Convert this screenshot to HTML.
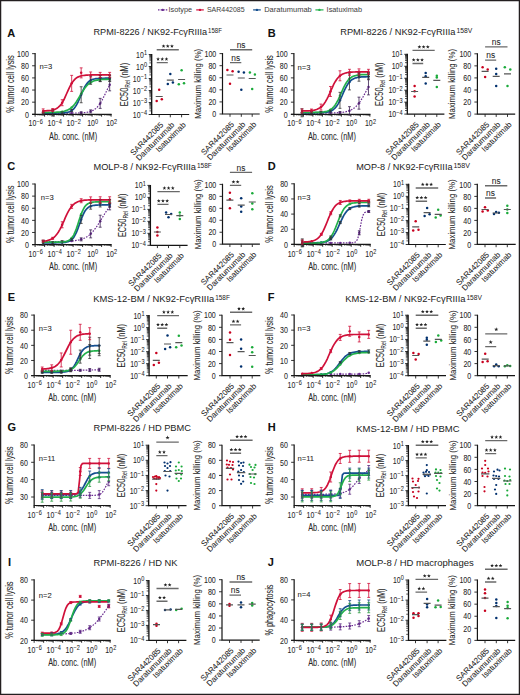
<!DOCTYPE html>
<html><head><meta charset="utf-8"><style>
html,body{margin:0;padding:0;background:#fff;}
svg{display:block;font-family:"Liberation Sans", sans-serif;}
text{stroke:#262626;stroke-width:0.06px;}
</style></head><body>
<svg width="520" height="695" viewBox="0 0 520 695">
<rect x="0.6" y="0.6" width="518.8" height="693.8" fill="#fff" stroke="#231f20" stroke-width="1.3"/>
<line x1="158" y1="9.9" x2="167.5" y2="9.9" stroke="#6a2c91" stroke-width="1.2" stroke-dasharray="1.5,1.1"/>
<circle cx="162.75" cy="9.9" r="1.2" fill="#6a2c91"/>
<text x="168.5" y="12.1" font-size="7.6" fill="#3a3a3a" style="stroke:none" textLength="23.5" lengthAdjust="spacingAndGlyphs">Isotype</text>
<line x1="196.2" y1="9.9" x2="203.8" y2="9.9" stroke="#d0103a" stroke-width="1.2"/>
<circle cx="200.00" cy="9.9" r="1.2" fill="#d0103a"/>
<text x="206.9" y="12.1" font-size="7.6" fill="#3a3a3a" style="stroke:none" textLength="37.7" lengthAdjust="spacingAndGlyphs">SAR442085</text>
<line x1="253.1" y1="9.9" x2="260.8" y2="9.9" stroke="#154f8f" stroke-width="1.2"/>
<circle cx="256.95" cy="9.9" r="1.2" fill="#154f8f"/>
<text x="264.2" y="12.1" font-size="7.6" fill="#3a3a3a" style="stroke:none" textLength="47.6" lengthAdjust="spacingAndGlyphs">Daratumumab</text>
<line x1="315.4" y1="9.9" x2="323.5" y2="9.9" stroke="#22b04b" stroke-width="1.2"/>
<circle cx="319.45" cy="9.9" r="1.2" fill="#22b04b"/>
<text x="326.6" y="12.1" font-size="7.6" fill="#3a3a3a" style="stroke:none" textLength="35.4" lengthAdjust="spacingAndGlyphs">Isatuximab</text>
<text x="7.20" y="36.80" font-size="11" font-weight="bold" fill="#111">A</text>
<text x="93.50" y="35.20" font-size="9.3" fill="#222" style="stroke:none" textLength="113.70" lengthAdjust="spacingAndGlyphs">RPMI-8226 / NK92-FcγRIIIa</text>
<text x="208.10" y="33.20" font-size="6.6" fill="#222" style="stroke:none" textLength="13.80" lengthAdjust="spacingAndGlyphs">158F</text>
<text x="28.90" y="117.50" font-size="8.5" text-anchor="end" textLength="3.93" lengthAdjust="spacingAndGlyphs" fill="#262626">0</text>
<text x="28.90" y="105.37" font-size="8.5" text-anchor="end" textLength="7.86" lengthAdjust="spacingAndGlyphs" fill="#262626">20</text>
<text x="28.90" y="93.24" font-size="8.5" text-anchor="end" textLength="7.86" lengthAdjust="spacingAndGlyphs" fill="#262626">40</text>
<text x="28.90" y="81.11" font-size="8.5" text-anchor="end" textLength="7.86" lengthAdjust="spacingAndGlyphs" fill="#262626">60</text>
<text x="28.90" y="68.98" font-size="8.5" text-anchor="end" textLength="7.86" lengthAdjust="spacingAndGlyphs" fill="#262626">80</text>
<text x="28.90" y="56.85" font-size="8.5" text-anchor="end" textLength="11.79" lengthAdjust="spacingAndGlyphs" fill="#262626">100</text>
<text x="28.56" y="126.40" font-size="8.3" fill="#262626" textLength="7.7" lengthAdjust="spacingAndGlyphs">10</text>
<text x="36.46" y="123.83" font-size="6.44" fill="#262626" textLength="6.38" lengthAdjust="spacingAndGlyphs">−6</text>
<text x="47.56" y="126.40" font-size="8.3" fill="#262626" textLength="7.7" lengthAdjust="spacingAndGlyphs">10</text>
<text x="55.46" y="123.83" font-size="6.44" fill="#262626" textLength="6.38" lengthAdjust="spacingAndGlyphs">−4</text>
<text x="66.56" y="126.40" font-size="8.3" fill="#262626" textLength="7.7" lengthAdjust="spacingAndGlyphs">10</text>
<text x="74.46" y="123.83" font-size="6.44" fill="#262626" textLength="6.38" lengthAdjust="spacingAndGlyphs">−2</text>
<text x="87.19" y="126.40" font-size="8.3" fill="#262626" textLength="7.7" lengthAdjust="spacingAndGlyphs">10</text>
<text x="95.09" y="123.83" font-size="6.44" fill="#262626" textLength="3.11" lengthAdjust="spacingAndGlyphs">0</text>
<text x="106.19" y="126.40" font-size="8.3" fill="#262626" textLength="7.7" lengthAdjust="spacingAndGlyphs">10</text>
<text x="114.09" y="123.83" font-size="6.44" fill="#262626" textLength="3.11" lengthAdjust="spacingAndGlyphs">2</text>
<text x="73.10" y="139.70" font-size="10.2" text-anchor="middle" textLength="48.00" lengthAdjust="spacingAndGlyphs" fill="#262626">Ab. conc. (nM)</text>
<text transform="translate(13.70,83.97) rotate(-90)" font-size="10.2" text-anchor="middle" fill="#262626" textLength="57.4" lengthAdjust="spacingAndGlyphs">% tumor cell lysis</text>
<text x="39.40" y="69.20" font-size="7.6" fill="#262626">n=3</text>
<path d="M43.2,113.1 L44.6,113.1 L45.9,113.1 L47.3,113.1 L48.7,113.1 L50.1,113.1 L51.5,113.1 L52.9,113.1 L54.3,113.1 L55.6,113.1 L57.0,113.1 L58.4,113.1 L59.8,113.1 L61.2,113.1 L62.6,113.1 L64.0,113.1 L65.3,113.1 L66.7,113.1 L68.1,113.1 L69.5,113.1 L70.9,113.1 L72.3,113.0 L73.7,113.0 L75.0,113.0 L76.4,113.0 L77.8,113.0 L79.2,112.9 L80.6,112.9 L82.0,112.8 L83.4,112.7 L84.7,112.6 L86.1,112.4 L87.5,112.2 L88.9,111.9 L90.3,111.5 L91.7,111.0 L93.0,110.4 L94.4,109.5 L95.8,108.5 L97.2,107.2 L98.6,105.6 L100.0,103.7 L101.4,101.5 L102.7,98.9 L104.1,96.2 L105.5,93.3 L106.9,90.3 L108.3,87.5 L109.7,84.8" fill="none" stroke="#6a2c91" stroke-width="1.2" stroke-dasharray="1.6,1.3"/>
<path d="M43.2,113.1 L44.6,113.1 L45.9,113.1 L47.3,113.1 L48.7,113.1 L50.1,113.1 L51.5,113.1 L52.9,113.1 L54.3,113.1 L55.6,113.1 L57.0,113.0 L58.4,113.0 L59.8,113.0 L61.2,112.9 L62.6,112.9 L64.0,112.8 L65.3,112.6 L66.7,112.4 L68.1,112.1 L69.5,111.7 L70.9,111.0 L72.3,110.1 L73.7,108.9 L75.0,107.3 L76.4,105.1 L77.8,102.5 L79.2,99.5 L80.6,96.2 L82.0,92.8 L83.4,89.7 L84.7,86.9 L86.1,84.7 L87.5,82.9 L88.9,81.5 L90.3,80.5 L91.7,79.8 L93.0,79.3 L94.4,79.0 L95.8,78.7 L97.2,78.6 L98.6,78.5 L100.0,78.4 L101.4,78.3 L102.7,78.3 L104.1,78.3 L105.5,78.2 L106.9,78.2 L108.3,78.2 L109.7,78.2" fill="none" stroke="#154f8f" stroke-width="1.7"/>
<path d="M43.2,112.5 L44.6,112.5 L45.9,112.5 L47.3,112.4 L48.7,112.4 L50.1,112.4 L51.5,112.4 L52.9,112.4 L54.3,112.3 L55.6,112.3 L57.0,112.2 L58.4,112.1 L59.8,112.0 L61.2,111.8 L62.6,111.6 L64.0,111.3 L65.3,110.9 L66.7,110.4 L68.1,109.8 L69.5,109.0 L70.9,108.1 L72.3,106.8 L73.7,105.4 L75.0,103.7 L76.4,101.7 L77.8,99.5 L79.2,97.2 L80.6,94.8 L82.0,92.5 L83.4,90.3 L84.7,88.3 L86.1,86.5 L87.5,85.0 L88.9,83.7 L90.3,82.7 L91.7,81.9 L93.0,81.2 L94.4,80.7 L95.8,80.4 L97.2,80.1 L98.6,79.8 L100.0,79.7 L101.4,79.5 L102.7,79.4 L104.1,79.4 L105.5,79.3 L106.9,79.3 L108.3,79.2 L109.7,79.2" fill="none" stroke="#22b04b" stroke-width="1.7"/>
<path d="M43.2,110.9 L44.6,110.8 L45.9,110.8 L47.3,110.7 L48.7,110.6 L50.1,110.5 L51.5,110.3 L52.9,110.0 L54.3,109.6 L55.6,109.0 L57.0,108.3 L58.4,107.2 L59.8,105.9 L61.2,104.2 L62.6,102.1 L64.0,99.5 L65.3,96.6 L66.7,93.5 L68.1,90.4 L69.5,87.4 L70.9,84.7 L72.3,82.4 L73.7,80.6 L75.0,79.1 L76.4,77.9 L77.8,77.1 L79.2,76.5 L80.6,76.0 L82.0,75.7 L83.4,75.5 L84.7,75.3 L86.1,75.2 L87.5,75.1 L88.9,75.0 L90.3,75.0 L91.7,74.9 L93.0,74.9 L94.4,74.9 L95.8,74.9 L97.2,74.9 L98.6,74.9 L100.0,74.9 L101.4,74.9 L102.7,74.9 L104.1,74.9 L105.5,74.9 L106.9,74.9 L108.3,74.9 L109.7,74.9" fill="none" stroke="#d0103a" stroke-width="1.7"/>
<circle cx="43.17" cy="113.09" r="1.25" fill="#6a2c91"/>
<circle cx="52.67" cy="113.09" r="1.25" fill="#6a2c91"/>
<circle cx="62.17" cy="113.08" r="1.25" fill="#6a2c91"/>
<circle cx="71.67" cy="113.05" r="1.25" fill="#6a2c91"/>
<circle cx="81.17" cy="112.84" r="1.25" fill="#6a2c91"/>
<circle cx="90.67" cy="111.37" r="1.25" fill="#6a2c91"/>
<circle cx="100.18" cy="103.39" r="1.25" fill="#6a2c91"/>
<circle cx="109.68" cy="84.83" r="1.25" fill="#6a2c91"/>
<circle cx="43.17" cy="113.09" r="1.25" fill="#154f8f"/>
<circle cx="52.67" cy="113.07" r="1.25" fill="#154f8f"/>
<circle cx="62.17" cy="112.89" r="1.25" fill="#154f8f"/>
<circle cx="71.67" cy="110.55" r="1.25" fill="#154f8f"/>
<circle cx="81.17" cy="94.74" r="1.25" fill="#154f8f"/>
<circle cx="90.67" cy="80.30" r="1.25" fill="#154f8f"/>
<circle cx="100.18" cy="78.37" r="1.25" fill="#154f8f"/>
<circle cx="109.68" cy="78.22" r="1.25" fill="#154f8f"/>
<circle cx="43.17" cy="112.46" r="1.25" fill="#22b04b"/>
<circle cx="52.67" cy="112.36" r="1.25" fill="#22b04b"/>
<circle cx="62.17" cy="111.65" r="1.25" fill="#22b04b"/>
<circle cx="71.67" cy="107.39" r="1.25" fill="#22b04b"/>
<circle cx="81.17" cy="93.79" r="1.25" fill="#22b04b"/>
<circle cx="90.67" cy="82.45" r="1.25" fill="#22b04b"/>
<circle cx="100.18" cy="79.64" r="1.25" fill="#22b04b"/>
<circle cx="109.68" cy="79.20" r="1.25" fill="#22b04b"/>
<circle cx="43.17" cy="110.88" r="1.25" fill="#d0103a"/>
<circle cx="52.67" cy="110.01" r="1.25" fill="#d0103a"/>
<circle cx="62.17" cy="102.71" r="1.25" fill="#d0103a"/>
<circle cx="71.67" cy="83.37" r="1.25" fill="#d0103a"/>
<circle cx="81.17" cy="72.86" r="1.25" fill="#d0103a"/>
<circle cx="90.67" cy="74.97" r="1.25" fill="#d0103a"/>
<circle cx="100.18" cy="74.89" r="1.25" fill="#d0103a"/>
<circle cx="109.68" cy="74.88" r="1.25" fill="#d0103a"/>
<text x="132.82" y="117.50" font-size="8.3" fill="#262626" textLength="7.7" lengthAdjust="spacingAndGlyphs">10</text>
<text x="140.72" y="114.93" font-size="6.44" fill="#262626" textLength="6.38" lengthAdjust="spacingAndGlyphs">−4</text>
<text x="132.82" y="105.50" font-size="8.3" fill="#262626" textLength="7.7" lengthAdjust="spacingAndGlyphs">10</text>
<text x="140.72" y="102.93" font-size="6.44" fill="#262626" textLength="6.38" lengthAdjust="spacingAndGlyphs">−3</text>
<text x="132.82" y="93.50" font-size="8.3" fill="#262626" textLength="7.7" lengthAdjust="spacingAndGlyphs">10</text>
<text x="140.72" y="90.93" font-size="6.44" fill="#262626" textLength="6.38" lengthAdjust="spacingAndGlyphs">−2</text>
<text x="132.82" y="81.50" font-size="8.3" fill="#262626" textLength="7.7" lengthAdjust="spacingAndGlyphs">10</text>
<text x="140.72" y="78.93" font-size="6.44" fill="#262626" textLength="6.38" lengthAdjust="spacingAndGlyphs">−1</text>
<text x="136.09" y="69.50" font-size="8.3" fill="#262626" textLength="7.7" lengthAdjust="spacingAndGlyphs">10</text>
<text x="143.99" y="66.93" font-size="6.44" fill="#262626" textLength="3.11" lengthAdjust="spacingAndGlyphs">0</text>
<text x="136.09" y="57.50" font-size="8.3" fill="#262626" textLength="7.7" lengthAdjust="spacingAndGlyphs">10</text>
<text x="143.99" y="54.93" font-size="6.44" fill="#262626" textLength="3.11" lengthAdjust="spacingAndGlyphs">1</text>
<text transform="translate(127.70,84.50) rotate(-90)" font-size="10.2" text-anchor="middle" fill="#262626" textLength="43.5" lengthAdjust="spacingAndGlyphs">EC50<tspan font-size="7" dy="2.0">Rel</tspan><tspan dy="-2.0"> (nM)</tspan></text>
<text transform="translate(163.90,125.40) rotate(-45)" font-size="8" text-anchor="end" fill="#262626">SAR442085</text>
<text transform="translate(175.00,125.40) rotate(-45)" font-size="8" text-anchor="end" fill="#262626">Daratumumab</text>
<text transform="translate(186.30,125.40) rotate(-45)" font-size="8" text-anchor="end" fill="#262626">Isatuximab</text>
<circle cx="156.70" cy="100.90" r="1.25" fill="#c8001e"/>
<circle cx="161.80" cy="99.30" r="1.25" fill="#c8001e"/>
<circle cx="159.20" cy="89.80" r="1.25" fill="#c8001e"/>
<circle cx="167.80" cy="83.90" r="1.25" fill="#00306e"/>
<circle cx="172.90" cy="82.60" r="1.25" fill="#00306e"/>
<circle cx="170.30" cy="73.90" r="1.25" fill="#00306e"/>
<circle cx="178.80" cy="84.30" r="1.25" fill="#1aaa3a"/>
<circle cx="184.00" cy="83.30" r="1.25" fill="#1aaa3a"/>
<circle cx="181.60" cy="70.20" r="1.25" fill="#1aaa3a"/>
<text x="216.30" y="117.20" font-size="8.5" text-anchor="end" textLength="3.93" lengthAdjust="spacingAndGlyphs" fill="#262626">0</text>
<text x="216.30" y="105.12" font-size="8.5" text-anchor="end" textLength="7.86" lengthAdjust="spacingAndGlyphs" fill="#262626">20</text>
<text x="216.30" y="93.04" font-size="8.5" text-anchor="end" textLength="7.86" lengthAdjust="spacingAndGlyphs" fill="#262626">40</text>
<text x="216.30" y="80.96" font-size="8.5" text-anchor="end" textLength="7.86" lengthAdjust="spacingAndGlyphs" fill="#262626">60</text>
<text x="216.30" y="68.88" font-size="8.5" text-anchor="end" textLength="7.86" lengthAdjust="spacingAndGlyphs" fill="#262626">80</text>
<text x="216.30" y="56.80" font-size="8.5" text-anchor="end" textLength="11.79" lengthAdjust="spacingAndGlyphs" fill="#262626">100</text>
<text transform="translate(200.50,83.80) rotate(-90)" font-size="9.6" text-anchor="middle" fill="#262626" textLength="70" lengthAdjust="spacingAndGlyphs">Maximum killing (%)</text>
<text transform="translate(234.70,124.90) rotate(-45)" font-size="8" text-anchor="end" fill="#262626">SAR442085</text>
<text transform="translate(246.00,124.90) rotate(-45)" font-size="8" text-anchor="end" fill="#262626">Daratumumab</text>
<text transform="translate(256.90,124.90) rotate(-45)" font-size="8" text-anchor="end" fill="#262626">Isatuximab</text>
<circle cx="227.40" cy="69.90" r="1.25" fill="#c8001e"/>
<circle cx="232.60" cy="71.20" r="1.25" fill="#c8001e"/>
<circle cx="230.00" cy="83.80" r="1.25" fill="#c8001e"/>
<circle cx="238.60" cy="71.70" r="1.25" fill="#00306e"/>
<circle cx="243.90" cy="72.50" r="1.25" fill="#00306e"/>
<circle cx="241.30" cy="89.80" r="1.25" fill="#00306e"/>
<circle cx="249.90" cy="72.50" r="1.25" fill="#1aaa3a"/>
<circle cx="254.90" cy="74.40" r="1.25" fill="#1aaa3a"/>
<circle cx="252.20" cy="89.00" r="1.25" fill="#1aaa3a"/>
<text x="235.65" y="60.80" font-size="8.4" text-anchor="middle" fill="#262626">ns</text>
<text x="241.10" y="48.00" font-size="8.4" text-anchor="middle" fill="#262626">ns</text>
<text x="267.80" y="36.80" font-size="11" font-weight="bold" fill="#111">B</text>
<text x="340.20" y="35.20" font-size="9.3" fill="#222" style="stroke:none" textLength="115.30" lengthAdjust="spacingAndGlyphs">RPMI-8226 / NK92-FcγRIIIa</text>
<text x="456.40" y="33.20" font-size="6.6" fill="#222" style="stroke:none" textLength="15.80" lengthAdjust="spacingAndGlyphs">158V</text>
<text x="287.70" y="117.50" font-size="8.5" text-anchor="end" textLength="3.93" lengthAdjust="spacingAndGlyphs" fill="#262626">0</text>
<text x="287.70" y="105.36" font-size="8.5" text-anchor="end" textLength="7.86" lengthAdjust="spacingAndGlyphs" fill="#262626">20</text>
<text x="287.70" y="93.22" font-size="8.5" text-anchor="end" textLength="7.86" lengthAdjust="spacingAndGlyphs" fill="#262626">40</text>
<text x="287.70" y="81.08" font-size="8.5" text-anchor="end" textLength="7.86" lengthAdjust="spacingAndGlyphs" fill="#262626">60</text>
<text x="287.70" y="68.94" font-size="8.5" text-anchor="end" textLength="7.86" lengthAdjust="spacingAndGlyphs" fill="#262626">80</text>
<text x="287.70" y="56.80" font-size="8.5" text-anchor="end" textLength="11.79" lengthAdjust="spacingAndGlyphs" fill="#262626">100</text>
<text x="287.36" y="126.40" font-size="8.3" fill="#262626" textLength="7.7" lengthAdjust="spacingAndGlyphs">10</text>
<text x="295.26" y="123.83" font-size="6.44" fill="#262626" textLength="6.38" lengthAdjust="spacingAndGlyphs">−6</text>
<text x="306.36" y="126.40" font-size="8.3" fill="#262626" textLength="7.7" lengthAdjust="spacingAndGlyphs">10</text>
<text x="314.26" y="123.83" font-size="6.44" fill="#262626" textLength="6.38" lengthAdjust="spacingAndGlyphs">−4</text>
<text x="325.36" y="126.40" font-size="8.3" fill="#262626" textLength="7.7" lengthAdjust="spacingAndGlyphs">10</text>
<text x="333.26" y="123.83" font-size="6.44" fill="#262626" textLength="6.38" lengthAdjust="spacingAndGlyphs">−2</text>
<text x="345.99" y="126.40" font-size="8.3" fill="#262626" textLength="7.7" lengthAdjust="spacingAndGlyphs">10</text>
<text x="353.89" y="123.83" font-size="6.44" fill="#262626" textLength="3.11" lengthAdjust="spacingAndGlyphs">0</text>
<text x="364.99" y="126.40" font-size="8.3" fill="#262626" textLength="7.7" lengthAdjust="spacingAndGlyphs">10</text>
<text x="372.89" y="123.83" font-size="6.44" fill="#262626" textLength="3.11" lengthAdjust="spacingAndGlyphs">2</text>
<text x="331.90" y="139.70" font-size="10.2" text-anchor="middle" textLength="48.00" lengthAdjust="spacingAndGlyphs" fill="#262626">Ab. conc. (nM)</text>
<text transform="translate(272.50,83.95) rotate(-90)" font-size="10.2" text-anchor="middle" fill="#262626" textLength="57.4" lengthAdjust="spacingAndGlyphs">% tumor cell lysis</text>
<text x="297.50" y="69.70" font-size="7.6" fill="#262626">n=3</text>
<path d="M302.0,113.1 L303.4,113.1 L304.7,113.1 L306.1,113.1 L307.5,113.1 L308.9,113.1 L310.3,113.1 L311.7,113.1 L313.1,113.1 L314.4,113.1 L315.8,113.1 L317.2,113.1 L318.6,113.1 L320.0,113.1 L321.4,113.1 L322.8,113.1 L324.1,113.1 L325.5,113.0 L326.9,113.0 L328.3,113.0 L329.7,113.0 L331.1,113.0 L332.5,112.9 L333.8,112.9 L335.2,112.9 L336.6,112.8 L338.0,112.7 L339.4,112.6 L340.8,112.5 L342.2,112.4 L343.5,112.2 L344.9,111.9 L346.3,111.6 L347.7,111.3 L349.1,110.8 L350.5,110.3 L351.8,109.6 L353.2,108.7 L354.6,107.7 L356.0,106.5 L357.4,105.1 L358.8,103.4 L360.2,101.5 L361.5,99.4 L362.9,97.1 L364.3,94.6 L365.7,92.0 L367.1,89.4 L368.5,86.9" fill="none" stroke="#6a2c91" stroke-width="1.2" stroke-dasharray="1.6,1.3"/>
<path d="M302.0,112.8 L303.4,112.8 L304.7,112.8 L306.1,112.8 L307.5,112.8 L308.9,112.8 L310.3,112.8 L311.7,112.8 L313.1,112.8 L314.4,112.8 L315.8,112.7 L317.2,112.7 L318.6,112.7 L320.0,112.7 L321.4,112.6 L322.8,112.5 L324.1,112.4 L325.5,112.3 L326.9,112.1 L328.3,111.8 L329.7,111.4 L331.1,110.9 L332.5,110.2 L333.8,109.2 L335.2,107.9 L336.6,106.2 L338.0,104.1 L339.4,101.5 L340.8,98.6 L342.2,95.5 L343.5,92.4 L344.9,89.3 L346.3,86.6 L347.7,84.3 L349.1,82.4 L350.5,80.9 L351.8,79.7 L353.2,78.9 L354.6,78.2 L356.0,77.8 L357.4,77.5 L358.8,77.2 L360.2,77.1 L361.5,76.9 L362.9,76.9 L364.3,76.8 L365.7,76.8 L367.1,76.7 L368.5,76.7" fill="none" stroke="#154f8f" stroke-width="1.7"/>
<path d="M302.0,112.5 L303.4,112.5 L304.7,112.5 L306.1,112.5 L307.5,112.5 L308.9,112.5 L310.3,112.5 L311.7,112.4 L313.1,112.4 L314.4,112.4 L315.8,112.4 L317.2,112.4 L318.6,112.3 L320.0,112.2 L321.4,112.2 L322.8,112.0 L324.1,111.9 L325.5,111.6 L326.9,111.3 L328.3,110.8 L329.7,110.2 L331.1,109.3 L332.5,108.2 L333.8,106.8 L335.2,105.0 L336.6,102.7 L338.0,100.1 L339.4,97.2 L340.8,94.0 L342.2,90.8 L343.5,87.8 L344.9,85.1 L346.3,82.7 L347.7,80.7 L349.1,79.2 L350.5,78.0 L351.8,77.0 L353.2,76.3 L354.6,75.8 L356.0,75.5 L357.4,75.2 L358.8,75.0 L360.2,74.8 L361.5,74.7 L362.9,74.7 L364.3,74.6 L365.7,74.6 L367.1,74.5 L368.5,74.5" fill="none" stroke="#22b04b" stroke-width="1.7"/>
<path d="M302.0,111.0 L303.4,110.9 L304.7,110.9 L306.1,110.9 L307.5,110.8 L308.9,110.8 L310.3,110.7 L311.7,110.5 L313.1,110.3 L314.4,110.1 L315.8,109.7 L317.2,109.3 L318.6,108.6 L320.0,107.8 L321.4,106.8 L322.8,105.4 L324.1,103.7 L325.5,101.6 L326.9,99.1 L328.3,96.3 L329.7,93.3 L331.1,90.1 L332.5,87.1 L333.8,84.2 L335.2,81.7 L336.6,79.5 L338.0,77.7 L339.4,76.3 L340.8,75.2 L342.2,74.3 L343.5,73.7 L344.9,73.2 L346.3,72.8 L347.7,72.5 L349.1,72.3 L350.5,72.2 L351.8,72.1 L353.2,72.0 L354.6,72.0 L356.0,71.9 L357.4,71.9 L358.8,71.9 L360.2,71.9 L361.5,71.8 L362.9,71.8 L364.3,71.8 L365.7,71.8 L367.1,71.8 L368.5,71.8" fill="none" stroke="#d0103a" stroke-width="1.7"/>
<circle cx="301.97" cy="113.09" r="1.25" fill="#6a2c91"/>
<circle cx="311.47" cy="113.08" r="1.25" fill="#6a2c91"/>
<circle cx="320.97" cy="113.07" r="1.25" fill="#6a2c91"/>
<circle cx="330.47" cy="112.98" r="1.25" fill="#6a2c91"/>
<circle cx="339.97" cy="112.58" r="1.25" fill="#6a2c91"/>
<circle cx="349.47" cy="110.67" r="1.25" fill="#6a2c91"/>
<circle cx="358.97" cy="103.16" r="1.25" fill="#6a2c91"/>
<circle cx="368.47" cy="86.89" r="1.25" fill="#6a2c91"/>
<circle cx="301.97" cy="112.78" r="1.25" fill="#154f8f"/>
<circle cx="311.47" cy="112.77" r="1.25" fill="#154f8f"/>
<circle cx="320.97" cy="112.63" r="1.25" fill="#154f8f"/>
<circle cx="330.47" cy="111.17" r="1.25" fill="#154f8f"/>
<circle cx="339.97" cy="100.33" r="1.25" fill="#154f8f"/>
<circle cx="349.47" cy="81.90" r="1.25" fill="#154f8f"/>
<circle cx="358.97" cy="77.20" r="1.25" fill="#154f8f"/>
<circle cx="368.47" cy="76.71" r="1.25" fill="#154f8f"/>
<circle cx="301.97" cy="112.48" r="1.25" fill="#22b04b"/>
<circle cx="311.47" cy="112.45" r="1.25" fill="#22b04b"/>
<circle cx="320.97" cy="112.18" r="1.25" fill="#22b04b"/>
<circle cx="330.47" cy="109.73" r="1.25" fill="#22b04b"/>
<circle cx="339.97" cy="95.83" r="1.25" fill="#22b04b"/>
<circle cx="349.47" cy="78.80" r="1.25" fill="#22b04b"/>
<circle cx="358.97" cy="74.96" r="1.25" fill="#22b04b"/>
<circle cx="368.47" cy="74.53" r="1.25" fill="#22b04b"/>
<circle cx="301.97" cy="110.97" r="1.25" fill="#d0103a"/>
<circle cx="311.47" cy="110.54" r="1.25" fill="#d0103a"/>
<circle cx="320.97" cy="107.09" r="1.25" fill="#d0103a"/>
<circle cx="330.47" cy="91.47" r="1.25" fill="#d0103a"/>
<circle cx="339.97" cy="75.79" r="1.25" fill="#d0103a"/>
<circle cx="349.47" cy="72.30" r="1.25" fill="#d0103a"/>
<circle cx="358.97" cy="71.87" r="1.25" fill="#d0103a"/>
<circle cx="368.47" cy="71.82" r="1.25" fill="#d0103a"/>
<text x="388.42" y="117.10" font-size="8.3" fill="#262626" textLength="7.7" lengthAdjust="spacingAndGlyphs">10</text>
<text x="396.32" y="114.53" font-size="6.44" fill="#262626" textLength="6.38" lengthAdjust="spacingAndGlyphs">−4</text>
<text x="388.42" y="105.14" font-size="8.3" fill="#262626" textLength="7.7" lengthAdjust="spacingAndGlyphs">10</text>
<text x="396.32" y="102.57" font-size="6.44" fill="#262626" textLength="6.38" lengthAdjust="spacingAndGlyphs">−3</text>
<text x="388.42" y="93.18" font-size="8.3" fill="#262626" textLength="7.7" lengthAdjust="spacingAndGlyphs">10</text>
<text x="396.32" y="90.61" font-size="6.44" fill="#262626" textLength="6.38" lengthAdjust="spacingAndGlyphs">−2</text>
<text x="388.42" y="81.22" font-size="8.3" fill="#262626" textLength="7.7" lengthAdjust="spacingAndGlyphs">10</text>
<text x="396.32" y="78.65" font-size="6.44" fill="#262626" textLength="6.38" lengthAdjust="spacingAndGlyphs">−1</text>
<text x="391.69" y="69.26" font-size="8.3" fill="#262626" textLength="7.7" lengthAdjust="spacingAndGlyphs">10</text>
<text x="399.59" y="66.69" font-size="6.44" fill="#262626" textLength="3.11" lengthAdjust="spacingAndGlyphs">0</text>
<text x="391.69" y="57.30" font-size="8.3" fill="#262626" textLength="7.7" lengthAdjust="spacingAndGlyphs">10</text>
<text x="399.59" y="54.73" font-size="6.44" fill="#262626" textLength="3.11" lengthAdjust="spacingAndGlyphs">1</text>
<text transform="translate(383.30,84.20) rotate(-90)" font-size="10.2" text-anchor="middle" fill="#262626" textLength="43.5" lengthAdjust="spacingAndGlyphs">EC50<tspan font-size="7" dy="2.0">Rel</tspan><tspan dy="-2.0"> (nM)</tspan></text>
<text transform="translate(419.30,125.00) rotate(-45)" font-size="8" text-anchor="end" fill="#262626">SAR442085</text>
<text transform="translate(430.40,125.00) rotate(-45)" font-size="8" text-anchor="end" fill="#262626">Daratumumab</text>
<text transform="translate(441.50,125.00) rotate(-45)" font-size="8" text-anchor="end" fill="#262626">Isatuximab</text>
<circle cx="414.60" cy="86.00" r="1.25" fill="#c8001e"/>
<circle cx="414.60" cy="91.20" r="1.25" fill="#c8001e"/>
<circle cx="414.60" cy="96.50" r="1.25" fill="#c8001e"/>
<circle cx="425.70" cy="73.00" r="1.25" fill="#00306e"/>
<circle cx="425.70" cy="76.30" r="1.25" fill="#00306e"/>
<circle cx="425.70" cy="83.60" r="1.25" fill="#00306e"/>
<circle cx="436.80" cy="75.70" r="1.25" fill="#1aaa3a"/>
<circle cx="436.80" cy="77.40" r="1.25" fill="#1aaa3a"/>
<circle cx="436.80" cy="87.10" r="1.25" fill="#1aaa3a"/>
<text x="471.20" y="117.30" font-size="8.5" text-anchor="end" textLength="3.93" lengthAdjust="spacingAndGlyphs" fill="#262626">0</text>
<text x="471.20" y="105.24" font-size="8.5" text-anchor="end" textLength="7.86" lengthAdjust="spacingAndGlyphs" fill="#262626">20</text>
<text x="471.20" y="93.18" font-size="8.5" text-anchor="end" textLength="7.86" lengthAdjust="spacingAndGlyphs" fill="#262626">40</text>
<text x="471.20" y="81.12" font-size="8.5" text-anchor="end" textLength="7.86" lengthAdjust="spacingAndGlyphs" fill="#262626">60</text>
<text x="471.20" y="69.06" font-size="8.5" text-anchor="end" textLength="7.86" lengthAdjust="spacingAndGlyphs" fill="#262626">80</text>
<text x="471.20" y="57.00" font-size="8.5" text-anchor="end" textLength="11.79" lengthAdjust="spacingAndGlyphs" fill="#262626">100</text>
<text transform="translate(455.40,83.95) rotate(-90)" font-size="9.6" text-anchor="middle" fill="#262626" textLength="70" lengthAdjust="spacingAndGlyphs">Maximum killing (%)</text>
<text transform="translate(489.80,125.00) rotate(-45)" font-size="8" text-anchor="end" fill="#262626">SAR442085</text>
<text transform="translate(500.90,125.00) rotate(-45)" font-size="8" text-anchor="end" fill="#262626">Daratumumab</text>
<text transform="translate(512.20,125.00) rotate(-45)" font-size="8" text-anchor="end" fill="#262626">Isatuximab</text>
<circle cx="482.60" cy="67.30" r="1.25" fill="#c8001e"/>
<circle cx="487.70" cy="69.40" r="1.25" fill="#c8001e"/>
<circle cx="485.10" cy="77.10" r="1.25" fill="#c8001e"/>
<circle cx="496.20" cy="68.70" r="1.25" fill="#00306e"/>
<circle cx="496.20" cy="73.90" r="1.25" fill="#00306e"/>
<circle cx="496.20" cy="86.10" r="1.25" fill="#00306e"/>
<circle cx="504.80" cy="67.30" r="1.25" fill="#1aaa3a"/>
<circle cx="510.30" cy="69.40" r="1.25" fill="#1aaa3a"/>
<circle cx="507.50" cy="86.10" r="1.25" fill="#1aaa3a"/>
<text x="490.65" y="58.30" font-size="8.4" text-anchor="middle" fill="#262626">ns</text>
<text x="496.30" y="45.10" font-size="8.4" text-anchor="middle" fill="#262626">ns</text>
<text x="7.20" y="169.60" font-size="11" font-weight="bold" fill="#111">C</text>
<text x="93.50" y="170.20" font-size="9.3" fill="#222" style="stroke:none" textLength="102.50" lengthAdjust="spacingAndGlyphs">MOLP-8 / NK92-FcγRIIIa</text>
<text x="196.90" y="168.20" font-size="6.6" fill="#222" style="stroke:none" textLength="14.85" lengthAdjust="spacingAndGlyphs">158F</text>
<text x="28.90" y="247.80" font-size="8.5" text-anchor="end" textLength="3.93" lengthAdjust="spacingAndGlyphs" fill="#262626">0</text>
<text x="28.90" y="235.68" font-size="8.5" text-anchor="end" textLength="7.86" lengthAdjust="spacingAndGlyphs" fill="#262626">20</text>
<text x="28.90" y="223.56" font-size="8.5" text-anchor="end" textLength="7.86" lengthAdjust="spacingAndGlyphs" fill="#262626">40</text>
<text x="28.90" y="211.44" font-size="8.5" text-anchor="end" textLength="7.86" lengthAdjust="spacingAndGlyphs" fill="#262626">60</text>
<text x="28.90" y="199.32" font-size="8.5" text-anchor="end" textLength="7.86" lengthAdjust="spacingAndGlyphs" fill="#262626">80</text>
<text x="28.90" y="187.20" font-size="8.5" text-anchor="end" textLength="11.79" lengthAdjust="spacingAndGlyphs" fill="#262626">100</text>
<text x="28.56" y="256.70" font-size="8.3" fill="#262626" textLength="7.7" lengthAdjust="spacingAndGlyphs">10</text>
<text x="36.46" y="254.13" font-size="6.44" fill="#262626" textLength="6.38" lengthAdjust="spacingAndGlyphs">−6</text>
<text x="47.56" y="256.70" font-size="8.3" fill="#262626" textLength="7.7" lengthAdjust="spacingAndGlyphs">10</text>
<text x="55.46" y="254.13" font-size="6.44" fill="#262626" textLength="6.38" lengthAdjust="spacingAndGlyphs">−4</text>
<text x="66.56" y="256.70" font-size="8.3" fill="#262626" textLength="7.7" lengthAdjust="spacingAndGlyphs">10</text>
<text x="74.46" y="254.13" font-size="6.44" fill="#262626" textLength="6.38" lengthAdjust="spacingAndGlyphs">−2</text>
<text x="87.19" y="256.70" font-size="8.3" fill="#262626" textLength="7.7" lengthAdjust="spacingAndGlyphs">10</text>
<text x="95.09" y="254.13" font-size="6.44" fill="#262626" textLength="3.11" lengthAdjust="spacingAndGlyphs">0</text>
<text x="106.19" y="256.70" font-size="8.3" fill="#262626" textLength="7.7" lengthAdjust="spacingAndGlyphs">10</text>
<text x="114.09" y="254.13" font-size="6.44" fill="#262626" textLength="3.11" lengthAdjust="spacingAndGlyphs">2</text>
<text x="73.10" y="270.00" font-size="10.2" text-anchor="middle" textLength="48.00" lengthAdjust="spacingAndGlyphs" fill="#262626">Ab. conc. (nM)</text>
<text transform="translate(13.70,214.30) rotate(-90)" font-size="10.2" text-anchor="middle" fill="#262626" textLength="57.4" lengthAdjust="spacingAndGlyphs">% tumor cell lysis</text>
<text x="40.75" y="199.70" font-size="7.6" fill="#262626">n=3</text>
<path d="M43.2,241.6 L44.6,241.6 L45.9,241.6 L47.3,241.6 L48.7,241.5 L50.1,241.5 L51.5,241.5 L52.9,241.5 L54.3,241.5 L55.6,241.5 L57.0,241.5 L58.4,241.5 L59.8,241.5 L61.2,241.4 L62.6,241.4 L64.0,241.4 L65.3,241.3 L66.7,241.3 L68.1,241.2 L69.5,241.1 L70.9,241.1 L72.3,240.9 L73.7,240.8 L75.0,240.6 L76.4,240.4 L77.8,240.2 L79.2,239.9 L80.6,239.5 L82.0,239.1 L83.4,238.6 L84.7,238.0 L86.1,237.2 L87.5,236.4 L88.9,235.4 L90.3,234.2 L91.7,232.9 L93.0,231.4 L94.4,229.7 L95.8,227.9 L97.2,225.9 L98.6,223.7 L100.0,221.5 L101.4,219.2 L102.7,217.0 L104.1,214.7 L105.5,212.5 L106.9,210.5 L108.3,208.6 L109.7,206.8" fill="none" stroke="#6a2c91" stroke-width="1.2" stroke-dasharray="1.6,1.3"/>
<path d="M43.2,242.8 L44.6,242.8 L45.9,242.8 L47.3,242.8 L48.7,242.8 L50.1,242.8 L51.5,242.8 L52.9,242.8 L54.3,242.8 L55.6,242.8 L57.0,242.7 L58.4,242.7 L59.8,242.7 L61.2,242.6 L62.6,242.6 L64.0,242.5 L65.3,242.3 L66.7,242.0 L68.1,241.7 L69.5,241.1 L70.9,240.3 L72.3,239.1 L73.7,237.4 L75.0,235.2 L76.4,232.3 L77.8,228.9 L79.2,225.0 L80.6,221.1 L82.0,217.3 L83.4,214.1 L84.7,211.5 L86.1,209.5 L87.5,208.1 L88.9,207.0 L90.3,206.3 L91.7,205.9 L93.0,205.5 L94.4,205.3 L95.8,205.2 L97.2,205.1 L98.6,205.0 L100.0,205.0 L101.4,205.0 L102.7,204.9 L104.1,204.9 L105.5,204.9 L106.9,204.9 L108.3,204.9 L109.7,204.9" fill="none" stroke="#154f8f" stroke-width="1.7"/>
<path d="M43.2,242.2 L44.6,242.2 L45.9,242.2 L47.3,242.2 L48.7,242.2 L50.1,242.2 L51.5,242.2 L52.9,242.2 L54.3,242.2 L55.6,242.1 L57.0,242.1 L58.4,242.1 L59.8,242.1 L61.2,242.0 L62.6,241.9 L64.0,241.8 L65.3,241.6 L66.7,241.2 L68.1,240.7 L69.5,240.0 L70.9,238.9 L72.3,237.3 L73.7,235.1 L75.0,232.2 L76.4,228.6 L77.8,224.4 L79.2,220.0 L80.6,215.8 L82.0,212.1 L83.4,209.1 L84.7,206.8 L86.1,205.2 L87.5,204.0 L88.9,203.2 L90.3,202.7 L91.7,202.3 L93.0,202.1 L94.4,202.0 L95.8,201.9 L97.2,201.8 L98.6,201.8 L100.0,201.7 L101.4,201.7 L102.7,201.7 L104.1,201.7 L105.5,201.7 L106.9,201.7 L108.3,201.7 L109.7,201.7" fill="none" stroke="#22b04b" stroke-width="1.7"/>
<path d="M43.2,241.1 L44.6,241.0 L45.9,240.8 L47.3,240.5 L48.7,240.1 L50.1,239.6 L51.5,239.0 L52.9,238.2 L54.3,237.1 L55.6,235.8 L57.0,234.1 L58.4,232.0 L59.8,229.6 L61.2,226.9 L62.6,223.9 L64.0,220.8 L65.3,217.6 L66.7,214.6 L68.1,211.9 L69.5,209.4 L70.9,207.4 L72.3,205.7 L73.7,204.3 L75.0,203.2 L76.4,202.4 L77.8,201.7 L79.2,201.2 L80.6,200.8 L82.0,200.6 L83.4,200.4 L84.7,200.2 L86.1,200.1 L87.5,200.0 L88.9,199.9 L90.3,199.9 L91.7,199.9 L93.0,199.8 L94.4,199.8 L95.8,199.8 L97.2,199.8 L98.6,199.8 L100.0,199.8 L101.4,199.8 L102.7,199.8 L104.1,199.8 L105.5,199.8 L106.9,199.8 L108.3,199.8 L109.7,199.8" fill="none" stroke="#d0103a" stroke-width="1.7"/>
<circle cx="71.68" cy="240.99" r="1.25" fill="#6a2c91"/>
<circle cx="81.17" cy="239.35" r="1.25" fill="#6a2c91"/>
<circle cx="90.67" cy="233.86" r="1.25" fill="#6a2c91"/>
<circle cx="100.18" cy="221.19" r="1.25" fill="#6a2c91"/>
<circle cx="109.68" cy="206.85" r="1.25" fill="#6a2c91"/>
<circle cx="43.17" cy="242.78" r="1.25" fill="#154f8f"/>
<circle cx="52.67" cy="242.77" r="1.25" fill="#154f8f"/>
<circle cx="62.17" cy="242.59" r="1.25" fill="#154f8f"/>
<circle cx="71.67" cy="239.63" r="1.25" fill="#154f8f"/>
<circle cx="81.17" cy="219.41" r="1.25" fill="#154f8f"/>
<circle cx="90.67" cy="206.18" r="1.25" fill="#154f8f"/>
<circle cx="100.18" cy="204.98" r="1.25" fill="#154f8f"/>
<circle cx="109.68" cy="204.91" r="1.25" fill="#154f8f"/>
<circle cx="43.17" cy="242.18" r="1.25" fill="#22b04b"/>
<circle cx="52.67" cy="242.16" r="1.25" fill="#22b04b"/>
<circle cx="62.17" cy="241.95" r="1.25" fill="#22b04b"/>
<circle cx="71.67" cy="238.07" r="1.25" fill="#22b04b"/>
<circle cx="81.17" cy="214.15" r="1.25" fill="#22b04b"/>
<circle cx="90.67" cy="202.58" r="1.25" fill="#22b04b"/>
<circle cx="100.18" cy="201.74" r="1.25" fill="#22b04b"/>
<circle cx="109.68" cy="201.70" r="1.25" fill="#22b04b"/>
<circle cx="43.17" cy="241.13" r="1.25" fill="#d0103a"/>
<circle cx="52.67" cy="238.31" r="1.25" fill="#d0103a"/>
<circle cx="62.17" cy="224.77" r="1.25" fill="#d0103a"/>
<circle cx="71.67" cy="206.36" r="1.25" fill="#d0103a"/>
<circle cx="81.17" cy="200.72" r="1.25" fill="#d0103a"/>
<circle cx="90.67" cy="199.88" r="1.25" fill="#d0103a"/>
<circle cx="100.18" cy="199.77" r="1.25" fill="#d0103a"/>
<circle cx="109.68" cy="199.76" r="1.25" fill="#d0103a"/>
<text x="131.52" y="248.30" font-size="8.3" fill="#262626" textLength="7.7" lengthAdjust="spacingAndGlyphs">10</text>
<text x="139.42" y="245.73" font-size="6.44" fill="#262626" textLength="6.38" lengthAdjust="spacingAndGlyphs">−4</text>
<text x="131.52" y="236.32" font-size="8.3" fill="#262626" textLength="7.7" lengthAdjust="spacingAndGlyphs">10</text>
<text x="139.42" y="233.75" font-size="6.44" fill="#262626" textLength="6.38" lengthAdjust="spacingAndGlyphs">−3</text>
<text x="131.52" y="224.34" font-size="8.3" fill="#262626" textLength="7.7" lengthAdjust="spacingAndGlyphs">10</text>
<text x="139.42" y="221.77" font-size="6.44" fill="#262626" textLength="6.38" lengthAdjust="spacingAndGlyphs">−2</text>
<text x="131.52" y="212.36" font-size="8.3" fill="#262626" textLength="7.7" lengthAdjust="spacingAndGlyphs">10</text>
<text x="139.42" y="209.79" font-size="6.44" fill="#262626" textLength="6.38" lengthAdjust="spacingAndGlyphs">−1</text>
<text x="134.79" y="200.38" font-size="8.3" fill="#262626" textLength="7.7" lengthAdjust="spacingAndGlyphs">10</text>
<text x="142.69" y="197.81" font-size="6.44" fill="#262626" textLength="3.11" lengthAdjust="spacingAndGlyphs">0</text>
<text x="134.79" y="188.40" font-size="8.3" fill="#262626" textLength="7.7" lengthAdjust="spacingAndGlyphs">10</text>
<text x="142.69" y="185.83" font-size="6.44" fill="#262626" textLength="3.11" lengthAdjust="spacingAndGlyphs">1</text>
<text transform="translate(126.40,215.35) rotate(-90)" font-size="10.2" text-anchor="middle" fill="#262626" textLength="43.5" lengthAdjust="spacingAndGlyphs">EC50<tspan font-size="7" dy="2.0">Rel</tspan><tspan dy="-2.0"> (nM)</tspan></text>
<text transform="translate(162.10,256.20) rotate(-45)" font-size="8" text-anchor="end" fill="#262626">SAR442085</text>
<text transform="translate(173.20,256.20) rotate(-45)" font-size="8" text-anchor="end" fill="#262626">Daratumumab</text>
<text transform="translate(184.50,256.20) rotate(-45)" font-size="8" text-anchor="end" fill="#262626">Isatuximab</text>
<circle cx="157.40" cy="227.60" r="1.25" fill="#c8001e"/>
<circle cx="157.40" cy="235.60" r="1.25" fill="#c8001e"/>
<circle cx="157.40" cy="232.00" r="1.25" fill="#c8001e"/>
<circle cx="166.10" cy="212.40" r="1.25" fill="#00306e"/>
<circle cx="171.20" cy="214.00" r="1.25" fill="#00306e"/>
<circle cx="168.50" cy="217.20" r="1.25" fill="#00306e"/>
<circle cx="179.80" cy="212.40" r="1.25" fill="#1aaa3a"/>
<circle cx="179.80" cy="219.00" r="1.25" fill="#1aaa3a"/>
<circle cx="179.80" cy="215.60" r="1.25" fill="#1aaa3a"/>
<text x="216.30" y="247.40" font-size="8.5" text-anchor="end" textLength="3.93" lengthAdjust="spacingAndGlyphs" fill="#262626">0</text>
<text x="216.30" y="235.44" font-size="8.5" text-anchor="end" textLength="7.86" lengthAdjust="spacingAndGlyphs" fill="#262626">20</text>
<text x="216.30" y="223.48" font-size="8.5" text-anchor="end" textLength="7.86" lengthAdjust="spacingAndGlyphs" fill="#262626">40</text>
<text x="216.30" y="211.52" font-size="8.5" text-anchor="end" textLength="7.86" lengthAdjust="spacingAndGlyphs" fill="#262626">60</text>
<text x="216.30" y="199.56" font-size="8.5" text-anchor="end" textLength="7.86" lengthAdjust="spacingAndGlyphs" fill="#262626">80</text>
<text x="216.30" y="187.60" font-size="8.5" text-anchor="end" textLength="11.79" lengthAdjust="spacingAndGlyphs" fill="#262626">100</text>
<text transform="translate(200.50,214.30) rotate(-90)" font-size="9.6" text-anchor="middle" fill="#262626" textLength="70" lengthAdjust="spacingAndGlyphs">Maximum killing (%)</text>
<text transform="translate(234.60,255.10) rotate(-45)" font-size="8" text-anchor="end" fill="#262626">SAR442085</text>
<text transform="translate(245.90,255.10) rotate(-45)" font-size="8" text-anchor="end" fill="#262626">Daratumumab</text>
<text transform="translate(257.00,255.10) rotate(-45)" font-size="8" text-anchor="end" fill="#262626">Isatuximab</text>
<circle cx="229.90" cy="192.70" r="1.25" fill="#c8001e"/>
<circle cx="229.90" cy="199.20" r="1.25" fill="#c8001e"/>
<circle cx="229.90" cy="208.20" r="1.25" fill="#c8001e"/>
<circle cx="241.20" cy="198.30" r="1.25" fill="#00306e"/>
<circle cx="241.20" cy="206.60" r="1.25" fill="#00306e"/>
<circle cx="241.20" cy="211.70" r="1.25" fill="#00306e"/>
<circle cx="252.30" cy="193.30" r="1.25" fill="#1aaa3a"/>
<circle cx="252.30" cy="203.40" r="1.25" fill="#1aaa3a"/>
<circle cx="252.30" cy="209.30" r="1.25" fill="#1aaa3a"/>
<text x="241.00" y="170.60" font-size="8.4" text-anchor="middle" fill="#262626">ns</text>
<text x="267.80" y="169.60" font-size="11" font-weight="bold" fill="#111">D</text>
<text x="356.25" y="169.70" font-size="9.3" fill="#222" style="stroke:none" textLength="96.25" lengthAdjust="spacingAndGlyphs">MOP-8 / NK92-FcγRIIIa</text>
<text x="453.40" y="167.70" font-size="6.6" fill="#222" style="stroke:none" textLength="16.60" lengthAdjust="spacingAndGlyphs">158V</text>
<text x="288.00" y="247.60" font-size="8.5" text-anchor="end" textLength="3.93" lengthAdjust="spacingAndGlyphs" fill="#262626">0</text>
<text x="288.00" y="232.45" font-size="8.5" text-anchor="end" textLength="7.86" lengthAdjust="spacingAndGlyphs" fill="#262626">20</text>
<text x="288.00" y="217.30" font-size="8.5" text-anchor="end" textLength="7.86" lengthAdjust="spacingAndGlyphs" fill="#262626">40</text>
<text x="288.00" y="202.15" font-size="8.5" text-anchor="end" textLength="7.86" lengthAdjust="spacingAndGlyphs" fill="#262626">60</text>
<text x="288.00" y="187.00" font-size="8.5" text-anchor="end" textLength="7.86" lengthAdjust="spacingAndGlyphs" fill="#262626">80</text>
<text x="287.66" y="256.50" font-size="8.3" fill="#262626" textLength="7.7" lengthAdjust="spacingAndGlyphs">10</text>
<text x="295.56" y="253.93" font-size="6.44" fill="#262626" textLength="6.38" lengthAdjust="spacingAndGlyphs">−6</text>
<text x="306.66" y="256.50" font-size="8.3" fill="#262626" textLength="7.7" lengthAdjust="spacingAndGlyphs">10</text>
<text x="314.56" y="253.93" font-size="6.44" fill="#262626" textLength="6.38" lengthAdjust="spacingAndGlyphs">−4</text>
<text x="325.66" y="256.50" font-size="8.3" fill="#262626" textLength="7.7" lengthAdjust="spacingAndGlyphs">10</text>
<text x="333.56" y="253.93" font-size="6.44" fill="#262626" textLength="6.38" lengthAdjust="spacingAndGlyphs">−2</text>
<text x="346.29" y="256.50" font-size="8.3" fill="#262626" textLength="7.7" lengthAdjust="spacingAndGlyphs">10</text>
<text x="354.19" y="253.93" font-size="6.44" fill="#262626" textLength="3.11" lengthAdjust="spacingAndGlyphs">0</text>
<text x="365.29" y="256.50" font-size="8.3" fill="#262626" textLength="7.7" lengthAdjust="spacingAndGlyphs">10</text>
<text x="373.19" y="253.93" font-size="6.44" fill="#262626" textLength="3.11" lengthAdjust="spacingAndGlyphs">2</text>
<text x="332.20" y="269.80" font-size="10.2" text-anchor="middle" textLength="48.00" lengthAdjust="spacingAndGlyphs" fill="#262626">Ab. conc. (nM)</text>
<text transform="translate(272.80,214.10) rotate(-90)" font-size="10.2" text-anchor="middle" fill="#262626" textLength="57.4" lengthAdjust="spacingAndGlyphs">% tumor cell lysis</text>
<text x="297.50" y="200.20" font-size="7.6" fill="#262626">n=3</text>
<path d="M302.3,242.9 L303.7,242.9 L305.0,242.9 L306.4,242.9 L307.8,242.9 L309.2,242.9 L310.6,242.9 L312.0,242.9 L313.4,242.9 L314.7,242.9 L316.1,242.9 L317.5,242.9 L318.9,242.9 L320.3,242.9 L321.7,242.9 L323.1,242.9 L324.4,242.9 L325.8,242.9 L327.2,242.9 L328.6,242.9 L330.0,242.9 L331.4,242.9 L332.8,242.9 L334.1,242.9 L335.5,242.9 L336.9,242.9 L338.3,242.9 L339.7,242.9 L341.1,242.9 L342.5,242.9 L343.8,242.9 L345.2,242.9 L346.6,242.9 L348.0,242.9 L349.4,242.9 L350.8,242.9 L352.1,242.8 L353.5,242.7 L354.9,242.3 L356.3,241.3 L357.7,238.8 L359.1,233.7 L360.5,226.2 L361.8,219.2 L363.2,214.8 L364.6,212.8 L366.0,211.9 L367.4,211.6 L368.8,211.5" fill="none" stroke="#6a2c91" stroke-width="1.2" stroke-dasharray="1.6,1.3"/>
<path d="M302.3,242.9 L303.7,242.9 L305.0,242.9 L306.4,242.9 L307.8,242.9 L309.2,242.9 L310.6,242.9 L312.0,242.8 L313.4,242.8 L314.7,242.8 L316.1,242.8 L317.5,242.7 L318.9,242.6 L320.3,242.5 L321.7,242.4 L323.1,242.2 L324.4,241.9 L325.8,241.6 L327.2,241.1 L328.6,240.4 L330.0,239.5 L331.4,238.3 L332.8,236.8 L334.1,234.9 L335.5,232.6 L336.9,230.0 L338.3,227.0 L339.7,223.9 L341.1,220.8 L342.5,218.0 L343.8,215.4 L345.2,213.2 L346.6,211.4 L348.0,210.0 L349.4,208.9 L350.8,208.0 L352.1,207.4 L353.5,207.0 L354.9,206.6 L356.3,206.4 L357.7,206.2 L359.1,206.1 L360.5,206.0 L361.8,205.9 L363.2,205.9 L364.6,205.9 L366.0,205.8 L367.4,205.8 L368.8,205.8" fill="none" stroke="#154f8f" stroke-width="1.7"/>
<path d="M302.3,243.3 L303.7,243.3 L305.0,243.3 L306.4,243.2 L307.8,243.2 L309.2,243.2 L310.6,243.2 L312.0,243.2 L313.4,243.2 L314.7,243.1 L316.1,243.1 L317.5,243.0 L318.9,242.9 L320.3,242.8 L321.7,242.5 L323.1,242.3 L324.4,241.8 L325.8,241.3 L327.2,240.5 L328.6,239.4 L330.0,238.0 L331.4,236.1 L332.8,233.8 L334.1,231.0 L335.5,227.8 L336.9,224.3 L338.3,220.7 L339.7,217.2 L341.1,214.1 L342.5,211.3 L343.8,209.1 L345.2,207.3 L346.6,206.0 L348.0,204.9 L349.4,204.2 L350.8,203.6 L352.1,203.2 L353.5,203.0 L354.9,202.8 L356.3,202.6 L357.7,202.5 L359.1,202.5 L360.5,202.4 L361.8,202.4 L363.2,202.3 L364.6,202.3 L366.0,202.3 L367.4,202.3 L368.8,202.3" fill="none" stroke="#22b04b" stroke-width="1.7"/>
<path d="M302.3,242.0 L303.7,242.0 L305.0,241.9 L306.4,241.9 L307.8,241.8 L309.2,241.6 L310.6,241.4 L312.0,241.1 L313.4,240.8 L314.7,240.2 L316.1,239.5 L317.5,238.6 L318.9,237.4 L320.3,235.7 L321.7,233.7 L323.1,231.2 L324.4,228.3 L325.8,225.1 L327.2,221.7 L328.6,218.2 L330.0,215.0 L331.4,212.0 L332.8,209.5 L334.1,207.4 L335.5,205.7 L336.9,204.4 L338.3,203.5 L339.7,202.7 L341.1,202.2 L342.5,201.8 L343.8,201.5 L345.2,201.3 L346.6,201.1 L348.0,201.0 L349.4,201.0 L350.8,200.9 L352.1,200.9 L353.5,200.8 L354.9,200.8 L356.3,200.8 L357.7,200.8 L359.1,200.8 L360.5,200.8 L361.8,200.8 L363.2,200.8 L364.6,200.8 L366.0,200.8 L367.4,200.8 L368.8,200.8" fill="none" stroke="#d0103a" stroke-width="1.7"/>
<circle cx="302.27" cy="242.89" r="1.25" fill="#6a2c91"/>
<circle cx="311.77" cy="242.88" r="1.25" fill="#6a2c91"/>
<circle cx="321.27" cy="242.88" r="1.25" fill="#6a2c91"/>
<circle cx="330.77" cy="242.88" r="1.25" fill="#6a2c91"/>
<circle cx="340.27" cy="242.88" r="1.25" fill="#6a2c91"/>
<circle cx="349.77" cy="242.87" r="1.25" fill="#6a2c91"/>
<circle cx="359.27" cy="232.77" r="1.25" fill="#6a2c91"/>
<circle cx="368.77" cy="211.51" r="1.25" fill="#6a2c91"/>
<circle cx="302.27" cy="242.88" r="1.25" fill="#154f8f"/>
<circle cx="311.77" cy="242.84" r="1.25" fill="#154f8f"/>
<circle cx="321.27" cy="242.44" r="1.25" fill="#154f8f"/>
<circle cx="330.77" cy="238.89" r="1.25" fill="#154f8f"/>
<circle cx="340.27" cy="222.59" r="1.25" fill="#154f8f"/>
<circle cx="349.77" cy="208.61" r="1.25" fill="#154f8f"/>
<circle cx="359.27" cy="206.07" r="1.25" fill="#154f8f"/>
<circle cx="368.77" cy="205.80" r="1.25" fill="#154f8f"/>
<circle cx="302.27" cy="243.26" r="1.25" fill="#22b04b"/>
<circle cx="311.77" cy="243.21" r="1.25" fill="#22b04b"/>
<circle cx="321.27" cy="242.61" r="1.25" fill="#22b04b"/>
<circle cx="330.77" cy="236.99" r="1.25" fill="#22b04b"/>
<circle cx="340.27" cy="215.82" r="1.25" fill="#22b04b"/>
<circle cx="349.77" cy="204.01" r="1.25" fill="#22b04b"/>
<circle cx="359.27" cy="202.44" r="1.25" fill="#22b04b"/>
<circle cx="368.77" cy="202.30" r="1.25" fill="#22b04b"/>
<circle cx="302.27" cy="242.03" r="1.25" fill="#d0103a"/>
<circle cx="311.77" cy="241.19" r="1.25" fill="#d0103a"/>
<circle cx="321.27" cy="234.33" r="1.25" fill="#d0103a"/>
<circle cx="330.77" cy="213.22" r="1.25" fill="#d0103a"/>
<circle cx="340.27" cy="202.48" r="1.25" fill="#d0103a"/>
<circle cx="349.77" cy="200.95" r="1.25" fill="#d0103a"/>
<circle cx="359.27" cy="200.79" r="1.25" fill="#d0103a"/>
<circle cx="368.77" cy="200.77" r="1.25" fill="#d0103a"/>
<text x="389.82" y="247.50" font-size="8.3" fill="#262626" textLength="7.7" lengthAdjust="spacingAndGlyphs">10</text>
<text x="397.72" y="244.93" font-size="6.44" fill="#262626" textLength="6.38" lengthAdjust="spacingAndGlyphs">−4</text>
<text x="389.82" y="235.46" font-size="8.3" fill="#262626" textLength="7.7" lengthAdjust="spacingAndGlyphs">10</text>
<text x="397.72" y="232.89" font-size="6.44" fill="#262626" textLength="6.38" lengthAdjust="spacingAndGlyphs">−3</text>
<text x="389.82" y="223.42" font-size="8.3" fill="#262626" textLength="7.7" lengthAdjust="spacingAndGlyphs">10</text>
<text x="397.72" y="220.85" font-size="6.44" fill="#262626" textLength="6.38" lengthAdjust="spacingAndGlyphs">−2</text>
<text x="389.82" y="211.38" font-size="8.3" fill="#262626" textLength="7.7" lengthAdjust="spacingAndGlyphs">10</text>
<text x="397.72" y="208.81" font-size="6.44" fill="#262626" textLength="6.38" lengthAdjust="spacingAndGlyphs">−1</text>
<text x="393.09" y="199.34" font-size="8.3" fill="#262626" textLength="7.7" lengthAdjust="spacingAndGlyphs">10</text>
<text x="400.99" y="196.77" font-size="6.44" fill="#262626" textLength="3.11" lengthAdjust="spacingAndGlyphs">0</text>
<text x="393.09" y="187.30" font-size="8.3" fill="#262626" textLength="7.7" lengthAdjust="spacingAndGlyphs">10</text>
<text x="400.99" y="184.73" font-size="6.44" fill="#262626" textLength="3.11" lengthAdjust="spacingAndGlyphs">1</text>
<text transform="translate(384.70,214.40) rotate(-90)" font-size="10.2" text-anchor="middle" fill="#262626" textLength="43.5" lengthAdjust="spacingAndGlyphs">EC50<tspan font-size="7" dy="2.0">Rel</tspan><tspan dy="-2.0"> (nM)</tspan></text>
<text transform="translate(420.40,255.40) rotate(-45)" font-size="8" text-anchor="end" fill="#262626">SAR442085</text>
<text transform="translate(431.80,255.40) rotate(-45)" font-size="8" text-anchor="end" fill="#262626">Daratumumab</text>
<text transform="translate(442.90,255.40) rotate(-45)" font-size="8" text-anchor="end" fill="#262626">Isatuximab</text>
<circle cx="413.20" cy="230.60" r="1.25" fill="#c8001e"/>
<circle cx="418.50" cy="229.80" r="1.25" fill="#c8001e"/>
<circle cx="415.70" cy="221.20" r="1.25" fill="#c8001e"/>
<circle cx="424.60" cy="216.00" r="1.25" fill="#00306e"/>
<circle cx="429.60" cy="214.30" r="1.25" fill="#00306e"/>
<circle cx="427.10" cy="208.10" r="1.25" fill="#00306e"/>
<circle cx="435.70" cy="217.50" r="1.25" fill="#1aaa3a"/>
<circle cx="440.60" cy="215.40" r="1.25" fill="#1aaa3a"/>
<circle cx="438.20" cy="209.70" r="1.25" fill="#1aaa3a"/>
<text x="471.10" y="247.60" font-size="8.5" text-anchor="end" textLength="3.93" lengthAdjust="spacingAndGlyphs" fill="#262626">0</text>
<text x="471.10" y="235.60" font-size="8.5" text-anchor="end" textLength="7.86" lengthAdjust="spacingAndGlyphs" fill="#262626">20</text>
<text x="471.10" y="223.60" font-size="8.5" text-anchor="end" textLength="7.86" lengthAdjust="spacingAndGlyphs" fill="#262626">40</text>
<text x="471.10" y="211.60" font-size="8.5" text-anchor="end" textLength="7.86" lengthAdjust="spacingAndGlyphs" fill="#262626">60</text>
<text x="471.10" y="199.60" font-size="8.5" text-anchor="end" textLength="7.86" lengthAdjust="spacingAndGlyphs" fill="#262626">80</text>
<text x="471.10" y="187.60" font-size="8.5" text-anchor="end" textLength="11.79" lengthAdjust="spacingAndGlyphs" fill="#262626">100</text>
<text transform="translate(455.30,214.40) rotate(-90)" font-size="9.6" text-anchor="middle" fill="#262626" textLength="70" lengthAdjust="spacingAndGlyphs">Maximum killing (%)</text>
<text transform="translate(489.70,255.30) rotate(-45)" font-size="8" text-anchor="end" fill="#262626">SAR442085</text>
<text transform="translate(500.80,255.30) rotate(-45)" font-size="8" text-anchor="end" fill="#262626">Daratumumab</text>
<text transform="translate(512.00,255.30) rotate(-45)" font-size="8" text-anchor="end" fill="#262626">Isatuximab</text>
<circle cx="482.60" cy="211.60" r="1.25" fill="#c8001e"/>
<circle cx="487.80" cy="210.50" r="1.25" fill="#c8001e"/>
<circle cx="485.00" cy="207.20" r="1.25" fill="#c8001e"/>
<circle cx="494.00" cy="214.10" r="1.25" fill="#00306e"/>
<circle cx="498.90" cy="212.70" r="1.25" fill="#00306e"/>
<circle cx="496.10" cy="212.00" r="1.25" fill="#00306e"/>
<circle cx="507.30" cy="205.80" r="1.25" fill="#1aaa3a"/>
<circle cx="507.30" cy="213.00" r="1.25" fill="#1aaa3a"/>
<circle cx="507.30" cy="209.50" r="1.25" fill="#1aaa3a"/>
<text x="490.55" y="196.20" font-size="8.4" text-anchor="middle" fill="#262626">ns</text>
<text x="496.15" y="184.00" font-size="8.4" text-anchor="middle" fill="#262626">ns</text>
<text x="7.80" y="301.00" font-size="11" font-weight="bold" fill="#111">E</text>
<text x="93.20" y="301.70" font-size="9.3" fill="#222" style="stroke:none" textLength="121.10" lengthAdjust="spacingAndGlyphs">KMS-12-BM / NK92-FcγRIIIa</text>
<text x="215.20" y="299.70" font-size="6.6" fill="#222" style="stroke:none" textLength="14.70" lengthAdjust="spacingAndGlyphs">158F</text>
<text x="27.95" y="378.80" font-size="8.5" text-anchor="end" textLength="3.93" lengthAdjust="spacingAndGlyphs" fill="#262626">0</text>
<text x="27.95" y="363.68" font-size="8.5" text-anchor="end" textLength="7.86" lengthAdjust="spacingAndGlyphs" fill="#262626">20</text>
<text x="27.95" y="348.55" font-size="8.5" text-anchor="end" textLength="7.86" lengthAdjust="spacingAndGlyphs" fill="#262626">40</text>
<text x="27.95" y="333.43" font-size="8.5" text-anchor="end" textLength="7.86" lengthAdjust="spacingAndGlyphs" fill="#262626">60</text>
<text x="27.95" y="318.30" font-size="8.5" text-anchor="end" textLength="7.86" lengthAdjust="spacingAndGlyphs" fill="#262626">80</text>
<text x="27.61" y="387.70" font-size="8.3" fill="#262626" textLength="7.7" lengthAdjust="spacingAndGlyphs">10</text>
<text x="35.51" y="385.13" font-size="6.44" fill="#262626" textLength="6.38" lengthAdjust="spacingAndGlyphs">−6</text>
<text x="46.61" y="387.70" font-size="8.3" fill="#262626" textLength="7.7" lengthAdjust="spacingAndGlyphs">10</text>
<text x="54.51" y="385.13" font-size="6.44" fill="#262626" textLength="6.38" lengthAdjust="spacingAndGlyphs">−4</text>
<text x="65.61" y="387.70" font-size="8.3" fill="#262626" textLength="7.7" lengthAdjust="spacingAndGlyphs">10</text>
<text x="73.51" y="385.13" font-size="6.44" fill="#262626" textLength="6.38" lengthAdjust="spacingAndGlyphs">−2</text>
<text x="86.24" y="387.70" font-size="8.3" fill="#262626" textLength="7.7" lengthAdjust="spacingAndGlyphs">10</text>
<text x="94.14" y="385.13" font-size="6.44" fill="#262626" textLength="3.11" lengthAdjust="spacingAndGlyphs">0</text>
<text x="105.24" y="387.70" font-size="8.3" fill="#262626" textLength="7.7" lengthAdjust="spacingAndGlyphs">10</text>
<text x="113.14" y="385.13" font-size="6.44" fill="#262626" textLength="3.11" lengthAdjust="spacingAndGlyphs">2</text>
<text x="72.15" y="401.00" font-size="10.2" text-anchor="middle" textLength="48.00" lengthAdjust="spacingAndGlyphs" fill="#262626">Ab. conc. (nM)</text>
<text transform="translate(12.75,345.35) rotate(-90)" font-size="10.2" text-anchor="middle" fill="#262626" textLength="57.4" lengthAdjust="spacingAndGlyphs">% tumor cell lysis</text>
<text x="38.75" y="330.95" font-size="7.6" fill="#262626">n=3</text>
<path d="M42.2,370.3 L43.4,370.3 L44.6,370.3 L45.8,370.3 L47.0,370.3 L48.2,370.3 L49.3,370.3 L50.5,370.3 L51.7,370.3 L52.9,370.3 L54.1,370.3 L55.3,370.3 L56.5,370.3 L57.7,370.3 L58.8,370.3 L60.0,370.3 L61.2,370.3 L62.4,370.3 L63.6,370.3 L64.8,370.3 L66.0,370.3 L67.2,370.3 L68.3,370.3 L69.5,370.3 L70.7,370.3 L71.9,370.3 L73.1,370.3 L74.3,370.3 L75.5,370.3 L76.7,370.3 L77.8,370.3 L79.0,370.3 L80.2,370.3 L81.4,370.3 L82.6,370.2 L83.8,370.2 L85.0,370.2 L86.2,370.2 L87.3,370.1 L88.5,370.1 L89.7,370.1 L90.9,370.0 L92.1,370.0 L93.3,369.9 L94.5,369.9 L95.7,369.9 L96.8,369.8 L98.0,369.8 L99.2,369.8" fill="none" stroke="#6a2c91" stroke-width="1.2" stroke-dasharray="1.6,1.3"/>
<path d="M42.2,372.3 L43.4,372.3 L44.6,372.3 L45.8,372.3 L47.0,372.3 L48.2,372.3 L49.3,372.3 L50.5,372.3 L51.7,372.3 L52.9,372.3 L54.1,372.3 L55.3,372.3 L56.5,372.3 L57.7,372.3 L58.8,372.3 L60.0,372.2 L61.2,372.2 L62.4,372.1 L63.6,372.0 L64.8,371.9 L66.0,371.7 L67.2,371.4 L68.3,371.1 L69.5,370.5 L70.7,369.7 L71.9,368.7 L73.1,367.4 L74.3,365.7 L75.5,363.7 L76.7,361.3 L77.8,358.9 L79.0,356.4 L80.2,354.1 L81.4,352.1 L82.6,350.4 L83.8,349.1 L85.0,348.1 L86.2,347.4 L87.3,346.8 L88.5,346.5 L89.7,346.2 L90.9,346.0 L92.1,345.9 L93.3,345.8 L94.5,345.7 L95.7,345.7 L96.8,345.6 L98.0,345.6 L99.2,345.6" fill="none" stroke="#154f8f" stroke-width="1.7"/>
<path d="M42.2,371.3 L43.4,371.3 L44.6,371.3 L45.8,371.3 L47.0,371.3 L48.2,371.3 L49.3,371.3 L50.5,371.3 L51.7,371.3 L52.9,371.3 L54.1,371.3 L55.3,371.3 L56.5,371.3 L57.7,371.2 L58.8,371.2 L60.0,371.2 L61.2,371.2 L62.4,371.1 L63.6,371.1 L64.8,371.0 L66.0,370.8 L67.2,370.6 L68.3,370.4 L69.5,370.1 L70.7,369.6 L71.9,369.0 L73.1,368.1 L74.3,367.1 L75.5,365.8 L76.7,364.3 L77.8,362.7 L79.0,360.9 L80.2,359.1 L81.4,357.5 L82.6,356.0 L83.8,354.8 L85.0,353.7 L86.2,352.9 L87.3,352.3 L88.5,351.9 L89.7,351.5 L90.9,351.3 L92.1,351.1 L93.3,351.0 L94.5,350.9 L95.7,350.8 L96.8,350.8 L98.0,350.7 L99.2,350.7" fill="none" stroke="#22b04b" stroke-width="1.7"/>
<path d="M42.2,369.0 L43.2,369.0 L44.2,368.9 L45.2,368.9 L46.2,368.8 L47.2,368.7 L48.2,368.6 L49.2,368.4 L50.1,368.2 L51.1,368.0 L52.1,367.7 L53.1,367.4 L54.1,366.9 L55.1,366.4 L56.1,365.7 L57.1,365.0 L58.1,364.0 L59.0,363.0 L60.0,361.7 L61.0,360.3 L62.0,358.7 L63.0,356.9 L64.0,355.0 L65.0,353.0 L66.0,351.0 L67.0,349.0 L68.0,347.0 L68.9,345.2 L69.9,343.5 L70.9,341.9 L71.9,340.6 L72.9,339.4 L73.9,338.3 L74.9,337.5 L75.9,336.7 L76.9,336.1 L77.8,335.6 L78.8,335.2 L79.8,334.9 L80.8,334.6 L81.8,334.4 L82.8,334.2 L83.8,334.1 L84.8,334.0 L85.8,333.9 L86.8,333.8 L87.7,333.8 L88.7,333.7 L89.7,333.7" fill="none" stroke="#d0103a" stroke-width="1.7"/>
<circle cx="70.72" cy="370.30" r="1.25" fill="#6a2c91"/>
<circle cx="80.22" cy="370.27" r="1.25" fill="#6a2c91"/>
<circle cx="89.72" cy="370.06" r="1.25" fill="#6a2c91"/>
<circle cx="99.22" cy="369.78" r="1.25" fill="#6a2c91"/>
<circle cx="42.22" cy="372.35" r="1.25" fill="#154f8f"/>
<circle cx="51.72" cy="372.34" r="1.25" fill="#154f8f"/>
<circle cx="61.22" cy="372.20" r="1.25" fill="#154f8f"/>
<circle cx="70.72" cy="369.75" r="1.25" fill="#154f8f"/>
<circle cx="80.22" cy="354.08" r="1.25" fill="#154f8f"/>
<circle cx="89.72" cy="346.19" r="1.25" fill="#154f8f"/>
<circle cx="99.22" cy="345.61" r="1.25" fill="#154f8f"/>
<circle cx="42.22" cy="371.29" r="1.25" fill="#22b04b"/>
<circle cx="51.72" cy="371.28" r="1.25" fill="#22b04b"/>
<circle cx="61.22" cy="371.17" r="1.25" fill="#22b04b"/>
<circle cx="70.72" cy="369.58" r="1.25" fill="#22b04b"/>
<circle cx="80.22" cy="359.15" r="1.25" fill="#22b04b"/>
<circle cx="89.72" cy="351.52" r="1.25" fill="#22b04b"/>
<circle cx="99.22" cy="350.70" r="1.25" fill="#22b04b"/>
<circle cx="42.22" cy="369.02" r="1.25" fill="#d0103a"/>
<circle cx="51.72" cy="367.83" r="1.25" fill="#d0103a"/>
<circle cx="61.22" cy="359.96" r="1.25" fill="#d0103a"/>
<circle cx="70.72" cy="342.22" r="1.25" fill="#d0103a"/>
<circle cx="80.22" cy="332.29" r="1.25" fill="#d0103a"/>
<circle cx="89.72" cy="333.70" r="1.25" fill="#d0103a"/>
<text x="130.22" y="378.70" font-size="8.3" fill="#262626" textLength="7.7" lengthAdjust="spacingAndGlyphs">10</text>
<text x="138.12" y="376.13" font-size="6.44" fill="#262626" textLength="6.38" lengthAdjust="spacingAndGlyphs">−4</text>
<text x="130.22" y="366.68" font-size="8.3" fill="#262626" textLength="7.7" lengthAdjust="spacingAndGlyphs">10</text>
<text x="138.12" y="364.11" font-size="6.44" fill="#262626" textLength="6.38" lengthAdjust="spacingAndGlyphs">−3</text>
<text x="130.22" y="354.66" font-size="8.3" fill="#262626" textLength="7.7" lengthAdjust="spacingAndGlyphs">10</text>
<text x="138.12" y="352.09" font-size="6.44" fill="#262626" textLength="6.38" lengthAdjust="spacingAndGlyphs">−2</text>
<text x="130.22" y="342.64" font-size="8.3" fill="#262626" textLength="7.7" lengthAdjust="spacingAndGlyphs">10</text>
<text x="138.12" y="340.07" font-size="6.44" fill="#262626" textLength="6.38" lengthAdjust="spacingAndGlyphs">−1</text>
<text x="133.49" y="330.62" font-size="8.3" fill="#262626" textLength="7.7" lengthAdjust="spacingAndGlyphs">10</text>
<text x="141.39" y="328.05" font-size="6.44" fill="#262626" textLength="3.11" lengthAdjust="spacingAndGlyphs">0</text>
<text x="133.49" y="318.60" font-size="8.3" fill="#262626" textLength="7.7" lengthAdjust="spacingAndGlyphs">10</text>
<text x="141.39" y="316.03" font-size="6.44" fill="#262626" textLength="3.11" lengthAdjust="spacingAndGlyphs">1</text>
<text transform="translate(125.10,345.65) rotate(-90)" font-size="10.2" text-anchor="middle" fill="#262626" textLength="43.5" lengthAdjust="spacingAndGlyphs">EC50<tspan font-size="7" dy="2.0">Rel</tspan><tspan dy="-2.0"> (nM)</tspan></text>
<text transform="translate(161.00,386.60) rotate(-45)" font-size="8" text-anchor="end" fill="#262626">SAR442085</text>
<text transform="translate(172.20,386.60) rotate(-45)" font-size="8" text-anchor="end" fill="#262626">Daratumumab</text>
<text transform="translate(183.50,386.60) rotate(-45)" font-size="8" text-anchor="end" fill="#262626">Isatuximab</text>
<circle cx="153.80" cy="364.90" r="1.25" fill="#c8001e"/>
<circle cx="158.90" cy="362.70" r="1.25" fill="#c8001e"/>
<circle cx="156.30" cy="353.10" r="1.25" fill="#c8001e"/>
<circle cx="165.10" cy="349.00" r="1.25" fill="#00306e"/>
<circle cx="170.10" cy="347.30" r="1.25" fill="#00306e"/>
<circle cx="167.50" cy="335.40" r="1.25" fill="#00306e"/>
<circle cx="176.20" cy="347.30" r="1.25" fill="#1aaa3a"/>
<circle cx="181.50" cy="345.40" r="1.25" fill="#1aaa3a"/>
<circle cx="178.80" cy="335.80" r="1.25" fill="#1aaa3a"/>
<text x="215.80" y="378.90" font-size="8.5" text-anchor="end" textLength="3.93" lengthAdjust="spacingAndGlyphs" fill="#262626">0</text>
<text x="215.80" y="366.80" font-size="8.5" text-anchor="end" textLength="7.86" lengthAdjust="spacingAndGlyphs" fill="#262626">20</text>
<text x="215.80" y="354.70" font-size="8.5" text-anchor="end" textLength="7.86" lengthAdjust="spacingAndGlyphs" fill="#262626">40</text>
<text x="215.80" y="342.60" font-size="8.5" text-anchor="end" textLength="7.86" lengthAdjust="spacingAndGlyphs" fill="#262626">60</text>
<text x="215.80" y="330.50" font-size="8.5" text-anchor="end" textLength="7.86" lengthAdjust="spacingAndGlyphs" fill="#262626">80</text>
<text x="215.80" y="318.40" font-size="8.5" text-anchor="end" textLength="11.79" lengthAdjust="spacingAndGlyphs" fill="#262626">100</text>
<text transform="translate(200.00,345.45) rotate(-90)" font-size="9.6" text-anchor="middle" fill="#262626" textLength="70" lengthAdjust="spacingAndGlyphs">Maximum killing (%)</text>
<text transform="translate(234.70,386.60) rotate(-45)" font-size="8" text-anchor="end" fill="#262626">SAR442085</text>
<text transform="translate(245.80,386.60) rotate(-45)" font-size="8" text-anchor="end" fill="#262626">Daratumumab</text>
<text transform="translate(256.90,386.60) rotate(-45)" font-size="8" text-anchor="end" fill="#262626">Isatuximab</text>
<circle cx="230.00" cy="332.50" r="1.25" fill="#c8001e"/>
<circle cx="230.00" cy="339.70" r="1.25" fill="#c8001e"/>
<circle cx="230.00" cy="355.10" r="1.25" fill="#c8001e"/>
<circle cx="241.10" cy="339.40" r="1.25" fill="#00306e"/>
<circle cx="241.10" cy="348.80" r="1.25" fill="#00306e"/>
<circle cx="241.10" cy="366.60" r="1.25" fill="#00306e"/>
<circle cx="252.20" cy="347.20" r="1.25" fill="#1aaa3a"/>
<circle cx="252.20" cy="352.20" r="1.25" fill="#1aaa3a"/>
<circle cx="252.20" cy="366.80" r="1.25" fill="#1aaa3a"/>
<text x="267.80" y="301.00" font-size="11" font-weight="bold" fill="#111">F</text>
<text x="345.20" y="302.00" font-size="9.3" fill="#222" style="stroke:none" textLength="120.30" lengthAdjust="spacingAndGlyphs">KMS-12-BM / NK92-FcγRIIIa</text>
<text x="466.40" y="300.00" font-size="6.6" fill="#222" style="stroke:none" textLength="15.50" lengthAdjust="spacingAndGlyphs">158V</text>
<text x="287.95" y="378.80" font-size="8.5" text-anchor="end" textLength="3.93" lengthAdjust="spacingAndGlyphs" fill="#262626">0</text>
<text x="287.95" y="363.65" font-size="8.5" text-anchor="end" textLength="7.86" lengthAdjust="spacingAndGlyphs" fill="#262626">10</text>
<text x="287.95" y="348.50" font-size="8.5" text-anchor="end" textLength="7.86" lengthAdjust="spacingAndGlyphs" fill="#262626">20</text>
<text x="287.95" y="333.35" font-size="8.5" text-anchor="end" textLength="7.86" lengthAdjust="spacingAndGlyphs" fill="#262626">30</text>
<text x="287.95" y="318.20" font-size="8.5" text-anchor="end" textLength="7.86" lengthAdjust="spacingAndGlyphs" fill="#262626">40</text>
<text x="287.61" y="387.70" font-size="8.3" fill="#262626" textLength="7.7" lengthAdjust="spacingAndGlyphs">10</text>
<text x="295.51" y="385.13" font-size="6.44" fill="#262626" textLength="6.38" lengthAdjust="spacingAndGlyphs">−6</text>
<text x="306.61" y="387.70" font-size="8.3" fill="#262626" textLength="7.7" lengthAdjust="spacingAndGlyphs">10</text>
<text x="314.51" y="385.13" font-size="6.44" fill="#262626" textLength="6.38" lengthAdjust="spacingAndGlyphs">−4</text>
<text x="325.61" y="387.70" font-size="8.3" fill="#262626" textLength="7.7" lengthAdjust="spacingAndGlyphs">10</text>
<text x="333.51" y="385.13" font-size="6.44" fill="#262626" textLength="6.38" lengthAdjust="spacingAndGlyphs">−2</text>
<text x="346.24" y="387.70" font-size="8.3" fill="#262626" textLength="7.7" lengthAdjust="spacingAndGlyphs">10</text>
<text x="354.14" y="385.13" font-size="6.44" fill="#262626" textLength="3.11" lengthAdjust="spacingAndGlyphs">0</text>
<text x="365.24" y="387.70" font-size="8.3" fill="#262626" textLength="7.7" lengthAdjust="spacingAndGlyphs">10</text>
<text x="373.14" y="385.13" font-size="6.44" fill="#262626" textLength="3.11" lengthAdjust="spacingAndGlyphs">2</text>
<text x="332.15" y="401.00" font-size="10.2" text-anchor="middle" textLength="48.00" lengthAdjust="spacingAndGlyphs" fill="#262626">Ab. conc. (nM)</text>
<text transform="translate(272.75,345.30) rotate(-90)" font-size="10.2" text-anchor="middle" fill="#262626" textLength="57.4" lengthAdjust="spacingAndGlyphs">% tumor cell lysis</text>
<text x="297.50" y="331.45" font-size="7.6" fill="#262626">n=3</text>
<path d="M330.7,374.1 L331.5,374.1 L332.3,374.1 L333.1,374.1 L333.9,374.1 L334.7,374.1 L335.5,374.1 L336.3,374.1 L337.1,374.1 L337.8,374.1 L338.6,374.1 L339.4,374.1 L340.2,374.1 L341.0,374.1 L341.8,374.1 L342.6,374.1 L343.4,374.1 L344.2,374.1 L345.0,374.1 L345.8,374.1 L346.6,374.1 L347.3,374.1 L348.1,374.1 L348.9,374.1 L349.7,374.1 L350.5,374.1 L351.3,374.1 L352.1,374.1 L352.9,374.1 L353.7,374.1 L354.5,374.1 L355.3,374.1 L356.1,374.1 L356.8,374.1 L357.6,374.1 L358.4,374.1 L359.2,374.1 L360.0,374.1 L360.8,374.0 L361.6,374.0 L362.4,374.0 L363.2,373.9 L364.0,373.9 L364.8,373.8 L365.6,373.6 L366.3,373.5 L367.1,373.3 L367.9,373.0 L368.7,372.7" fill="none" stroke="#6a2c91" stroke-width="1.2" stroke-dasharray="1.6,1.3"/>
<path d="M302.2,374.8 L303.6,374.8 L305.0,374.8 L306.4,374.8 L307.8,374.8 L309.2,374.8 L310.5,374.8 L311.9,374.8 L313.3,374.8 L314.7,374.8 L316.1,374.7 L317.5,374.7 L318.8,374.7 L320.2,374.6 L321.6,374.5 L323.0,374.4 L324.4,374.2 L325.8,373.9 L327.2,373.6 L328.5,373.2 L329.9,372.6 L331.3,371.9 L332.7,370.9 L334.1,369.8 L335.5,368.4 L336.9,366.8 L338.2,365.0 L339.6,363.2 L341.0,361.3 L342.4,359.6 L343.8,358.0 L345.2,356.5 L346.6,355.4 L347.9,354.4 L349.3,353.7 L350.7,353.1 L352.1,352.6 L353.5,352.3 L354.9,352.1 L356.3,351.9 L357.6,351.7 L359.0,351.6 L360.4,351.6 L361.8,351.5 L363.2,351.5 L364.6,351.4 L366.0,351.4 L367.3,351.4 L368.7,351.4" fill="none" stroke="#154f8f" stroke-width="1.7"/>
<path d="M302.2,374.8 L303.6,374.8 L305.0,374.8 L306.4,374.8 L307.8,374.8 L309.2,374.8 L310.5,374.8 L311.9,374.8 L313.3,374.8 L314.7,374.7 L316.1,374.7 L317.5,374.7 L318.8,374.6 L320.2,374.5 L321.6,374.4 L323.0,374.3 L324.4,374.1 L325.8,373.9 L327.2,373.6 L328.5,373.2 L329.9,372.8 L331.3,372.2 L332.7,371.4 L334.1,370.5 L335.5,369.4 L336.9,368.1 L338.2,366.7 L339.6,365.2 L341.0,363.6 L342.4,362.0 L343.8,360.5 L345.2,359.1 L346.6,357.8 L347.9,356.7 L349.3,355.8 L350.7,355.1 L352.1,354.5 L353.5,354.0 L354.9,353.6 L356.3,353.3 L357.6,353.1 L359.0,353.0 L360.4,352.8 L361.8,352.7 L363.2,352.7 L364.6,352.6 L366.0,352.6 L367.3,352.5 L368.7,352.5" fill="none" stroke="#22b04b" stroke-width="1.7"/>
<path d="M302.2,373.7 L303.6,373.7 L305.0,373.6 L306.4,373.6 L307.8,373.5 L309.2,373.4 L310.5,373.3 L311.9,373.1 L313.3,372.8 L314.7,372.5 L316.1,372.0 L317.5,371.4 L318.8,370.6 L320.2,369.5 L321.6,368.2 L323.0,366.4 L324.4,364.3 L325.8,361.9 L327.2,359.1 L328.5,356.0 L329.9,352.9 L331.3,349.8 L332.7,346.9 L334.1,344.4 L335.5,342.2 L336.9,340.4 L338.2,338.9 L339.6,337.8 L341.0,336.9 L342.4,336.3 L343.8,335.8 L345.2,335.4 L346.6,335.1 L347.9,334.9 L349.3,334.8 L350.7,334.7 L352.1,334.6 L353.5,334.5 L354.9,334.5 L356.3,334.5 L357.6,334.5 L359.0,334.4 L360.4,334.4 L361.8,334.4 L363.2,334.4 L364.6,334.4 L366.0,334.4 L367.3,334.4 L368.7,334.4" fill="none" stroke="#d0103a" stroke-width="1.7"/>
<circle cx="330.72" cy="374.08" r="1.25" fill="#6a2c91"/>
<circle cx="340.22" cy="374.08" r="1.25" fill="#6a2c91"/>
<circle cx="349.72" cy="374.08" r="1.25" fill="#6a2c91"/>
<circle cx="359.22" cy="374.06" r="1.25" fill="#6a2c91"/>
<circle cx="368.72" cy="372.74" r="1.25" fill="#6a2c91"/>
<circle cx="302.22" cy="374.84" r="1.25" fill="#154f8f"/>
<circle cx="311.72" cy="374.81" r="1.25" fill="#154f8f"/>
<circle cx="321.22" cy="374.51" r="1.25" fill="#154f8f"/>
<circle cx="330.72" cy="372.20" r="1.25" fill="#154f8f"/>
<circle cx="340.22" cy="362.39" r="1.25" fill="#154f8f"/>
<circle cx="349.72" cy="353.48" r="1.25" fill="#154f8f"/>
<circle cx="359.22" cy="351.62" r="1.25" fill="#154f8f"/>
<circle cx="368.72" cy="351.39" r="1.25" fill="#154f8f"/>
<circle cx="302.22" cy="374.83" r="1.25" fill="#22b04b"/>
<circle cx="311.72" cy="374.79" r="1.25" fill="#22b04b"/>
<circle cx="321.22" cy="374.47" r="1.25" fill="#22b04b"/>
<circle cx="330.72" cy="372.43" r="1.25" fill="#22b04b"/>
<circle cx="340.22" cy="364.52" r="1.25" fill="#22b04b"/>
<circle cx="349.72" cy="355.61" r="1.25" fill="#22b04b"/>
<circle cx="359.22" cy="352.93" r="1.25" fill="#22b04b"/>
<circle cx="368.72" cy="352.49" r="1.25" fill="#22b04b"/>
<circle cx="302.22" cy="373.71" r="1.25" fill="#d0103a"/>
<circle cx="311.72" cy="373.12" r="1.25" fill="#d0103a"/>
<circle cx="321.22" cy="368.58" r="1.25" fill="#d0103a"/>
<circle cx="330.72" cy="351.11" r="1.25" fill="#d0103a"/>
<circle cx="340.22" cy="337.40" r="1.25" fill="#d0103a"/>
<circle cx="349.72" cy="331.25" r="1.25" fill="#d0103a"/>
<circle cx="359.22" cy="336.93" r="1.25" fill="#d0103a"/>
<circle cx="368.72" cy="334.40" r="1.25" fill="#d0103a"/>
<text x="389.22" y="378.70" font-size="8.3" fill="#262626" textLength="7.7" lengthAdjust="spacingAndGlyphs">10</text>
<text x="397.12" y="376.13" font-size="6.44" fill="#262626" textLength="6.38" lengthAdjust="spacingAndGlyphs">−4</text>
<text x="389.22" y="366.60" font-size="8.3" fill="#262626" textLength="7.7" lengthAdjust="spacingAndGlyphs">10</text>
<text x="397.12" y="364.03" font-size="6.44" fill="#262626" textLength="6.38" lengthAdjust="spacingAndGlyphs">−3</text>
<text x="389.22" y="354.50" font-size="8.3" fill="#262626" textLength="7.7" lengthAdjust="spacingAndGlyphs">10</text>
<text x="397.12" y="351.93" font-size="6.44" fill="#262626" textLength="6.38" lengthAdjust="spacingAndGlyphs">−2</text>
<text x="389.22" y="342.40" font-size="8.3" fill="#262626" textLength="7.7" lengthAdjust="spacingAndGlyphs">10</text>
<text x="397.12" y="339.83" font-size="6.44" fill="#262626" textLength="6.38" lengthAdjust="spacingAndGlyphs">−1</text>
<text x="392.49" y="330.30" font-size="8.3" fill="#262626" textLength="7.7" lengthAdjust="spacingAndGlyphs">10</text>
<text x="400.39" y="327.73" font-size="6.44" fill="#262626" textLength="3.11" lengthAdjust="spacingAndGlyphs">0</text>
<text x="392.49" y="318.20" font-size="8.3" fill="#262626" textLength="7.7" lengthAdjust="spacingAndGlyphs">10</text>
<text x="400.39" y="315.63" font-size="6.44" fill="#262626" textLength="3.11" lengthAdjust="spacingAndGlyphs">1</text>
<text transform="translate(384.10,345.45) rotate(-90)" font-size="10.2" text-anchor="middle" fill="#262626" textLength="43.5" lengthAdjust="spacingAndGlyphs">EC50<tspan font-size="7" dy="2.0">Rel</tspan><tspan dy="-2.0"> (nM)</tspan></text>
<text transform="translate(420.40,386.60) rotate(-45)" font-size="8" text-anchor="end" fill="#262626">SAR442085</text>
<text transform="translate(431.50,386.60) rotate(-45)" font-size="8" text-anchor="end" fill="#262626">Daratumumab</text>
<text transform="translate(443.00,386.60) rotate(-45)" font-size="8" text-anchor="end" fill="#262626">Isatuximab</text>
<circle cx="413.40" cy="353.10" r="1.25" fill="#c8001e"/>
<circle cx="418.60" cy="354.10" r="1.25" fill="#c8001e"/>
<circle cx="415.70" cy="359.40" r="1.25" fill="#c8001e"/>
<circle cx="426.80" cy="337.80" r="1.25" fill="#00306e"/>
<circle cx="426.80" cy="339.70" r="1.25" fill="#00306e"/>
<circle cx="426.80" cy="344.70" r="1.25" fill="#00306e"/>
<circle cx="435.90" cy="342.10" r="1.25" fill="#1aaa3a"/>
<circle cx="441.20" cy="340.40" r="1.25" fill="#1aaa3a"/>
<circle cx="438.30" cy="335.40" r="1.25" fill="#1aaa3a"/>
<text x="471.30" y="378.90" font-size="8.5" text-anchor="end" textLength="3.93" lengthAdjust="spacingAndGlyphs" fill="#262626">0</text>
<text x="471.30" y="366.80" font-size="8.5" text-anchor="end" textLength="7.86" lengthAdjust="spacingAndGlyphs" fill="#262626">20</text>
<text x="471.30" y="354.70" font-size="8.5" text-anchor="end" textLength="7.86" lengthAdjust="spacingAndGlyphs" fill="#262626">40</text>
<text x="471.30" y="342.60" font-size="8.5" text-anchor="end" textLength="7.86" lengthAdjust="spacingAndGlyphs" fill="#262626">60</text>
<text x="471.30" y="330.50" font-size="8.5" text-anchor="end" textLength="7.86" lengthAdjust="spacingAndGlyphs" fill="#262626">80</text>
<text x="471.30" y="318.40" font-size="8.5" text-anchor="end" textLength="11.79" lengthAdjust="spacingAndGlyphs" fill="#262626">100</text>
<text transform="translate(455.50,345.45) rotate(-90)" font-size="9.6" text-anchor="middle" fill="#262626" textLength="70" lengthAdjust="spacingAndGlyphs">Maximum killing (%)</text>
<text transform="translate(489.90,386.60) rotate(-45)" font-size="8" text-anchor="end" fill="#262626">SAR442085</text>
<text transform="translate(500.90,386.60) rotate(-45)" font-size="8" text-anchor="end" fill="#262626">Daratumumab</text>
<text transform="translate(512.00,386.60) rotate(-45)" font-size="8" text-anchor="end" fill="#262626">Isatuximab</text>
<circle cx="482.60" cy="362.00" r="1.25" fill="#c8001e"/>
<circle cx="487.60" cy="361.30" r="1.25" fill="#c8001e"/>
<circle cx="485.20" cy="353.80" r="1.25" fill="#c8001e"/>
<circle cx="494.10" cy="366.30" r="1.25" fill="#00306e"/>
<circle cx="498.70" cy="366.30" r="1.25" fill="#00306e"/>
<circle cx="496.20" cy="364.50" r="1.25" fill="#00306e"/>
<circle cx="504.90" cy="366.30" r="1.25" fill="#1aaa3a"/>
<circle cx="510.20" cy="366.00" r="1.25" fill="#1aaa3a"/>
<circle cx="507.30" cy="365.20" r="1.25" fill="#1aaa3a"/>
<text x="7.50" y="431.40" font-size="11" font-weight="bold" fill="#111">G</text>
<text x="93.50" y="431.20" font-size="9.3" fill="#222" style="stroke:none" textLength="97.50" lengthAdjust="spacingAndGlyphs">RPMI-8226 / HD PBMC</text>
<text x="27.95" y="500.20" font-size="8.5" text-anchor="end" textLength="7.86" lengthAdjust="spacingAndGlyphs" fill="#262626">30</text>
<text x="27.95" y="482.80" font-size="8.5" text-anchor="end" textLength="7.86" lengthAdjust="spacingAndGlyphs" fill="#262626">40</text>
<text x="27.95" y="465.50" font-size="8.5" text-anchor="end" textLength="7.86" lengthAdjust="spacingAndGlyphs" fill="#262626">60</text>
<text x="27.95" y="448.20" font-size="8.5" text-anchor="end" textLength="7.86" lengthAdjust="spacingAndGlyphs" fill="#262626">80</text>
<text x="27.61" y="517.60" font-size="8.3" fill="#262626" textLength="7.7" lengthAdjust="spacingAndGlyphs">10</text>
<text x="35.51" y="515.03" font-size="6.44" fill="#262626" textLength="6.38" lengthAdjust="spacingAndGlyphs">−6</text>
<text x="46.61" y="517.60" font-size="8.3" fill="#262626" textLength="7.7" lengthAdjust="spacingAndGlyphs">10</text>
<text x="54.51" y="515.03" font-size="6.44" fill="#262626" textLength="6.38" lengthAdjust="spacingAndGlyphs">−4</text>
<text x="65.61" y="517.60" font-size="8.3" fill="#262626" textLength="7.7" lengthAdjust="spacingAndGlyphs">10</text>
<text x="73.51" y="515.03" font-size="6.44" fill="#262626" textLength="6.38" lengthAdjust="spacingAndGlyphs">−2</text>
<text x="86.24" y="517.60" font-size="8.3" fill="#262626" textLength="7.7" lengthAdjust="spacingAndGlyphs">10</text>
<text x="94.14" y="515.03" font-size="6.44" fill="#262626" textLength="3.11" lengthAdjust="spacingAndGlyphs">0</text>
<text x="105.24" y="517.60" font-size="8.3" fill="#262626" textLength="7.7" lengthAdjust="spacingAndGlyphs">10</text>
<text x="113.14" y="515.03" font-size="6.44" fill="#262626" textLength="3.11" lengthAdjust="spacingAndGlyphs">2</text>
<text x="72.15" y="530.90" font-size="10.2" text-anchor="middle" textLength="48.00" lengthAdjust="spacingAndGlyphs" fill="#262626">Ab. conc. (nM)</text>
<text transform="translate(12.75,475.25) rotate(-90)" font-size="10.2" text-anchor="middle" fill="#262626" textLength="57.4" lengthAdjust="spacingAndGlyphs">% tumor cell lysis</text>
<text x="38.75" y="461.45" font-size="7.6" fill="#262626">n=11</text>
<path d="M42.2,495.4 L43.6,495.4 L45.0,495.4 L46.4,495.4 L47.8,495.4 L49.2,495.4 L50.5,495.4 L51.9,495.4 L53.3,495.4 L54.7,495.4 L56.1,495.4 L57.5,495.4 L58.8,495.4 L60.2,495.4 L61.6,495.4 L63.0,495.4 L64.4,495.4 L65.8,495.4 L67.2,495.4 L68.5,495.4 L69.9,495.4 L71.3,495.4 L72.7,495.4 L74.1,495.4 L75.5,495.4 L76.9,495.4 L78.2,495.4 L79.6,495.4 L81.0,495.4 L82.4,495.4 L83.8,495.4 L85.2,495.4 L86.6,495.4 L87.9,495.4 L89.3,495.4 L90.7,495.4 L92.1,495.4 L93.5,495.3 L94.9,495.3 L96.3,495.2 L97.6,495.0 L99.0,494.7 L100.4,494.1 L101.8,493.0 L103.2,491.2 L104.6,488.8 L106.0,486.1 L107.3,483.6 L108.7,481.7" fill="none" stroke="#6a2c91" stroke-width="1.2" stroke-dasharray="1.6,1.3"/>
<path d="M42.2,494.6 L43.6,494.6 L45.0,494.6 L46.4,494.6 L47.8,494.6 L49.2,494.6 L50.5,494.6 L51.9,494.6 L53.3,494.6 L54.7,494.6 L56.1,494.6 L57.5,494.6 L58.8,494.6 L60.2,494.6 L61.6,494.6 L63.0,494.6 L64.4,494.6 L65.8,494.6 L67.2,494.6 L68.5,494.5 L69.9,494.5 L71.3,494.5 L72.7,494.4 L74.1,494.2 L75.5,494.0 L76.9,493.6 L78.2,492.9 L79.6,492.0 L81.0,490.5 L82.4,488.6 L83.8,486.2 L85.2,483.5 L86.6,480.8 L87.9,478.4 L89.3,476.5 L90.7,475.1 L92.1,474.2 L93.5,473.6 L94.9,473.2 L96.3,473.0 L97.6,472.8 L99.0,472.7 L100.4,472.7 L101.8,472.7 L103.2,472.6 L104.6,472.6 L106.0,472.6 L107.3,472.6 L108.7,472.6" fill="none" stroke="#154f8f" stroke-width="1.7"/>
<path d="M42.2,497.2 L43.6,497.2 L45.0,497.2 L46.4,497.2 L47.8,497.2 L49.2,497.2 L50.5,497.2 L51.9,497.2 L53.3,497.2 L54.7,497.2 L56.1,497.2 L57.5,497.2 L58.8,497.2 L60.2,497.2 L61.6,497.2 L63.0,497.2 L64.4,497.2 L65.8,497.2 L67.2,497.1 L68.5,497.1 L69.9,497.1 L71.3,497.0 L72.7,496.9 L74.1,496.7 L75.5,496.4 L76.9,496.1 L78.2,495.5 L79.6,494.7 L81.0,493.5 L82.4,492.0 L83.8,490.2 L85.2,488.0 L86.6,485.8 L87.9,483.7 L89.3,481.9 L90.7,480.5 L92.1,479.4 L93.5,478.6 L94.9,478.0 L96.3,477.6 L97.6,477.4 L99.0,477.2 L100.4,477.1 L101.8,477.0 L103.2,477.0 L104.6,477.0 L106.0,476.9 L107.3,476.9 L108.7,476.9" fill="none" stroke="#22b04b" stroke-width="1.7"/>
<path d="M42.2,493.8 L43.6,493.8 L45.0,493.8 L46.4,493.8 L47.8,493.8 L49.2,493.8 L50.5,493.8 L51.9,493.8 L53.3,493.8 L54.7,493.8 L56.1,493.8 L57.5,493.8 L58.8,493.8 L60.2,493.8 L61.6,493.8 L63.0,493.8 L64.4,493.8 L65.8,493.8 L67.2,493.8 L68.5,493.8 L69.9,493.8 L71.3,493.8 L72.7,493.8 L74.1,493.8 L75.5,493.8 L76.9,493.7 L78.2,492.1 L79.6,479.6 L81.0,465.6 L82.4,463.6 L83.8,463.4 L85.2,463.4 L86.6,463.4 L87.9,463.4 L89.3,463.4 L90.7,463.4 L92.1,463.4 L93.5,463.4 L94.9,463.4 L96.3,463.4 L97.6,463.4 L99.0,463.4 L100.4,463.4 L101.8,463.4 L103.2,463.4 L104.6,463.4 L106.0,463.4 L107.3,463.4 L108.7,463.4" fill="none" stroke="#d0103a" stroke-width="1.7"/>
<circle cx="42.22" cy="495.40" r="1.25" fill="#6a2c91"/>
<circle cx="51.72" cy="495.40" r="1.25" fill="#6a2c91"/>
<circle cx="61.22" cy="495.40" r="1.25" fill="#6a2c91"/>
<circle cx="70.72" cy="495.40" r="1.25" fill="#6a2c91"/>
<circle cx="80.22" cy="495.40" r="1.25" fill="#6a2c91"/>
<circle cx="89.72" cy="495.39" r="1.25" fill="#6a2c91"/>
<circle cx="99.22" cy="494.62" r="1.25" fill="#6a2c91"/>
<circle cx="108.72" cy="481.73" r="1.25" fill="#6a2c91"/>
<circle cx="42.22" cy="494.60" r="1.25" fill="#154f8f"/>
<circle cx="51.72" cy="494.60" r="1.25" fill="#154f8f"/>
<circle cx="61.22" cy="494.60" r="1.25" fill="#154f8f"/>
<circle cx="70.72" cy="494.48" r="1.25" fill="#154f8f"/>
<circle cx="80.22" cy="491.40" r="1.25" fill="#154f8f"/>
<circle cx="89.72" cy="476.05" r="1.25" fill="#154f8f"/>
<circle cx="99.22" cy="472.73" r="1.25" fill="#154f8f"/>
<circle cx="108.72" cy="472.60" r="1.25" fill="#154f8f"/>
<circle cx="42.22" cy="497.20" r="1.25" fill="#22b04b"/>
<circle cx="51.72" cy="497.20" r="1.25" fill="#22b04b"/>
<circle cx="61.22" cy="497.19" r="1.25" fill="#22b04b"/>
<circle cx="70.72" cy="497.03" r="1.25" fill="#22b04b"/>
<circle cx="80.22" cy="494.21" r="1.25" fill="#22b04b"/>
<circle cx="89.72" cy="481.47" r="1.25" fill="#22b04b"/>
<circle cx="99.22" cy="477.19" r="1.25" fill="#22b04b"/>
<circle cx="108.72" cy="476.91" r="1.25" fill="#22b04b"/>
<circle cx="42.22" cy="493.80" r="1.25" fill="#d0103a"/>
<circle cx="51.72" cy="493.80" r="1.25" fill="#d0103a"/>
<circle cx="61.22" cy="493.80" r="1.25" fill="#d0103a"/>
<circle cx="70.72" cy="493.80" r="1.25" fill="#d0103a"/>
<circle cx="80.22" cy="471.47" r="1.25" fill="#d0103a"/>
<circle cx="89.72" cy="463.40" r="1.25" fill="#d0103a"/>
<circle cx="99.22" cy="463.40" r="1.25" fill="#d0103a"/>
<circle cx="108.72" cy="463.40" r="1.25" fill="#d0103a"/>
<text x="129.72" y="508.70" font-size="8.3" fill="#262626" textLength="7.7" lengthAdjust="spacingAndGlyphs">10</text>
<text x="137.62" y="506.13" font-size="6.44" fill="#262626" textLength="6.38" lengthAdjust="spacingAndGlyphs">−3</text>
<text x="129.72" y="493.57" font-size="8.3" fill="#262626" textLength="7.7" lengthAdjust="spacingAndGlyphs">10</text>
<text x="137.62" y="491.00" font-size="6.44" fill="#262626" textLength="6.38" lengthAdjust="spacingAndGlyphs">−2</text>
<text x="129.72" y="478.45" font-size="8.3" fill="#262626" textLength="7.7" lengthAdjust="spacingAndGlyphs">10</text>
<text x="137.62" y="475.88" font-size="6.44" fill="#262626" textLength="6.38" lengthAdjust="spacingAndGlyphs">−1</text>
<text x="132.99" y="463.32" font-size="8.3" fill="#262626" textLength="7.7" lengthAdjust="spacingAndGlyphs">10</text>
<text x="140.89" y="460.75" font-size="6.44" fill="#262626" textLength="3.11" lengthAdjust="spacingAndGlyphs">0</text>
<text x="132.99" y="448.20" font-size="8.3" fill="#262626" textLength="7.7" lengthAdjust="spacingAndGlyphs">10</text>
<text x="140.89" y="445.63" font-size="6.44" fill="#262626" textLength="3.11" lengthAdjust="spacingAndGlyphs">1</text>
<text transform="translate(124.60,475.45) rotate(-90)" font-size="10.2" text-anchor="middle" fill="#262626" textLength="43.5" lengthAdjust="spacingAndGlyphs">EC50<tspan font-size="7" dy="2.0">Rel</tspan><tspan dy="-2.0"> (nM)</tspan></text>
<text transform="translate(161.00,516.60) rotate(-45)" font-size="8" text-anchor="end" fill="#262626">SAR442085</text>
<text transform="translate(172.20,516.60) rotate(-45)" font-size="8" text-anchor="end" fill="#262626">Daratumumab</text>
<text transform="translate(183.50,516.60) rotate(-45)" font-size="8" text-anchor="end" fill="#262626">Isatuximab</text>
<circle cx="153.00" cy="477.00" r="1.1" fill="#c8001e"/>
<circle cx="155.00" cy="476.50" r="1.1" fill="#c8001e"/>
<circle cx="157.00" cy="477.00" r="1.1" fill="#c8001e"/>
<circle cx="159.00" cy="477.20" r="1.1" fill="#c8001e"/>
<circle cx="154.20" cy="478.50" r="1.1" fill="#c8001e"/>
<circle cx="156.30" cy="478.80" r="1.1" fill="#c8001e"/>
<circle cx="158.40" cy="478.60" r="1.1" fill="#c8001e"/>
<circle cx="160.00" cy="478.00" r="1.1" fill="#c8001e"/>
<circle cx="156.30" cy="476.00" r="1.1" fill="#c8001e"/>
<circle cx="156.30" cy="484.10" r="1.1" fill="#c8001e"/>
<circle cx="156.30" cy="490.60" r="1.1" fill="#c8001e"/>
<circle cx="164.50" cy="462.50" r="1.1" fill="#00306e"/>
<circle cx="167.50" cy="463.50" r="1.1" fill="#00306e"/>
<circle cx="170.50" cy="462.20" r="1.1" fill="#00306e"/>
<circle cx="165.00" cy="466.00" r="1.1" fill="#00306e"/>
<circle cx="170.00" cy="466.00" r="1.1" fill="#00306e"/>
<circle cx="167.50" cy="468.00" r="1.1" fill="#00306e"/>
<circle cx="164.80" cy="471.00" r="1.1" fill="#00306e"/>
<circle cx="170.20" cy="471.00" r="1.1" fill="#00306e"/>
<circle cx="165.50" cy="475.50" r="1.1" fill="#00306e"/>
<circle cx="169.50" cy="476.50" r="1.1" fill="#00306e"/>
<circle cx="167.50" cy="490.60" r="1.1" fill="#00306e"/>
<circle cx="178.80" cy="462.50" r="1.1" fill="#1aaa3a"/>
<circle cx="176.00" cy="466.50" r="1.1" fill="#1aaa3a"/>
<circle cx="181.60" cy="466.50" r="1.1" fill="#1aaa3a"/>
<circle cx="175.80" cy="470.50" r="1.1" fill="#1aaa3a"/>
<circle cx="178.80" cy="470.00" r="1.1" fill="#1aaa3a"/>
<circle cx="181.80" cy="471.00" r="1.1" fill="#1aaa3a"/>
<circle cx="176.30" cy="474.00" r="1.1" fill="#1aaa3a"/>
<circle cx="181.30" cy="474.50" r="1.1" fill="#1aaa3a"/>
<circle cx="176.50" cy="478.50" r="1.1" fill="#1aaa3a"/>
<circle cx="181.00" cy="478.50" r="1.1" fill="#1aaa3a"/>
<circle cx="178.80" cy="481.00" r="1.1" fill="#1aaa3a"/>
<text x="215.80" y="508.90" font-size="8.5" text-anchor="end" textLength="3.93" lengthAdjust="spacingAndGlyphs" fill="#262626">0</text>
<text x="215.80" y="493.77" font-size="8.5" text-anchor="end" textLength="7.86" lengthAdjust="spacingAndGlyphs" fill="#262626">20</text>
<text x="215.80" y="478.65" font-size="8.5" text-anchor="end" textLength="7.86" lengthAdjust="spacingAndGlyphs" fill="#262626">40</text>
<text x="215.80" y="463.52" font-size="8.5" text-anchor="end" textLength="7.86" lengthAdjust="spacingAndGlyphs" fill="#262626">60</text>
<text x="215.80" y="448.40" font-size="8.5" text-anchor="end" textLength="7.86" lengthAdjust="spacingAndGlyphs" fill="#262626">80</text>
<text transform="translate(200.00,475.45) rotate(-90)" font-size="9.6" text-anchor="middle" fill="#262626" textLength="70" lengthAdjust="spacingAndGlyphs">Maximum killing (%)</text>
<text transform="translate(234.70,516.60) rotate(-45)" font-size="8" text-anchor="end" fill="#262626">SAR442085</text>
<text transform="translate(245.80,516.60) rotate(-45)" font-size="8" text-anchor="end" fill="#262626">Daratumumab</text>
<text transform="translate(257.30,516.60) rotate(-45)" font-size="8" text-anchor="end" fill="#262626">Isatuximab</text>
<circle cx="227.00" cy="460.50" r="1.1" fill="#c8001e"/>
<circle cx="230.00" cy="461.50" r="1.1" fill="#c8001e"/>
<circle cx="233.00" cy="462.00" r="1.1" fill="#c8001e"/>
<circle cx="226.80" cy="464.50" r="1.1" fill="#c8001e"/>
<circle cx="229.00" cy="464.80" r="1.1" fill="#c8001e"/>
<circle cx="232.50" cy="465.00" r="1.1" fill="#c8001e"/>
<circle cx="227.50" cy="467.50" r="1.1" fill="#c8001e"/>
<circle cx="231.00" cy="468.00" r="1.1" fill="#c8001e"/>
<circle cx="233.00" cy="469.50" r="1.1" fill="#c8001e"/>
<circle cx="230.00" cy="474.50" r="1.1" fill="#c8001e"/>
<circle cx="227.50" cy="479.50" r="1.1" fill="#c8001e"/>
<circle cx="231.50" cy="479.50" r="1.1" fill="#c8001e"/>
<circle cx="238.50" cy="461.60" r="1.1" fill="#00306e"/>
<circle cx="241.10" cy="463.00" r="1.1" fill="#00306e"/>
<circle cx="243.50" cy="462.50" r="1.1" fill="#00306e"/>
<circle cx="239.00" cy="465.50" r="1.1" fill="#00306e"/>
<circle cx="243.00" cy="466.00" r="1.1" fill="#00306e"/>
<circle cx="241.10" cy="470.00" r="1.1" fill="#00306e"/>
<circle cx="238.30" cy="471.50" r="1.1" fill="#00306e"/>
<circle cx="243.80" cy="472.00" r="1.1" fill="#00306e"/>
<circle cx="239.00" cy="475.50" r="1.1" fill="#00306e"/>
<circle cx="243.00" cy="476.00" r="1.1" fill="#00306e"/>
<circle cx="239.00" cy="480.00" r="1.1" fill="#00306e"/>
<circle cx="243.20" cy="481.50" r="1.1" fill="#00306e"/>
<circle cx="241.10" cy="483.80" r="1.1" fill="#00306e"/>
<circle cx="249.50" cy="464.70" r="1.1" fill="#1aaa3a"/>
<circle cx="255.50" cy="464.90" r="1.1" fill="#1aaa3a"/>
<circle cx="251.00" cy="467.00" r="1.1" fill="#1aaa3a"/>
<circle cx="254.50" cy="467.50" r="1.1" fill="#1aaa3a"/>
<circle cx="252.60" cy="470.00" r="1.1" fill="#1aaa3a"/>
<circle cx="249.80" cy="474.00" r="1.1" fill="#1aaa3a"/>
<circle cx="255.20" cy="474.20" r="1.1" fill="#1aaa3a"/>
<circle cx="250.50" cy="477.00" r="1.1" fill="#1aaa3a"/>
<circle cx="254.00" cy="477.50" r="1.1" fill="#1aaa3a"/>
<circle cx="251.00" cy="483.00" r="1.1" fill="#1aaa3a"/>
<circle cx="254.50" cy="484.00" r="1.1" fill="#1aaa3a"/>
<text x="267.80" y="431.40" font-size="11" font-weight="bold" fill="#111">H</text>
<text x="356.25" y="431.70" font-size="9.3" fill="#222" style="stroke:none" textLength="103.25" lengthAdjust="spacingAndGlyphs">KMS-12-BM / HD PBMC</text>
<text x="287.95" y="500.20" font-size="8.5" text-anchor="end" textLength="7.86" lengthAdjust="spacingAndGlyphs" fill="#262626">30</text>
<text x="287.95" y="482.80" font-size="8.5" text-anchor="end" textLength="7.86" lengthAdjust="spacingAndGlyphs" fill="#262626">40</text>
<text x="287.95" y="465.50" font-size="8.5" text-anchor="end" textLength="7.86" lengthAdjust="spacingAndGlyphs" fill="#262626">50</text>
<text x="287.95" y="448.20" font-size="8.5" text-anchor="end" textLength="7.86" lengthAdjust="spacingAndGlyphs" fill="#262626">60</text>
<text x="287.61" y="517.60" font-size="8.3" fill="#262626" textLength="7.7" lengthAdjust="spacingAndGlyphs">10</text>
<text x="295.51" y="515.03" font-size="6.44" fill="#262626" textLength="6.38" lengthAdjust="spacingAndGlyphs">−6</text>
<text x="306.61" y="517.60" font-size="8.3" fill="#262626" textLength="7.7" lengthAdjust="spacingAndGlyphs">10</text>
<text x="314.51" y="515.03" font-size="6.44" fill="#262626" textLength="6.38" lengthAdjust="spacingAndGlyphs">−4</text>
<text x="325.61" y="517.60" font-size="8.3" fill="#262626" textLength="7.7" lengthAdjust="spacingAndGlyphs">10</text>
<text x="333.51" y="515.03" font-size="6.44" fill="#262626" textLength="6.38" lengthAdjust="spacingAndGlyphs">−2</text>
<text x="346.24" y="517.60" font-size="8.3" fill="#262626" textLength="7.7" lengthAdjust="spacingAndGlyphs">10</text>
<text x="354.14" y="515.03" font-size="6.44" fill="#262626" textLength="3.11" lengthAdjust="spacingAndGlyphs">0</text>
<text x="365.24" y="517.60" font-size="8.3" fill="#262626" textLength="7.7" lengthAdjust="spacingAndGlyphs">10</text>
<text x="373.14" y="515.03" font-size="6.44" fill="#262626" textLength="3.11" lengthAdjust="spacingAndGlyphs">2</text>
<text x="332.15" y="530.90" font-size="10.2" text-anchor="middle" textLength="48.00" lengthAdjust="spacingAndGlyphs" fill="#262626">Ab. conc. (nM)</text>
<text transform="translate(272.75,475.25) rotate(-90)" font-size="10.2" text-anchor="middle" fill="#262626" textLength="57.4" lengthAdjust="spacingAndGlyphs">% tumor cell lysis</text>
<text x="297.50" y="460.70" font-size="7.6" fill="#262626">n=11</text>
<path d="M302.2,494.3 L303.6,494.3 L305.0,494.3 L306.4,494.3 L307.8,494.3 L309.2,494.3 L310.5,494.3 L311.9,494.3 L313.3,494.3 L314.7,494.3 L316.1,494.3 L317.5,494.3 L318.8,494.3 L320.2,494.3 L321.6,494.3 L323.0,494.3 L324.4,494.3 L325.8,494.2 L327.2,494.2 L328.5,494.2 L329.9,494.2 L331.3,494.1 L332.7,494.1 L334.1,494.0 L335.5,493.9 L336.9,493.8 L338.2,493.6 L339.6,493.4 L341.0,493.2 L342.4,492.9 L343.8,492.4 L345.2,491.9 L346.6,491.3 L347.9,490.5 L349.3,489.5 L350.7,488.4 L352.1,487.1 L353.5,485.6 L354.9,483.9 L356.3,482.2 L357.6,480.5 L359.0,478.7 L360.4,477.1 L361.8,475.5 L363.2,474.2 L364.6,473.0 L366.0,472.0 L367.3,471.2 L368.7,470.5" fill="none" stroke="#6a2c91" stroke-width="1.2" stroke-dasharray="1.6,1.3"/>
<path d="M302.2,495.4 L303.6,495.4 L305.0,495.4 L306.4,495.4 L307.8,495.4 L309.2,495.4 L310.5,495.4 L311.9,495.4 L313.3,495.4 L314.7,495.4 L316.1,495.4 L317.5,495.4 L318.8,495.4 L320.2,495.4 L321.6,495.4 L323.0,495.4 L324.4,495.4 L325.8,495.4 L327.2,495.4 L328.5,495.4 L329.9,495.4 L331.3,495.4 L332.7,495.4 L334.1,495.4 L335.5,495.4 L336.9,495.4 L338.2,495.4 L339.6,494.8 L341.0,487.6 L342.4,474.9 L343.8,473.2 L345.2,473.1 L346.6,473.1 L347.9,473.1 L349.3,473.1 L350.7,473.1 L352.1,473.1 L353.5,473.1 L354.9,473.1 L356.3,473.1 L357.6,473.1 L359.0,473.1 L360.4,473.1 L361.8,473.1 L363.2,473.1 L364.6,473.1 L366.0,473.1 L367.3,473.1 L368.7,473.1" fill="none" stroke="#154f8f" stroke-width="1.7"/>
<path d="M302.2,496.9 L303.6,496.9 L305.0,496.9 L306.4,496.9 L307.8,496.9 L309.2,496.9 L310.5,496.9 L311.9,496.9 L313.3,496.9 L314.7,496.9 L316.1,496.9 L317.5,496.9 L318.8,496.9 L320.2,496.9 L321.6,496.9 L323.0,496.9 L324.4,496.9 L325.8,496.9 L327.2,496.9 L328.5,496.9 L329.9,496.8 L331.3,496.7 L332.7,496.6 L334.1,496.3 L335.5,495.7 L336.9,494.6 L338.2,492.9 L339.6,490.2 L341.0,486.7 L342.4,483.2 L343.8,480.1 L345.2,478.0 L346.6,476.7 L347.9,475.9 L349.3,475.5 L350.7,475.3 L352.1,475.2 L353.5,475.2 L354.9,475.1 L356.3,475.1 L357.6,475.1 L359.0,475.1 L360.4,475.1 L361.8,475.1 L363.2,475.1 L364.6,475.1 L366.0,475.1 L367.3,475.1 L368.7,475.1" fill="none" stroke="#22b04b" stroke-width="1.7"/>
<path d="M302.2,492.8 L303.6,492.8 L305.0,492.8 L306.4,492.8 L307.8,492.8 L309.2,492.8 L310.5,492.8 L311.9,492.7 L313.3,492.7 L314.7,492.6 L316.1,492.5 L317.5,492.4 L318.8,492.2 L320.2,491.8 L321.6,491.3 L323.0,490.5 L324.4,489.4 L325.8,487.8 L327.2,485.5 L328.5,482.7 L329.9,479.2 L331.3,475.3 L332.7,471.3 L334.1,467.7 L335.5,464.5 L336.9,462.1 L338.2,460.2 L339.6,458.9 L341.0,458.0 L342.4,457.4 L343.8,457.0 L345.2,456.7 L346.6,456.5 L347.9,456.4 L349.3,456.3 L350.7,456.3 L352.1,456.3 L353.5,456.2 L354.9,456.2 L356.3,456.2 L357.6,456.2 L359.0,456.2 L360.4,456.2 L361.8,456.2 L363.2,456.2 L364.6,456.2 L366.0,456.2 L367.3,456.2 L368.7,456.2" fill="none" stroke="#d0103a" stroke-width="1.7"/>
<circle cx="302.22" cy="494.30" r="1.25" fill="#6a2c91"/>
<circle cx="311.72" cy="494.30" r="1.25" fill="#6a2c91"/>
<circle cx="321.22" cy="494.27" r="1.25" fill="#6a2c91"/>
<circle cx="330.72" cy="494.14" r="1.25" fill="#6a2c91"/>
<circle cx="340.22" cy="493.34" r="1.25" fill="#6a2c91"/>
<circle cx="349.72" cy="489.22" r="1.25" fill="#6a2c91"/>
<circle cx="359.22" cy="478.48" r="1.25" fill="#6a2c91"/>
<circle cx="368.72" cy="470.50" r="1.25" fill="#6a2c91"/>
<circle cx="302.22" cy="495.40" r="1.25" fill="#154f8f"/>
<circle cx="311.72" cy="495.40" r="1.25" fill="#154f8f"/>
<circle cx="321.22" cy="495.40" r="1.25" fill="#154f8f"/>
<circle cx="330.72" cy="495.40" r="1.25" fill="#154f8f"/>
<circle cx="340.22" cy="493.45" r="1.25" fill="#154f8f"/>
<circle cx="349.72" cy="473.10" r="1.25" fill="#154f8f"/>
<circle cx="359.22" cy="473.10" r="1.25" fill="#154f8f"/>
<circle cx="368.72" cy="473.10" r="1.25" fill="#154f8f"/>
<circle cx="302.22" cy="496.90" r="1.25" fill="#22b04b"/>
<circle cx="311.72" cy="496.90" r="1.25" fill="#22b04b"/>
<circle cx="321.22" cy="496.90" r="1.25" fill="#22b04b"/>
<circle cx="330.72" cy="496.77" r="1.25" fill="#22b04b"/>
<circle cx="340.22" cy="488.78" r="1.25" fill="#22b04b"/>
<circle cx="349.72" cy="475.46" r="1.25" fill="#22b04b"/>
<circle cx="359.22" cy="475.10" r="1.25" fill="#22b04b"/>
<circle cx="368.72" cy="475.10" r="1.25" fill="#22b04b"/>
<circle cx="302.22" cy="492.80" r="1.25" fill="#d0103a"/>
<circle cx="311.72" cy="492.73" r="1.25" fill="#d0103a"/>
<circle cx="321.22" cy="491.46" r="1.25" fill="#d0103a"/>
<circle cx="330.72" cy="477.01" r="1.25" fill="#d0103a"/>
<circle cx="340.22" cy="458.47" r="1.25" fill="#d0103a"/>
<circle cx="349.72" cy="456.32" r="1.25" fill="#d0103a"/>
<circle cx="359.22" cy="456.21" r="1.25" fill="#d0103a"/>
<circle cx="368.72" cy="456.20" r="1.25" fill="#d0103a"/>
<text x="389.52" y="508.70" font-size="8.3" fill="#262626" textLength="7.7" lengthAdjust="spacingAndGlyphs">10</text>
<text x="397.42" y="506.13" font-size="6.44" fill="#262626" textLength="6.38" lengthAdjust="spacingAndGlyphs">−3</text>
<text x="389.52" y="493.65" font-size="8.3" fill="#262626" textLength="7.7" lengthAdjust="spacingAndGlyphs">10</text>
<text x="397.42" y="491.08" font-size="6.44" fill="#262626" textLength="6.38" lengthAdjust="spacingAndGlyphs">−2</text>
<text x="389.52" y="478.60" font-size="8.3" fill="#262626" textLength="7.7" lengthAdjust="spacingAndGlyphs">10</text>
<text x="397.42" y="476.03" font-size="6.44" fill="#262626" textLength="6.38" lengthAdjust="spacingAndGlyphs">−1</text>
<text x="392.79" y="463.55" font-size="8.3" fill="#262626" textLength="7.7" lengthAdjust="spacingAndGlyphs">10</text>
<text x="400.69" y="460.98" font-size="6.44" fill="#262626" textLength="3.11" lengthAdjust="spacingAndGlyphs">0</text>
<text x="392.79" y="448.50" font-size="8.3" fill="#262626" textLength="7.7" lengthAdjust="spacingAndGlyphs">10</text>
<text x="400.69" y="445.93" font-size="6.44" fill="#262626" textLength="3.11" lengthAdjust="spacingAndGlyphs">1</text>
<text transform="translate(384.40,475.60) rotate(-90)" font-size="10.2" text-anchor="middle" fill="#262626" textLength="43.5" lengthAdjust="spacingAndGlyphs">EC50<tspan font-size="7" dy="2.0">Rel</tspan><tspan dy="-2.0"> (nM)</tspan></text>
<text transform="translate(420.40,516.60) rotate(-45)" font-size="8" text-anchor="end" fill="#262626">SAR442085</text>
<text transform="translate(431.50,516.60) rotate(-45)" font-size="8" text-anchor="end" fill="#262626">Daratumumab</text>
<text transform="translate(443.00,516.60) rotate(-45)" font-size="8" text-anchor="end" fill="#262626">Isatuximab</text>
<circle cx="412.50" cy="478.50" r="1.1" fill="#c8001e"/>
<circle cx="418.50" cy="478.80" r="1.1" fill="#c8001e"/>
<circle cx="413.00" cy="481.50" r="1.1" fill="#c8001e"/>
<circle cx="418.00" cy="481.00" r="1.1" fill="#c8001e"/>
<circle cx="415.70" cy="485.00" r="1.1" fill="#c8001e"/>
<circle cx="412.50" cy="488.00" r="1.1" fill="#c8001e"/>
<circle cx="419.00" cy="487.50" r="1.1" fill="#c8001e"/>
<circle cx="413.00" cy="492.00" r="1.1" fill="#c8001e"/>
<circle cx="418.50" cy="491.50" r="1.1" fill="#c8001e"/>
<circle cx="414.00" cy="496.50" r="1.1" fill="#c8001e"/>
<circle cx="417.00" cy="498.00" r="1.1" fill="#c8001e"/>
<circle cx="426.80" cy="465.10" r="1.1" fill="#00306e"/>
<circle cx="423.50" cy="472.50" r="1.1" fill="#00306e"/>
<circle cx="426.00" cy="471.80" r="1.1" fill="#00306e"/>
<circle cx="429.00" cy="472.00" r="1.1" fill="#00306e"/>
<circle cx="424.00" cy="474.50" r="1.1" fill="#00306e"/>
<circle cx="427.00" cy="474.80" r="1.1" fill="#00306e"/>
<circle cx="430.00" cy="474.50" r="1.1" fill="#00306e"/>
<circle cx="425.00" cy="476.20" r="1.1" fill="#00306e"/>
<circle cx="428.50" cy="476.00" r="1.1" fill="#00306e"/>
<circle cx="426.80" cy="470.20" r="1.1" fill="#00306e"/>
<circle cx="426.80" cy="493.50" r="1.1" fill="#00306e"/>
<circle cx="436.00" cy="469.40" r="1.1" fill="#1aaa3a"/>
<circle cx="440.50" cy="470.00" r="1.1" fill="#1aaa3a"/>
<circle cx="435.50" cy="472.50" r="1.1" fill="#1aaa3a"/>
<circle cx="438.30" cy="472.50" r="1.1" fill="#1aaa3a"/>
<circle cx="441.00" cy="473.00" r="1.1" fill="#1aaa3a"/>
<circle cx="436.00" cy="476.00" r="1.1" fill="#1aaa3a"/>
<circle cx="440.50" cy="476.50" r="1.1" fill="#1aaa3a"/>
<circle cx="437.00" cy="480.00" r="1.1" fill="#1aaa3a"/>
<circle cx="439.50" cy="483.00" r="1.1" fill="#1aaa3a"/>
<circle cx="437.00" cy="488.50" r="1.1" fill="#1aaa3a"/>
<circle cx="439.50" cy="490.60" r="1.1" fill="#1aaa3a"/>
<text x="471.30" y="508.90" font-size="8.5" text-anchor="end" textLength="3.93" lengthAdjust="spacingAndGlyphs" fill="#262626">0</text>
<text x="471.30" y="496.80" font-size="8.5" text-anchor="end" textLength="7.86" lengthAdjust="spacingAndGlyphs" fill="#262626">20</text>
<text x="471.30" y="484.70" font-size="8.5" text-anchor="end" textLength="7.86" lengthAdjust="spacingAndGlyphs" fill="#262626">40</text>
<text x="471.30" y="472.60" font-size="8.5" text-anchor="end" textLength="7.86" lengthAdjust="spacingAndGlyphs" fill="#262626">60</text>
<text x="471.30" y="460.50" font-size="8.5" text-anchor="end" textLength="7.86" lengthAdjust="spacingAndGlyphs" fill="#262626">80</text>
<text x="471.30" y="448.40" font-size="8.5" text-anchor="end" textLength="11.79" lengthAdjust="spacingAndGlyphs" fill="#262626">100</text>
<text transform="translate(455.50,475.45) rotate(-90)" font-size="9.6" text-anchor="middle" fill="#262626" textLength="70" lengthAdjust="spacingAndGlyphs">Maximum killing (%)</text>
<text transform="translate(489.90,516.60) rotate(-45)" font-size="8" text-anchor="end" fill="#262626">SAR442085</text>
<text transform="translate(500.90,516.60) rotate(-45)" font-size="8" text-anchor="end" fill="#262626">Daratumumab</text>
<text transform="translate(512.00,516.60) rotate(-45)" font-size="8" text-anchor="end" fill="#262626">Isatuximab</text>
<circle cx="485.20" cy="460.80" r="1.1" fill="#c8001e"/>
<circle cx="485.20" cy="465.00" r="1.1" fill="#c8001e"/>
<circle cx="482.00" cy="468.50" r="1.1" fill="#c8001e"/>
<circle cx="488.00" cy="468.50" r="1.1" fill="#c8001e"/>
<circle cx="482.50" cy="472.50" r="1.1" fill="#c8001e"/>
<circle cx="485.20" cy="472.80" r="1.1" fill="#c8001e"/>
<circle cx="488.50" cy="471.50" r="1.1" fill="#c8001e"/>
<circle cx="482.50" cy="476.00" r="1.1" fill="#c8001e"/>
<circle cx="487.50" cy="476.50" r="1.1" fill="#c8001e"/>
<circle cx="484.50" cy="487.00" r="1.1" fill="#c8001e"/>
<circle cx="484.50" cy="491.30" r="1.1" fill="#c8001e"/>
<circle cx="497.50" cy="469.70" r="1.1" fill="#00306e"/>
<circle cx="494.00" cy="471.50" r="1.1" fill="#00306e"/>
<circle cx="499.50" cy="470.50" r="1.1" fill="#00306e"/>
<circle cx="493.50" cy="475.50" r="1.1" fill="#00306e"/>
<circle cx="496.20" cy="476.00" r="1.1" fill="#00306e"/>
<circle cx="499.00" cy="476.50" r="1.1" fill="#00306e"/>
<circle cx="494.00" cy="479.00" r="1.1" fill="#00306e"/>
<circle cx="498.50" cy="479.00" r="1.1" fill="#00306e"/>
<circle cx="496.20" cy="485.00" r="1.1" fill="#00306e"/>
<circle cx="495.00" cy="489.50" r="1.1" fill="#00306e"/>
<circle cx="496.20" cy="493.90" r="1.1" fill="#00306e"/>
<circle cx="505.00" cy="468.60" r="1.1" fill="#1aaa3a"/>
<circle cx="510.00" cy="469.50" r="1.1" fill="#1aaa3a"/>
<circle cx="505.00" cy="476.00" r="1.1" fill="#1aaa3a"/>
<circle cx="509.50" cy="476.50" r="1.1" fill="#1aaa3a"/>
<circle cx="504.50" cy="480.50" r="1.1" fill="#1aaa3a"/>
<circle cx="507.30" cy="481.00" r="1.1" fill="#1aaa3a"/>
<circle cx="510.20" cy="480.00" r="1.1" fill="#1aaa3a"/>
<circle cx="505.50" cy="484.00" r="1.1" fill="#1aaa3a"/>
<circle cx="509.50" cy="484.00" r="1.1" fill="#1aaa3a"/>
<circle cx="507.30" cy="490.50" r="1.1" fill="#1aaa3a"/>
<circle cx="507.30" cy="495.40" r="1.1" fill="#1aaa3a"/>
<text x="8.00" y="566.20" font-size="11" font-weight="bold" fill="#111">I</text>
<text x="93.50" y="566.20" font-size="9.3" fill="#222" style="stroke:none" textLength="84.00" lengthAdjust="spacingAndGlyphs">RPMI-8226 / HD NK</text>
<text x="27.95" y="643.60" font-size="8.5" text-anchor="end" textLength="7.86" lengthAdjust="spacingAndGlyphs" fill="#262626">20</text>
<text x="27.95" y="623.40" font-size="8.5" text-anchor="end" textLength="7.86" lengthAdjust="spacingAndGlyphs" fill="#262626">40</text>
<text x="27.95" y="603.30" font-size="8.5" text-anchor="end" textLength="7.86" lengthAdjust="spacingAndGlyphs" fill="#262626">60</text>
<text x="27.95" y="583.10" font-size="8.5" text-anchor="end" textLength="7.86" lengthAdjust="spacingAndGlyphs" fill="#262626">80</text>
<text x="27.61" y="652.50" font-size="8.3" fill="#262626" textLength="7.7" lengthAdjust="spacingAndGlyphs">10</text>
<text x="35.51" y="649.93" font-size="6.44" fill="#262626" textLength="6.38" lengthAdjust="spacingAndGlyphs">−6</text>
<text x="46.61" y="652.50" font-size="8.3" fill="#262626" textLength="7.7" lengthAdjust="spacingAndGlyphs">10</text>
<text x="54.51" y="649.93" font-size="6.44" fill="#262626" textLength="6.38" lengthAdjust="spacingAndGlyphs">−4</text>
<text x="65.61" y="652.50" font-size="8.3" fill="#262626" textLength="7.7" lengthAdjust="spacingAndGlyphs">10</text>
<text x="73.51" y="649.93" font-size="6.44" fill="#262626" textLength="6.38" lengthAdjust="spacingAndGlyphs">−2</text>
<text x="86.24" y="652.50" font-size="8.3" fill="#262626" textLength="7.7" lengthAdjust="spacingAndGlyphs">10</text>
<text x="94.14" y="649.93" font-size="6.44" fill="#262626" textLength="3.11" lengthAdjust="spacingAndGlyphs">0</text>
<text x="105.24" y="652.50" font-size="8.3" fill="#262626" textLength="7.7" lengthAdjust="spacingAndGlyphs">10</text>
<text x="113.14" y="649.93" font-size="6.44" fill="#262626" textLength="3.11" lengthAdjust="spacingAndGlyphs">2</text>
<text x="72.15" y="665.80" font-size="10.2" text-anchor="middle" textLength="48.00" lengthAdjust="spacingAndGlyphs" fill="#262626">Ab. conc. (nM)</text>
<text transform="translate(12.75,610.15) rotate(-90)" font-size="10.2" text-anchor="middle" fill="#262626" textLength="57.4" lengthAdjust="spacingAndGlyphs">% tumor cell lysis</text>
<text x="38.75" y="597.70" font-size="7.6" fill="#262626">n=2</text>
<path d="M42.2,634.3 L43.6,634.3 L45.0,634.3 L46.4,634.3 L47.8,634.3 L49.2,634.3 L50.5,634.2 L51.9,634.2 L53.3,634.2 L54.7,634.2 L56.1,634.2 L57.5,634.1 L58.8,634.1 L60.2,634.0 L61.6,634.0 L63.0,633.9 L64.4,633.9 L65.8,633.8 L67.2,633.7 L68.5,633.6 L69.9,633.5 L71.3,633.4 L72.7,633.2 L74.1,633.0 L75.5,632.8 L76.9,632.5 L78.2,632.3 L79.6,631.9 L81.0,631.6 L82.4,631.1 L83.8,630.7 L85.2,630.1 L86.6,629.5 L87.9,628.7 L89.3,627.9 L90.7,627.0 L92.1,626.0 L93.5,624.9 L94.9,623.7 L96.3,622.3 L97.6,620.8 L99.0,619.2 L100.4,617.5 L101.8,615.7 L103.2,613.8 L104.6,611.9 L106.0,609.9 L107.3,607.8 L108.7,605.8" fill="none" stroke="#6a2c91" stroke-width="1.2" stroke-dasharray="1.6,1.3"/>
<path d="M42.2,634.5 L43.6,634.5 L45.0,634.5 L46.4,634.5 L47.8,634.5 L49.2,634.5 L50.5,634.4 L51.9,634.4 L53.3,634.3 L54.7,634.2 L56.1,634.0 L57.5,633.8 L58.8,633.4 L60.2,633.0 L61.6,632.3 L63.0,631.4 L64.4,630.2 L65.8,628.6 L67.2,626.5 L68.5,624.1 L69.9,621.3 L71.3,618.2 L72.7,615.1 L74.1,612.3 L75.5,609.7 L76.9,607.5 L78.2,605.8 L79.6,604.5 L81.0,603.5 L82.4,602.8 L83.8,602.3 L85.2,601.9 L86.6,601.7 L87.9,601.5 L89.3,601.4 L90.7,601.3 L92.1,601.2 L93.5,601.2 L94.9,601.1 L96.3,601.1 L97.6,601.1 L99.0,601.1 L100.4,601.1 L101.8,601.1 L103.2,601.1 L104.6,601.1 L106.0,601.1 L107.3,601.1 L108.7,601.1" fill="none" stroke="#154f8f" stroke-width="1.7"/>
<path d="M42.2,634.9 L43.6,634.9 L45.0,634.9 L46.4,634.9 L47.8,634.8 L49.2,634.8 L50.5,634.8 L51.9,634.8 L53.3,634.8 L54.7,634.8 L56.1,634.7 L57.5,634.6 L58.8,634.5 L60.2,634.3 L61.6,633.9 L63.0,633.4 L64.4,632.5 L65.8,631.1 L67.2,629.0 L68.5,626.2 L69.9,622.5 L71.3,618.4 L72.7,614.1 L74.1,610.3 L75.5,607.3 L76.9,605.0 L78.2,603.5 L79.6,602.5 L81.0,601.8 L82.4,601.4 L83.8,601.2 L85.2,601.0 L86.6,600.9 L87.9,600.9 L89.3,600.8 L90.7,600.8 L92.1,600.8 L93.5,600.8 L94.9,600.8 L96.3,600.8 L97.6,600.8 L99.0,600.8 L100.4,600.8 L101.8,600.8 L103.2,600.8 L104.6,600.8 L106.0,600.8 L107.3,600.8 L108.7,600.8" fill="none" stroke="#22b04b" stroke-width="1.7"/>
<path d="M42.2,633.1 L43.6,633.1 L45.0,633.1 L46.4,633.1 L47.8,633.1 L49.2,633.1 L50.5,633.1 L51.9,633.0 L53.3,632.9 L54.7,632.6 L56.1,632.1 L57.5,631.1 L58.8,629.5 L60.2,626.7 L61.6,622.5 L63.0,617.5 L64.4,612.4 L65.8,608.3 L67.2,605.5 L68.5,603.9 L69.9,602.9 L71.3,602.4 L72.7,602.2 L74.1,602.0 L75.5,602.0 L76.9,601.9 L78.2,601.9 L79.6,601.9 L81.0,601.9 L82.4,601.9 L83.8,601.9 L85.2,601.9 L86.6,601.9 L87.9,601.9 L89.3,601.9 L90.7,601.9 L92.1,601.9 L93.5,601.9 L94.9,601.9 L96.3,601.9 L97.6,601.9 L99.0,601.9 L100.4,601.9 L101.8,601.9 L103.2,601.9 L104.6,601.9 L106.0,601.9 L107.3,601.9 L108.7,601.9" fill="none" stroke="#d0103a" stroke-width="1.7"/>
<circle cx="70.72" cy="633.41" r="1.25" fill="#6a2c91"/>
<circle cx="80.22" cy="631.79" r="1.25" fill="#6a2c91"/>
<circle cx="89.72" cy="627.69" r="1.25" fill="#6a2c91"/>
<circle cx="99.22" cy="619.00" r="1.25" fill="#6a2c91"/>
<circle cx="108.72" cy="605.75" r="1.25" fill="#6a2c91"/>
<circle cx="42.22" cy="634.54" r="1.25" fill="#154f8f"/>
<circle cx="51.72" cy="634.38" r="1.25" fill="#154f8f"/>
<circle cx="61.22" cy="632.52" r="1.25" fill="#154f8f"/>
<circle cx="70.72" cy="619.54" r="1.25" fill="#154f8f"/>
<circle cx="80.22" cy="604.05" r="1.25" fill="#154f8f"/>
<circle cx="89.72" cy="601.33" r="1.25" fill="#154f8f"/>
<circle cx="99.22" cy="601.10" r="1.25" fill="#154f8f"/>
<circle cx="108.72" cy="601.08" r="1.25" fill="#154f8f"/>
<circle cx="42.22" cy="634.85" r="1.25" fill="#22b04b"/>
<circle cx="51.72" cy="634.83" r="1.25" fill="#22b04b"/>
<circle cx="61.22" cy="634.06" r="1.25" fill="#22b04b"/>
<circle cx="70.72" cy="620.20" r="1.25" fill="#22b04b"/>
<circle cx="80.22" cy="602.14" r="1.25" fill="#22b04b"/>
<circle cx="89.72" cy="600.82" r="1.25" fill="#22b04b"/>
<circle cx="99.22" cy="600.77" r="1.25" fill="#22b04b"/>
<circle cx="108.72" cy="600.77" r="1.25" fill="#22b04b"/>
<circle cx="42.22" cy="633.14" r="1.25" fill="#d0103a"/>
<circle cx="51.72" cy="633.01" r="1.25" fill="#d0103a"/>
<circle cx="61.22" cy="623.85" r="1.25" fill="#d0103a"/>
<circle cx="70.72" cy="602.60" r="1.25" fill="#d0103a"/>
<circle cx="80.22" cy="596.39" r="1.25" fill="#d0103a"/>
<circle cx="89.72" cy="601.88" r="1.25" fill="#d0103a"/>
<circle cx="99.22" cy="606.38" r="1.25" fill="#d0103a"/>
<circle cx="108.72" cy="606.38" r="1.25" fill="#d0103a"/>
<text x="130.02" y="643.40" font-size="8.3" fill="#262626" textLength="7.7" lengthAdjust="spacingAndGlyphs">10</text>
<text x="137.92" y="640.83" font-size="6.44" fill="#262626" textLength="6.38" lengthAdjust="spacingAndGlyphs">−4</text>
<text x="130.02" y="628.42" font-size="8.3" fill="#262626" textLength="7.7" lengthAdjust="spacingAndGlyphs">10</text>
<text x="137.92" y="625.85" font-size="6.44" fill="#262626" textLength="6.38" lengthAdjust="spacingAndGlyphs">−3</text>
<text x="130.02" y="613.45" font-size="8.3" fill="#262626" textLength="7.7" lengthAdjust="spacingAndGlyphs">10</text>
<text x="137.92" y="610.88" font-size="6.44" fill="#262626" textLength="6.38" lengthAdjust="spacingAndGlyphs">−2</text>
<text x="130.02" y="598.48" font-size="8.3" fill="#262626" textLength="7.7" lengthAdjust="spacingAndGlyphs">10</text>
<text x="137.92" y="595.90" font-size="6.44" fill="#262626" textLength="6.38" lengthAdjust="spacingAndGlyphs">−1</text>
<text x="133.29" y="583.50" font-size="8.3" fill="#262626" textLength="7.7" lengthAdjust="spacingAndGlyphs">10</text>
<text x="141.19" y="580.93" font-size="6.44" fill="#262626" textLength="3.11" lengthAdjust="spacingAndGlyphs">0</text>
<text transform="translate(124.90,610.45) rotate(-90)" font-size="10.2" text-anchor="middle" fill="#262626" textLength="43.5" lengthAdjust="spacingAndGlyphs">EC50<tspan font-size="7" dy="2.0">Rel</tspan><tspan dy="-2.0"> (nM)</tspan></text>
<text transform="translate(161.20,651.30) rotate(-45)" font-size="8" text-anchor="end" fill="#262626">SAR442085</text>
<text transform="translate(172.20,651.30) rotate(-45)" font-size="8" text-anchor="end" fill="#262626">Daratumumab</text>
<text transform="translate(183.30,651.30) rotate(-45)" font-size="8" text-anchor="end" fill="#262626">Isatuximab</text>
<circle cx="156.50" cy="623.80" r="1.25" fill="#c8001e"/>
<circle cx="156.50" cy="625.80" r="1.25" fill="#c8001e"/>
<circle cx="165.00" cy="609.90" r="1.25" fill="#00306e"/>
<circle cx="170.60" cy="609.60" r="1.25" fill="#00306e"/>
<circle cx="176.20" cy="609.90" r="1.25" fill="#1aaa3a"/>
<circle cx="181.60" cy="608.70" r="1.25" fill="#1aaa3a"/>
<text x="215.80" y="643.30" font-size="8.5" text-anchor="end" textLength="3.93" lengthAdjust="spacingAndGlyphs" fill="#262626">0</text>
<text x="215.80" y="631.22" font-size="8.5" text-anchor="end" textLength="7.86" lengthAdjust="spacingAndGlyphs" fill="#262626">20</text>
<text x="215.80" y="619.14" font-size="8.5" text-anchor="end" textLength="7.86" lengthAdjust="spacingAndGlyphs" fill="#262626">40</text>
<text x="215.80" y="607.06" font-size="8.5" text-anchor="end" textLength="7.86" lengthAdjust="spacingAndGlyphs" fill="#262626">60</text>
<text x="215.80" y="594.98" font-size="8.5" text-anchor="end" textLength="7.86" lengthAdjust="spacingAndGlyphs" fill="#262626">80</text>
<text x="215.80" y="582.90" font-size="8.5" text-anchor="end" textLength="11.79" lengthAdjust="spacingAndGlyphs" fill="#262626">100</text>
<text transform="translate(200.00,609.90) rotate(-90)" font-size="9.6" text-anchor="middle" fill="#262626" textLength="70" lengthAdjust="spacingAndGlyphs">Maximum killing (%)</text>
<text transform="translate(234.20,651.00) rotate(-45)" font-size="8" text-anchor="end" fill="#262626">SAR442085</text>
<text transform="translate(245.70,651.00) rotate(-45)" font-size="8" text-anchor="end" fill="#262626">Daratumumab</text>
<text transform="translate(256.90,651.00) rotate(-45)" font-size="8" text-anchor="end" fill="#262626">Isatuximab</text>
<circle cx="229.50" cy="603.90" r="1.25" fill="#c8001e"/>
<circle cx="229.50" cy="605.70" r="1.25" fill="#c8001e"/>
<circle cx="241.00" cy="602.40" r="1.25" fill="#00306e"/>
<circle cx="241.00" cy="607.20" r="1.25" fill="#00306e"/>
<circle cx="252.20" cy="603.10" r="1.25" fill="#1aaa3a"/>
<circle cx="252.20" cy="605.40" r="1.25" fill="#1aaa3a"/>
<text x="235.25" y="593.30" font-size="8.4" text-anchor="middle" fill="#262626">ns</text>
<text x="240.85" y="580.20" font-size="8.4" text-anchor="middle" fill="#262626">ns</text>
<text x="267.80" y="566.20" font-size="11" font-weight="bold" fill="#111">J</text>
<text x="356.25" y="566.20" font-size="9.3" fill="#222" style="stroke:none" textLength="117.50" lengthAdjust="spacingAndGlyphs">MOLP-8 / HD macrophages</text>
<text x="287.95" y="643.60" font-size="8.5" text-anchor="end" textLength="7.86" lengthAdjust="spacingAndGlyphs" fill="#262626">20</text>
<text x="287.95" y="623.40" font-size="8.5" text-anchor="end" textLength="7.86" lengthAdjust="spacingAndGlyphs" fill="#262626">40</text>
<text x="287.95" y="603.10" font-size="8.5" text-anchor="end" textLength="7.86" lengthAdjust="spacingAndGlyphs" fill="#262626">60</text>
<text x="287.95" y="582.90" font-size="8.5" text-anchor="end" textLength="7.86" lengthAdjust="spacingAndGlyphs" fill="#262626">80</text>
<text x="287.61" y="652.50" font-size="8.3" fill="#262626" textLength="7.7" lengthAdjust="spacingAndGlyphs">10</text>
<text x="295.51" y="649.93" font-size="6.44" fill="#262626" textLength="6.38" lengthAdjust="spacingAndGlyphs">−6</text>
<text x="306.61" y="652.50" font-size="8.3" fill="#262626" textLength="7.7" lengthAdjust="spacingAndGlyphs">10</text>
<text x="314.51" y="649.93" font-size="6.44" fill="#262626" textLength="6.38" lengthAdjust="spacingAndGlyphs">−4</text>
<text x="325.61" y="652.50" font-size="8.3" fill="#262626" textLength="7.7" lengthAdjust="spacingAndGlyphs">10</text>
<text x="333.51" y="649.93" font-size="6.44" fill="#262626" textLength="6.38" lengthAdjust="spacingAndGlyphs">−2</text>
<text x="346.24" y="652.50" font-size="8.3" fill="#262626" textLength="7.7" lengthAdjust="spacingAndGlyphs">10</text>
<text x="354.14" y="649.93" font-size="6.44" fill="#262626" textLength="3.11" lengthAdjust="spacingAndGlyphs">0</text>
<text x="365.24" y="652.50" font-size="8.3" fill="#262626" textLength="7.7" lengthAdjust="spacingAndGlyphs">10</text>
<text x="373.14" y="649.93" font-size="6.44" fill="#262626" textLength="3.11" lengthAdjust="spacingAndGlyphs">2</text>
<text x="332.15" y="665.80" font-size="10.2" text-anchor="middle" textLength="48.00" lengthAdjust="spacingAndGlyphs" fill="#262626">Ab. conc. (nM)</text>
<text transform="translate(272.75,610.05) rotate(-90)" font-size="10.2" text-anchor="middle" fill="#262626" textLength="51.0" lengthAdjust="spacingAndGlyphs">% phagocytosis</text>
<text x="297.50" y="597.20" font-size="7.6" fill="#262626">n=4</text>
<path d="M302.2,627.2 L303.6,627.2 L305.0,627.2 L306.4,627.2 L307.8,627.2 L309.2,627.2 L310.5,627.2 L311.9,627.2 L313.3,627.2 L314.7,627.2 L316.1,627.2 L317.5,627.2 L318.8,627.2 L320.2,627.2 L321.6,627.2 L323.0,627.2 L324.4,627.2 L325.8,627.2 L327.2,627.2 L328.5,627.1 L329.9,627.1 L331.3,627.1 L332.7,627.1 L334.1,627.1 L335.5,627.0 L336.9,627.0 L338.2,626.9 L339.6,626.9 L341.0,626.8 L342.4,626.7 L343.8,626.6 L345.2,626.5 L346.6,626.4 L347.9,626.2 L349.3,626.1 L350.7,625.9 L352.1,625.6 L353.5,625.4 L354.9,625.0 L356.3,624.7 L357.6,624.2 L359.0,623.8 L360.4,623.2 L361.8,622.6 L363.2,621.9 L364.6,621.2 L366.0,620.3 L367.3,619.4 L368.7,618.5" fill="none" stroke="#6a2c91" stroke-width="1.2" stroke-dasharray="1.6,1.3"/>
<path d="M302.2,627.2 L303.6,627.2 L305.0,627.2 L306.4,627.2 L307.8,627.2 L309.2,627.2 L310.5,627.2 L311.9,627.2 L313.3,627.2 L314.7,627.2 L316.1,627.2 L317.5,627.2 L318.8,627.2 L320.2,627.2 L321.6,627.1 L323.0,627.1 L324.4,627.0 L325.8,626.8 L327.2,626.6 L328.5,626.2 L329.9,625.7 L331.3,625.0 L332.7,623.9 L334.1,622.5 L335.5,620.6 L336.9,618.4 L338.2,616.0 L339.6,613.7 L341.0,611.5 L342.4,609.7 L343.8,608.3 L345.2,607.2 L346.6,606.5 L347.9,606.0 L349.3,605.6 L350.7,605.4 L352.1,605.3 L353.5,605.2 L354.9,605.1 L356.3,605.1 L357.6,605.0 L359.0,605.0 L360.4,605.0 L361.8,605.0 L363.2,605.0 L364.6,605.0 L366.0,605.0 L367.3,605.0 L368.7,605.0" fill="none" stroke="#154f8f" stroke-width="1.7"/>
<path d="M302.2,627.2 L303.6,627.2 L305.0,627.2 L306.4,627.2 L307.8,627.2 L309.2,627.2 L310.5,627.2 L311.9,627.2 L313.3,627.2 L314.7,627.2 L316.1,627.2 L317.5,627.2 L318.8,627.2 L320.2,627.2 L321.6,627.2 L323.0,627.1 L324.4,627.0 L325.8,626.9 L327.2,626.8 L328.5,626.5 L329.9,626.2 L331.3,625.6 L332.7,624.8 L334.1,623.7 L335.5,622.3 L336.9,620.5 L338.2,618.5 L339.6,616.4 L341.0,614.3 L342.4,612.6 L343.8,611.2 L345.2,610.1 L346.6,609.3 L347.9,608.8 L349.3,608.4 L350.7,608.2 L352.1,608.0 L353.5,607.9 L354.9,607.8 L356.3,607.8 L357.6,607.8 L359.0,607.8 L360.4,607.7 L361.8,607.7 L363.2,607.7 L364.6,607.7 L366.0,607.7 L367.3,607.7 L368.7,607.7" fill="none" stroke="#22b04b" stroke-width="1.7"/>
<path d="M302.2,627.3 L303.6,627.3 L305.0,627.3 L306.4,627.3 L307.8,627.3 L309.2,627.3 L310.5,627.3 L311.9,627.3 L313.3,627.3 L314.7,627.3 L316.1,627.3 L317.5,627.3 L318.8,627.2 L320.2,627.1 L321.6,626.9 L323.0,626.7 L324.4,626.2 L325.8,625.6 L327.2,624.6 L328.5,623.0 L329.9,620.8 L331.3,617.8 L332.7,613.9 L334.1,609.6 L335.5,605.1 L336.9,601.1 L338.2,597.8 L339.6,595.3 L341.0,593.6 L342.4,592.4 L343.8,591.7 L345.2,591.2 L346.6,590.9 L347.9,590.7 L349.3,590.6 L350.7,590.5 L352.1,590.5 L353.5,590.5 L354.9,590.5 L356.3,590.4 L357.6,590.4 L359.0,590.4 L360.4,590.4 L361.8,590.4 L363.2,590.4 L364.6,590.4 L366.0,590.4 L367.3,590.4 L368.7,590.4" fill="none" stroke="#d0103a" stroke-width="1.7"/>
<circle cx="302.22" cy="627.24" r="1.25" fill="#6a2c91"/>
<circle cx="311.72" cy="627.24" r="1.25" fill="#6a2c91"/>
<circle cx="321.22" cy="627.21" r="1.25" fill="#6a2c91"/>
<circle cx="330.72" cy="627.12" r="1.25" fill="#6a2c91"/>
<circle cx="340.22" cy="626.85" r="1.25" fill="#6a2c91"/>
<circle cx="349.72" cy="626.01" r="1.25" fill="#6a2c91"/>
<circle cx="359.22" cy="623.69" r="1.25" fill="#6a2c91"/>
<circle cx="368.72" cy="618.48" r="1.25" fill="#6a2c91"/>
<circle cx="302.22" cy="627.25" r="1.25" fill="#154f8f"/>
<circle cx="311.72" cy="627.24" r="1.25" fill="#154f8f"/>
<circle cx="321.22" cy="627.14" r="1.25" fill="#154f8f"/>
<circle cx="330.72" cy="625.32" r="1.25" fill="#154f8f"/>
<circle cx="340.22" cy="612.69" r="1.25" fill="#154f8f"/>
<circle cx="349.72" cy="605.57" r="1.25" fill="#154f8f"/>
<circle cx="359.22" cy="605.02" r="1.25" fill="#154f8f"/>
<circle cx="368.72" cy="604.99" r="1.25" fill="#154f8f"/>
<circle cx="302.22" cy="627.25" r="1.25" fill="#22b04b"/>
<circle cx="311.72" cy="627.24" r="1.25" fill="#22b04b"/>
<circle cx="321.22" cy="627.17" r="1.25" fill="#22b04b"/>
<circle cx="330.72" cy="625.87" r="1.25" fill="#22b04b"/>
<circle cx="340.22" cy="615.48" r="1.25" fill="#22b04b"/>
<circle cx="349.72" cy="608.35" r="1.25" fill="#22b04b"/>
<circle cx="359.22" cy="607.76" r="1.25" fill="#22b04b"/>
<circle cx="368.72" cy="607.72" r="1.25" fill="#22b04b"/>
<circle cx="302.22" cy="627.35" r="1.25" fill="#d0103a"/>
<circle cx="311.72" cy="627.34" r="1.25" fill="#d0103a"/>
<circle cx="321.22" cy="626.98" r="1.25" fill="#d0103a"/>
<circle cx="330.72" cy="619.17" r="1.25" fill="#d0103a"/>
<circle cx="340.22" cy="594.52" r="1.25" fill="#d0103a"/>
<circle cx="349.72" cy="590.59" r="1.25" fill="#d0103a"/>
<circle cx="359.22" cy="590.43" r="1.25" fill="#d0103a"/>
<circle cx="368.72" cy="590.42" r="1.25" fill="#d0103a"/>
<text x="389.62" y="643.40" font-size="8.3" fill="#262626" textLength="7.7" lengthAdjust="spacingAndGlyphs">10</text>
<text x="397.52" y="640.83" font-size="6.44" fill="#262626" textLength="6.38" lengthAdjust="spacingAndGlyphs">−3</text>
<text x="389.62" y="623.27" font-size="8.3" fill="#262626" textLength="7.7" lengthAdjust="spacingAndGlyphs">10</text>
<text x="397.52" y="620.69" font-size="6.44" fill="#262626" textLength="6.38" lengthAdjust="spacingAndGlyphs">−2</text>
<text x="389.62" y="603.13" font-size="8.3" fill="#262626" textLength="7.7" lengthAdjust="spacingAndGlyphs">10</text>
<text x="397.52" y="600.56" font-size="6.44" fill="#262626" textLength="6.38" lengthAdjust="spacingAndGlyphs">−1</text>
<text x="392.89" y="583.00" font-size="8.3" fill="#262626" textLength="7.7" lengthAdjust="spacingAndGlyphs">10</text>
<text x="400.79" y="580.43" font-size="6.44" fill="#262626" textLength="3.11" lengthAdjust="spacingAndGlyphs">0</text>
<text transform="translate(384.50,610.20) rotate(-90)" font-size="10.2" text-anchor="middle" fill="#262626" textLength="43.5" lengthAdjust="spacingAndGlyphs">EC50<tspan font-size="7" dy="2.0">Rel</tspan><tspan dy="-2.0"> (nM)</tspan></text>
<text transform="translate(420.20,651.30) rotate(-45)" font-size="8" text-anchor="end" fill="#262626">SAR442085</text>
<text transform="translate(431.80,651.30) rotate(-45)" font-size="8" text-anchor="end" fill="#262626">Daratumumab</text>
<text transform="translate(442.80,651.30) rotate(-45)" font-size="8" text-anchor="end" fill="#262626">Isatuximab</text>
<circle cx="413.50" cy="613.20" r="1.25" fill="#c8001e"/>
<circle cx="418.50" cy="613.20" r="1.25" fill="#c8001e"/>
<circle cx="413.50" cy="617.80" r="1.25" fill="#c8001e"/>
<circle cx="418.50" cy="616.00" r="1.25" fill="#c8001e"/>
<circle cx="427.10" cy="599.00" r="1.25" fill="#00306e"/>
<circle cx="427.10" cy="604.60" r="1.25" fill="#00306e"/>
<circle cx="427.10" cy="607.20" r="1.25" fill="#00306e"/>
<circle cx="435.50" cy="607.20" r="1.25" fill="#1aaa3a"/>
<circle cx="440.70" cy="606.90" r="1.25" fill="#1aaa3a"/>
<circle cx="438.10" cy="600.50" r="1.25" fill="#1aaa3a"/>
<text x="471.20" y="643.60" font-size="8.5" text-anchor="end" textLength="3.93" lengthAdjust="spacingAndGlyphs" fill="#262626">0</text>
<text x="471.20" y="631.52" font-size="8.5" text-anchor="end" textLength="7.86" lengthAdjust="spacingAndGlyphs" fill="#262626">20</text>
<text x="471.20" y="619.44" font-size="8.5" text-anchor="end" textLength="7.86" lengthAdjust="spacingAndGlyphs" fill="#262626">40</text>
<text x="471.20" y="607.36" font-size="8.5" text-anchor="end" textLength="7.86" lengthAdjust="spacingAndGlyphs" fill="#262626">60</text>
<text x="471.20" y="595.28" font-size="8.5" text-anchor="end" textLength="7.86" lengthAdjust="spacingAndGlyphs" fill="#262626">80</text>
<text x="471.20" y="583.20" font-size="8.5" text-anchor="end" textLength="11.79" lengthAdjust="spacingAndGlyphs" fill="#262626">100</text>
<text transform="translate(455.40,610.20) rotate(-90)" font-size="9.6" text-anchor="middle" fill="#262626" textLength="70" lengthAdjust="spacingAndGlyphs">Maximum killing (%)</text>
<text transform="translate(489.70,651.30) rotate(-45)" font-size="8" text-anchor="end" fill="#262626">SAR442085</text>
<text transform="translate(501.00,651.30) rotate(-45)" font-size="8" text-anchor="end" fill="#262626">Daratumumab</text>
<text transform="translate(512.30,651.30) rotate(-45)" font-size="8" text-anchor="end" fill="#262626">Isatuximab</text>
<circle cx="485.00" cy="589.50" r="1.25" fill="#c8001e"/>
<circle cx="485.00" cy="593.30" r="1.25" fill="#c8001e"/>
<circle cx="485.00" cy="598.10" r="1.25" fill="#c8001e"/>
<circle cx="485.00" cy="610.70" r="1.25" fill="#c8001e"/>
<circle cx="496.30" cy="599.60" r="1.25" fill="#00306e"/>
<circle cx="496.30" cy="603.10" r="1.25" fill="#00306e"/>
<circle cx="496.30" cy="606.10" r="1.25" fill="#00306e"/>
<circle cx="496.30" cy="617.90" r="1.25" fill="#00306e"/>
<circle cx="507.60" cy="602.10" r="1.25" fill="#1aaa3a"/>
<circle cx="507.60" cy="605.70" r="1.25" fill="#1aaa3a"/>
<circle cx="507.60" cy="608.10" r="1.25" fill="#1aaa3a"/>
<circle cx="507.60" cy="618.20" r="1.25" fill="#1aaa3a"/>
<path d="M35.10 53.10L35.10 114.85M32.10 114.30L111.65 114.30M151.70 114.50L189.20 114.50M222.50 53.05L222.50 114.55M222.50 114L259.70 114M293.90 53.05L293.90 114.85M290.90 114.30L370.45 114.30M407.30 114.10L444.40 114.10M477.40 53.25L477.40 114.65M477.40 114.10L515.20 114.10M35.10 183.45L35.10 245.15M32.10 244.60L111.65 244.60M150.40 245.30L187.60 245.30M222.50 183.85L222.50 244.75M222.50 244.20L259.90 244.20M294.20 183.25L294.20 244.95M291.20 244.40L370.75 244.40M408.70 244.50L445.80 244.50M477.30 183.85L477.30 244.95M477.30 244.40L515.70 244.40M34.15 314.55L34.15 376.15M31.15 375.60L110.70 375.60M149.10 375.70L187.70 375.70M222 314.65L222 376.25M222 375.70L260.30 375.70M294.15 314.45L294.15 376.15M291.15 375.60L370.70 375.60M408.10 375.70L446 375.70M477.50 314.65L477.50 376.25M477.50 375.70L515 375.70M34.15 444.45L34.15 506.05M34.15 505.50L110.70 505.50M148.60 505.70L186.50 505.70M222 444.65L222 506.25M222 505.70L260.60 505.70M294.15 444.45L294.15 506.05M294.15 505.50L370.70 505.50M408.40 505.70L446 505.70M477.50 444.65L477.50 506.25M477.50 505.70L515 505.70M34.15 579.35L34.15 640.95M31.15 640.40L110.70 640.40M148.90 640.40L186.40 640.40M222 579.15L222 640.65M222 640.10L259.70 640.10M294.15 579.15L294.15 640.95M291.15 640.40L370.70 640.40M408.50 640.40L446.40 640.40M477.40 579.45L477.40 640.95M477.40 640.40L515.20 640.40" stroke="#151515" stroke-width="1.2" fill="none"/>
<path d="M32.10 114.30L35.10 114.30M32.10 102.17L35.10 102.17M32.10 90.04L35.10 90.04M32.10 77.91L35.10 77.91M32.10 65.78L35.10 65.78M32.10 53.65L35.10 53.65M35.10 114.30L35.10 116.70M44.60 114.30L44.60 116.70M54.10 114.30L54.10 116.70M63.60 114.30L63.60 116.70M73.10 114.30L73.10 116.70M82.60 114.30L82.60 116.70M92.10 114.30L92.10 116.70M101.60 114.30L101.60 116.70M111.10 114.30L111.10 116.70M148.70 114.50L151.70 114.50M148.70 102.50L151.70 102.50M148.70 90.50L151.70 90.50M148.70 78.50L151.70 78.50M148.70 66.50L151.70 66.50M148.70 54.50L151.70 54.50M159.20 114.50L159.20 117.30M170.30 114.50L170.30 117.30M181.60 114.50L181.60 117.30M219.50 114L222.50 114M219.50 101.92L222.50 101.92M219.50 89.84L222.50 89.84M219.50 77.76L222.50 77.76M219.50 65.68L222.50 65.68M219.50 53.60L222.50 53.60M230 114L230 116.80M241.30 114L241.30 116.80M252.20 114L252.20 116.80M290.90 114.30L293.90 114.30M290.90 102.16L293.90 102.16M290.90 90.02L293.90 90.02M290.90 77.88L293.90 77.88M290.90 65.74L293.90 65.74M290.90 53.60L293.90 53.60M293.90 114.30L293.90 116.70M303.40 114.30L303.40 116.70M312.90 114.30L312.90 116.70M322.40 114.30L322.40 116.70M331.90 114.30L331.90 116.70M341.40 114.30L341.40 116.70M350.90 114.30L350.90 116.70M360.40 114.30L360.40 116.70M369.90 114.30L369.90 116.70M404.30 114.10L407.30 114.10M404.30 102.14L407.30 102.14M404.30 90.18L407.30 90.18M404.30 78.22L407.30 78.22M404.30 66.26L407.30 66.26M404.30 54.30L407.30 54.30M414.60 114.10L414.60 116.90M425.70 114.10L425.70 116.90M436.80 114.10L436.80 116.90M474.40 114.10L477.40 114.10M474.40 102.04L477.40 102.04M474.40 89.98L477.40 89.98M474.40 77.92L477.40 77.92M474.40 65.86L477.40 65.86M474.40 53.80L477.40 53.80M485.10 114.10L485.10 116.90M496.20 114.10L496.20 116.90M507.50 114.10L507.50 116.90M32.10 244.60L35.10 244.60M32.10 232.48L35.10 232.48M32.10 220.36L35.10 220.36M32.10 208.24L35.10 208.24M32.10 196.12L35.10 196.12M32.10 184L35.10 184M35.10 244.60L35.10 247M44.60 244.60L44.60 247M54.10 244.60L54.10 247M63.60 244.60L63.60 247M73.10 244.60L73.10 247M82.60 244.60L82.60 247M92.10 244.60L92.10 247M101.60 244.60L101.60 247M111.10 244.60L111.10 247M147.40 245.30L150.40 245.30M147.40 233.32L150.40 233.32M147.40 221.34L150.40 221.34M147.40 209.36L150.40 209.36M147.40 197.38L150.40 197.38M147.40 185.40L150.40 185.40M157.40 245.30L157.40 248.10M168.50 245.30L168.50 248.10M179.80 245.30L179.80 248.10M219.50 244.20L222.50 244.20M219.50 232.24L222.50 232.24M219.50 220.28L222.50 220.28M219.50 208.32L222.50 208.32M219.50 196.36L222.50 196.36M219.50 184.40L222.50 184.40M229.90 244.20L229.90 247M241.20 244.20L241.20 247M252.30 244.20L252.30 247M291.20 244.40L294.20 244.40M291.20 229.25L294.20 229.25M291.20 214.10L294.20 214.10M291.20 198.95L294.20 198.95M291.20 183.80L294.20 183.80M294.20 244.40L294.20 246.80M303.70 244.40L303.70 246.80M313.20 244.40L313.20 246.80M322.70 244.40L322.70 246.80M332.20 244.40L332.20 246.80M341.70 244.40L341.70 246.80M351.20 244.40L351.20 246.80M360.70 244.40L360.70 246.80M370.20 244.40L370.20 246.80M405.70 244.50L408.70 244.50M405.70 232.46L408.70 232.46M405.70 220.42L408.70 220.42M405.70 208.38L408.70 208.38M405.70 196.34L408.70 196.34M405.70 184.30L408.70 184.30M415.70 244.50L415.70 247.30M427.10 244.50L427.10 247.30M438.20 244.50L438.20 247.30M474.30 244.40L477.30 244.40M474.30 232.40L477.30 232.40M474.30 220.40L477.30 220.40M474.30 208.40L477.30 208.40M474.30 196.40L477.30 196.40M474.30 184.40L477.30 184.40M485 244.40L485 247.20M496.10 244.40L496.10 247.20M507.30 244.40L507.30 247.20M31.15 375.60L34.15 375.60M31.15 360.48L34.15 360.48M31.15 345.35L34.15 345.35M31.15 330.23L34.15 330.23M31.15 315.10L34.15 315.10M34.15 375.60L34.15 378M43.65 375.60L43.65 378M53.15 375.60L53.15 378M62.65 375.60L62.65 378M72.15 375.60L72.15 378M81.65 375.60L81.65 378M91.15 375.60L91.15 378M100.65 375.60L100.65 378M110.15 375.60L110.15 378M146.10 375.70L149.10 375.70M146.10 363.68L149.10 363.68M146.10 351.66L149.10 351.66M146.10 339.64L149.10 339.64M146.10 327.62L149.10 327.62M146.10 315.60L149.10 315.60M156.30 375.70L156.30 378.50M167.50 375.70L167.50 378.50M178.80 375.70L178.80 378.50M219 375.70L222 375.70M219 363.60L222 363.60M219 351.50L222 351.50M219 339.40L222 339.40M219 327.30L222 327.30M219 315.20L222 315.20M230 375.70L230 378.50M241.10 375.70L241.10 378.50M252.20 375.70L252.20 378.50M291.15 375.60L294.15 375.60M291.15 360.45L294.15 360.45M291.15 345.30L294.15 345.30M291.15 330.15L294.15 330.15M291.15 315L294.15 315M294.15 375.60L294.15 378M303.65 375.60L303.65 378M313.15 375.60L313.15 378M322.65 375.60L322.65 378M332.15 375.60L332.15 378M341.65 375.60L341.65 378M351.15 375.60L351.15 378M360.65 375.60L360.65 378M370.15 375.60L370.15 378M405.10 375.70L408.10 375.70M405.10 363.60L408.10 363.60M405.10 351.50L408.10 351.50M405.10 339.40L408.10 339.40M405.10 327.30L408.10 327.30M405.10 315.20L408.10 315.20M415.70 375.70L415.70 378.50M426.80 375.70L426.80 378.50M438.30 375.70L438.30 378.50M474.50 375.70L477.50 375.70M474.50 363.60L477.50 363.60M474.50 351.50L477.50 351.50M474.50 339.40L477.50 339.40M474.50 327.30L477.50 327.30M474.50 315.20L477.50 315.20M485.20 375.70L485.20 378.50M496.20 375.70L496.20 378.50M507.30 375.70L507.30 378.50M31.15 497L34.15 497M31.15 479.60L34.15 479.60M31.15 462.30L34.15 462.30M31.15 445L34.15 445M34.15 505.50L34.15 508.10M34.15 505.50L34.15 507.90M43.65 505.50L43.65 507.90M53.15 505.50L53.15 507.90M62.65 505.50L62.65 507.90M72.15 505.50L72.15 507.90M81.65 505.50L81.65 507.90M91.15 505.50L91.15 507.90M100.65 505.50L100.65 507.90M110.15 505.50L110.15 507.90M145.60 505.70L148.60 505.70M145.60 490.57L148.60 490.57M145.60 475.45L148.60 475.45M145.60 460.32L148.60 460.32M145.60 445.20L148.60 445.20M156.30 505.70L156.30 508.50M167.50 505.70L167.50 508.50M178.80 505.70L178.80 508.50M219 505.70L222 505.70M219 490.57L222 490.57M219 475.45L222 475.45M219 460.32L222 460.32M219 445.20L222 445.20M230 505.70L230 508.50M241.10 505.70L241.10 508.50M252.60 505.70L252.60 508.50M291.15 497L294.15 497M291.15 479.60L294.15 479.60M291.15 462.30L294.15 462.30M291.15 445L294.15 445M294.15 505.50L294.15 508.10M294.15 505.50L294.15 507.90M303.65 505.50L303.65 507.90M313.15 505.50L313.15 507.90M322.65 505.50L322.65 507.90M332.15 505.50L332.15 507.90M341.65 505.50L341.65 507.90M351.15 505.50L351.15 507.90M360.65 505.50L360.65 507.90M370.15 505.50L370.15 507.90M405.40 505.70L408.40 505.70M405.40 490.65L408.40 490.65M405.40 475.60L408.40 475.60M405.40 460.55L408.40 460.55M405.40 445.50L408.40 445.50M415.70 505.70L415.70 508.50M426.80 505.70L426.80 508.50M438.30 505.70L438.30 508.50M474.50 505.70L477.50 505.70M474.50 493.60L477.50 493.60M474.50 481.50L477.50 481.50M474.50 469.40L477.50 469.40M474.50 457.30L477.50 457.30M474.50 445.20L477.50 445.20M485.20 505.70L485.20 508.50M496.20 505.70L496.20 508.50M507.30 505.70L507.30 508.50M31.15 640.40L34.15 640.40M31.15 620.20L34.15 620.20M31.15 600.10L34.15 600.10M31.15 579.90L34.15 579.90M34.15 640.40L34.15 642.80M43.65 640.40L43.65 642.80M53.15 640.40L53.15 642.80M62.65 640.40L62.65 642.80M72.15 640.40L72.15 642.80M81.65 640.40L81.65 642.80M91.15 640.40L91.15 642.80M100.65 640.40L100.65 642.80M110.15 640.40L110.15 642.80M145.90 640.40L148.90 640.40M145.90 625.42L148.90 625.42M145.90 610.45L148.90 610.45M145.90 595.48L148.90 595.48M145.90 580.50L148.90 580.50M156.50 640.40L156.50 643.20M167.50 640.40L167.50 643.20M178.60 640.40L178.60 643.20M219 640.10L222 640.10M219 628.02L222 628.02M219 615.94L222 615.94M219 603.86L222 603.86M219 591.78L222 591.78M219 579.70L222 579.70M229.50 640.10L229.50 642.90M241 640.10L241 642.90M252.20 640.10L252.20 642.90M291.15 640.40L294.15 640.40M291.15 620.20L294.15 620.20M291.15 599.90L294.15 599.90M291.15 579.70L294.15 579.70M294.15 640.40L294.15 642.80M303.65 640.40L303.65 642.80M313.15 640.40L313.15 642.80M322.65 640.40L322.65 642.80M332.15 640.40L332.15 642.80M341.65 640.40L341.65 642.80M351.15 640.40L351.15 642.80M360.65 640.40L360.65 642.80M370.15 640.40L370.15 642.80M405.50 640.40L408.50 640.40M405.50 620.27L408.50 620.27M405.50 600.13L408.50 600.13M405.50 580L408.50 580M415.50 640.40L415.50 643.20M427.10 640.40L427.10 643.20M438.10 640.40L438.10 643.20M474.40 640.40L477.40 640.40M474.40 628.32L477.40 628.32M474.40 616.24L477.40 616.24M474.40 604.16L477.40 604.16M474.40 592.08L477.40 592.08M474.40 580L477.40 580M485 640.40L485 643.20M496.30 640.40L496.30 643.20M507.60 640.40L507.60 643.20" stroke="#1e1e1e" stroke-width="0.9" fill="none"/>
<path d="M37.96 114.30L37.96 115.60M39.63 114.30L39.63 115.60M40.82 114.30L40.82 115.60M41.74 114.30L41.74 115.60M42.49 114.30L42.49 115.60M43.13 114.30L43.13 115.60M43.68 114.30L43.68 115.60M44.17 114.30L44.17 115.60M47.46 114.30L47.46 115.60M49.13 114.30L49.13 115.60M50.32 114.30L50.32 115.60M51.24 114.30L51.24 115.60M51.99 114.30L51.99 115.60M52.63 114.30L52.63 115.60M53.18 114.30L53.18 115.60M53.67 114.30L53.67 115.60M56.96 114.30L56.96 115.60M58.63 114.30L58.63 115.60M59.82 114.30L59.82 115.60M60.74 114.30L60.74 115.60M61.49 114.30L61.49 115.60M62.13 114.30L62.13 115.60M62.68 114.30L62.68 115.60M63.17 114.30L63.17 115.60M66.46 114.30L66.46 115.60M68.13 114.30L68.13 115.60M69.32 114.30L69.32 115.60M70.24 114.30L70.24 115.60M70.99 114.30L70.99 115.60M71.63 114.30L71.63 115.60M72.18 114.30L72.18 115.60M72.67 114.30L72.67 115.60M75.96 114.30L75.96 115.60M77.63 114.30L77.63 115.60M78.82 114.30L78.82 115.60M79.74 114.30L79.74 115.60M80.49 114.30L80.49 115.60M81.13 114.30L81.13 115.60M81.68 114.30L81.68 115.60M82.17 114.30L82.17 115.60M85.46 114.30L85.46 115.60M87.13 114.30L87.13 115.60M88.32 114.30L88.32 115.60M89.24 114.30L89.24 115.60M89.99 114.30L89.99 115.60M90.63 114.30L90.63 115.60M91.18 114.30L91.18 115.60M91.67 114.30L91.67 115.60M94.96 114.30L94.96 115.60M96.63 114.30L96.63 115.60M97.82 114.30L97.82 115.60M98.74 114.30L98.74 115.60M99.49 114.30L99.49 115.60M100.13 114.30L100.13 115.60M100.68 114.30L100.68 115.60M101.17 114.30L101.17 115.60M104.46 114.30L104.46 115.60M106.13 114.30L106.13 115.60M107.32 114.30L107.32 115.60M108.24 114.30L108.24 115.60M108.99 114.30L108.99 115.60M109.63 114.30L109.63 115.60M110.18 114.30L110.18 115.60M110.67 114.30L110.67 115.60M296.76 114.30L296.76 115.60M298.43 114.30L298.43 115.60M299.62 114.30L299.62 115.60M300.54 114.30L300.54 115.60M301.29 114.30L301.29 115.60M301.93 114.30L301.93 115.60M302.48 114.30L302.48 115.60M302.97 114.30L302.97 115.60M306.26 114.30L306.26 115.60M307.93 114.30L307.93 115.60M309.12 114.30L309.12 115.60M310.04 114.30L310.04 115.60M310.79 114.30L310.79 115.60M311.43 114.30L311.43 115.60M311.98 114.30L311.98 115.60M312.47 114.30L312.47 115.60M315.76 114.30L315.76 115.60M317.43 114.30L317.43 115.60M318.62 114.30L318.62 115.60M319.54 114.30L319.54 115.60M320.29 114.30L320.29 115.60M320.93 114.30L320.93 115.60M321.48 114.30L321.48 115.60M321.97 114.30L321.97 115.60M325.26 114.30L325.26 115.60M326.93 114.30L326.93 115.60M328.12 114.30L328.12 115.60M329.04 114.30L329.04 115.60M329.79 114.30L329.79 115.60M330.43 114.30L330.43 115.60M330.98 114.30L330.98 115.60M331.47 114.30L331.47 115.60M334.76 114.30L334.76 115.60M336.43 114.30L336.43 115.60M337.62 114.30L337.62 115.60M338.54 114.30L338.54 115.60M339.29 114.30L339.29 115.60M339.93 114.30L339.93 115.60M340.48 114.30L340.48 115.60M340.97 114.30L340.97 115.60M344.26 114.30L344.26 115.60M345.93 114.30L345.93 115.60M347.12 114.30L347.12 115.60M348.04 114.30L348.04 115.60M348.79 114.30L348.79 115.60M349.43 114.30L349.43 115.60M349.98 114.30L349.98 115.60M350.47 114.30L350.47 115.60M353.76 114.30L353.76 115.60M355.43 114.30L355.43 115.60M356.62 114.30L356.62 115.60M357.54 114.30L357.54 115.60M358.29 114.30L358.29 115.60M358.93 114.30L358.93 115.60M359.48 114.30L359.48 115.60M359.97 114.30L359.97 115.60M363.26 114.30L363.26 115.60M364.93 114.30L364.93 115.60M366.12 114.30L366.12 115.60M367.04 114.30L367.04 115.60M367.79 114.30L367.79 115.60M368.43 114.30L368.43 115.60M368.98 114.30L368.98 115.60M369.47 114.30L369.47 115.60M37.96 244.60L37.96 245.90M39.63 244.60L39.63 245.90M40.82 244.60L40.82 245.90M41.74 244.60L41.74 245.90M42.49 244.60L42.49 245.90M43.13 244.60L43.13 245.90M43.68 244.60L43.68 245.90M44.17 244.60L44.17 245.90M47.46 244.60L47.46 245.90M49.13 244.60L49.13 245.90M50.32 244.60L50.32 245.90M51.24 244.60L51.24 245.90M51.99 244.60L51.99 245.90M52.63 244.60L52.63 245.90M53.18 244.60L53.18 245.90M53.67 244.60L53.67 245.90M56.96 244.60L56.96 245.90M58.63 244.60L58.63 245.90M59.82 244.60L59.82 245.90M60.74 244.60L60.74 245.90M61.49 244.60L61.49 245.90M62.13 244.60L62.13 245.90M62.68 244.60L62.68 245.90M63.17 244.60L63.17 245.90M66.46 244.60L66.46 245.90M68.13 244.60L68.13 245.90M69.32 244.60L69.32 245.90M70.24 244.60L70.24 245.90M70.99 244.60L70.99 245.90M71.63 244.60L71.63 245.90M72.18 244.60L72.18 245.90M72.67 244.60L72.67 245.90M75.96 244.60L75.96 245.90M77.63 244.60L77.63 245.90M78.82 244.60L78.82 245.90M79.74 244.60L79.74 245.90M80.49 244.60L80.49 245.90M81.13 244.60L81.13 245.90M81.68 244.60L81.68 245.90M82.17 244.60L82.17 245.90M85.46 244.60L85.46 245.90M87.13 244.60L87.13 245.90M88.32 244.60L88.32 245.90M89.24 244.60L89.24 245.90M89.99 244.60L89.99 245.90M90.63 244.60L90.63 245.90M91.18 244.60L91.18 245.90M91.67 244.60L91.67 245.90M94.96 244.60L94.96 245.90M96.63 244.60L96.63 245.90M97.82 244.60L97.82 245.90M98.74 244.60L98.74 245.90M99.49 244.60L99.49 245.90M100.13 244.60L100.13 245.90M100.68 244.60L100.68 245.90M101.17 244.60L101.17 245.90M104.46 244.60L104.46 245.90M106.13 244.60L106.13 245.90M107.32 244.60L107.32 245.90M108.24 244.60L108.24 245.90M108.99 244.60L108.99 245.90M109.63 244.60L109.63 245.90M110.18 244.60L110.18 245.90M110.67 244.60L110.67 245.90M297.06 244.40L297.06 245.70M298.73 244.40L298.73 245.70M299.92 244.40L299.92 245.70M300.84 244.40L300.84 245.70M301.59 244.40L301.59 245.70M302.23 244.40L302.23 245.70M302.78 244.40L302.78 245.70M303.27 244.40L303.27 245.70M306.56 244.40L306.56 245.70M308.23 244.40L308.23 245.70M309.42 244.40L309.42 245.70M310.34 244.40L310.34 245.70M311.09 244.40L311.09 245.70M311.73 244.40L311.73 245.70M312.28 244.40L312.28 245.70M312.77 244.40L312.77 245.70M316.06 244.40L316.06 245.70M317.73 244.40L317.73 245.70M318.92 244.40L318.92 245.70M319.84 244.40L319.84 245.70M320.59 244.40L320.59 245.70M321.23 244.40L321.23 245.70M321.78 244.40L321.78 245.70M322.27 244.40L322.27 245.70M325.56 244.40L325.56 245.70M327.23 244.40L327.23 245.70M328.42 244.40L328.42 245.70M329.34 244.40L329.34 245.70M330.09 244.40L330.09 245.70M330.73 244.40L330.73 245.70M331.28 244.40L331.28 245.70M331.77 244.40L331.77 245.70M335.06 244.40L335.06 245.70M336.73 244.40L336.73 245.70M337.92 244.40L337.92 245.70M338.84 244.40L338.84 245.70M339.59 244.40L339.59 245.70M340.23 244.40L340.23 245.70M340.78 244.40L340.78 245.70M341.27 244.40L341.27 245.70M344.56 244.40L344.56 245.70M346.23 244.40L346.23 245.70M347.42 244.40L347.42 245.70M348.34 244.40L348.34 245.70M349.09 244.40L349.09 245.70M349.73 244.40L349.73 245.70M350.28 244.40L350.28 245.70M350.77 244.40L350.77 245.70M354.06 244.40L354.06 245.70M355.73 244.40L355.73 245.70M356.92 244.40L356.92 245.70M357.84 244.40L357.84 245.70M358.59 244.40L358.59 245.70M359.23 244.40L359.23 245.70M359.78 244.40L359.78 245.70M360.27 244.40L360.27 245.70M363.56 244.40L363.56 245.70M365.23 244.40L365.23 245.70M366.42 244.40L366.42 245.70M367.34 244.40L367.34 245.70M368.09 244.40L368.09 245.70M368.73 244.40L368.73 245.70M369.28 244.40L369.28 245.70M369.77 244.40L369.77 245.70M37.01 375.60L37.01 376.90M38.68 375.60L38.68 376.90M39.87 375.60L39.87 376.90M40.79 375.60L40.79 376.90M41.54 375.60L41.54 376.90M42.18 375.60L42.18 376.90M42.73 375.60L42.73 376.90M43.22 375.60L43.22 376.90M46.51 375.60L46.51 376.90M48.18 375.60L48.18 376.90M49.37 375.60L49.37 376.90M50.29 375.60L50.29 376.90M51.04 375.60L51.04 376.90M51.68 375.60L51.68 376.90M52.23 375.60L52.23 376.90M52.72 375.60L52.72 376.90M56.01 375.60L56.01 376.90M57.68 375.60L57.68 376.90M58.87 375.60L58.87 376.90M59.79 375.60L59.79 376.90M60.54 375.60L60.54 376.90M61.18 375.60L61.18 376.90M61.73 375.60L61.73 376.90M62.22 375.60L62.22 376.90M65.51 375.60L65.51 376.90M67.18 375.60L67.18 376.90M68.37 375.60L68.37 376.90M69.29 375.60L69.29 376.90M70.04 375.60L70.04 376.90M70.68 375.60L70.68 376.90M71.23 375.60L71.23 376.90M71.72 375.60L71.72 376.90M75.01 375.60L75.01 376.90M76.68 375.60L76.68 376.90M77.87 375.60L77.87 376.90M78.79 375.60L78.79 376.90M79.54 375.60L79.54 376.90M80.18 375.60L80.18 376.90M80.73 375.60L80.73 376.90M81.22 375.60L81.22 376.90M84.51 375.60L84.51 376.90M86.18 375.60L86.18 376.90M87.37 375.60L87.37 376.90M88.29 375.60L88.29 376.90M89.04 375.60L89.04 376.90M89.68 375.60L89.68 376.90M90.23 375.60L90.23 376.90M90.72 375.60L90.72 376.90M94.01 375.60L94.01 376.90M95.68 375.60L95.68 376.90M96.87 375.60L96.87 376.90M97.79 375.60L97.79 376.90M98.54 375.60L98.54 376.90M99.18 375.60L99.18 376.90M99.73 375.60L99.73 376.90M100.22 375.60L100.22 376.90M103.51 375.60L103.51 376.90M105.18 375.60L105.18 376.90M106.37 375.60L106.37 376.90M107.29 375.60L107.29 376.90M108.04 375.60L108.04 376.90M108.68 375.60L108.68 376.90M109.23 375.60L109.23 376.90M109.72 375.60L109.72 376.90M297.01 375.60L297.01 376.90M298.68 375.60L298.68 376.90M299.87 375.60L299.87 376.90M300.79 375.60L300.79 376.90M301.54 375.60L301.54 376.90M302.18 375.60L302.18 376.90M302.73 375.60L302.73 376.90M303.22 375.60L303.22 376.90M306.51 375.60L306.51 376.90M308.18 375.60L308.18 376.90M309.37 375.60L309.37 376.90M310.29 375.60L310.29 376.90M311.04 375.60L311.04 376.90M311.68 375.60L311.68 376.90M312.23 375.60L312.23 376.90M312.72 375.60L312.72 376.90M316.01 375.60L316.01 376.90M317.68 375.60L317.68 376.90M318.87 375.60L318.87 376.90M319.79 375.60L319.79 376.90M320.54 375.60L320.54 376.90M321.18 375.60L321.18 376.90M321.73 375.60L321.73 376.90M322.22 375.60L322.22 376.90M325.51 375.60L325.51 376.90M327.18 375.60L327.18 376.90M328.37 375.60L328.37 376.90M329.29 375.60L329.29 376.90M330.04 375.60L330.04 376.90M330.68 375.60L330.68 376.90M331.23 375.60L331.23 376.90M331.72 375.60L331.72 376.90M335.01 375.60L335.01 376.90M336.68 375.60L336.68 376.90M337.87 375.60L337.87 376.90M338.79 375.60L338.79 376.90M339.54 375.60L339.54 376.90M340.18 375.60L340.18 376.90M340.73 375.60L340.73 376.90M341.22 375.60L341.22 376.90M344.51 375.60L344.51 376.90M346.18 375.60L346.18 376.90M347.37 375.60L347.37 376.90M348.29 375.60L348.29 376.90M349.04 375.60L349.04 376.90M349.68 375.60L349.68 376.90M350.23 375.60L350.23 376.90M350.72 375.60L350.72 376.90M354.01 375.60L354.01 376.90M355.68 375.60L355.68 376.90M356.87 375.60L356.87 376.90M357.79 375.60L357.79 376.90M358.54 375.60L358.54 376.90M359.18 375.60L359.18 376.90M359.73 375.60L359.73 376.90M360.22 375.60L360.22 376.90M363.51 375.60L363.51 376.90M365.18 375.60L365.18 376.90M366.37 375.60L366.37 376.90M367.29 375.60L367.29 376.90M368.04 375.60L368.04 376.90M368.68 375.60L368.68 376.90M369.23 375.60L369.23 376.90M369.72 375.60L369.72 376.90M37.01 505.50L37.01 506.80M38.68 505.50L38.68 506.80M39.87 505.50L39.87 506.80M40.79 505.50L40.79 506.80M41.54 505.50L41.54 506.80M42.18 505.50L42.18 506.80M42.73 505.50L42.73 506.80M43.22 505.50L43.22 506.80M46.51 505.50L46.51 506.80M48.18 505.50L48.18 506.80M49.37 505.50L49.37 506.80M50.29 505.50L50.29 506.80M51.04 505.50L51.04 506.80M51.68 505.50L51.68 506.80M52.23 505.50L52.23 506.80M52.72 505.50L52.72 506.80M56.01 505.50L56.01 506.80M57.68 505.50L57.68 506.80M58.87 505.50L58.87 506.80M59.79 505.50L59.79 506.80M60.54 505.50L60.54 506.80M61.18 505.50L61.18 506.80M61.73 505.50L61.73 506.80M62.22 505.50L62.22 506.80M65.51 505.50L65.51 506.80M67.18 505.50L67.18 506.80M68.37 505.50L68.37 506.80M69.29 505.50L69.29 506.80M70.04 505.50L70.04 506.80M70.68 505.50L70.68 506.80M71.23 505.50L71.23 506.80M71.72 505.50L71.72 506.80M75.01 505.50L75.01 506.80M76.68 505.50L76.68 506.80M77.87 505.50L77.87 506.80M78.79 505.50L78.79 506.80M79.54 505.50L79.54 506.80M80.18 505.50L80.18 506.80M80.73 505.50L80.73 506.80M81.22 505.50L81.22 506.80M84.51 505.50L84.51 506.80M86.18 505.50L86.18 506.80M87.37 505.50L87.37 506.80M88.29 505.50L88.29 506.80M89.04 505.50L89.04 506.80M89.68 505.50L89.68 506.80M90.23 505.50L90.23 506.80M90.72 505.50L90.72 506.80M94.01 505.50L94.01 506.80M95.68 505.50L95.68 506.80M96.87 505.50L96.87 506.80M97.79 505.50L97.79 506.80M98.54 505.50L98.54 506.80M99.18 505.50L99.18 506.80M99.73 505.50L99.73 506.80M100.22 505.50L100.22 506.80M103.51 505.50L103.51 506.80M105.18 505.50L105.18 506.80M106.37 505.50L106.37 506.80M107.29 505.50L107.29 506.80M108.04 505.50L108.04 506.80M108.68 505.50L108.68 506.80M109.23 505.50L109.23 506.80M109.72 505.50L109.72 506.80M297.01 505.50L297.01 506.80M298.68 505.50L298.68 506.80M299.87 505.50L299.87 506.80M300.79 505.50L300.79 506.80M301.54 505.50L301.54 506.80M302.18 505.50L302.18 506.80M302.73 505.50L302.73 506.80M303.22 505.50L303.22 506.80M306.51 505.50L306.51 506.80M308.18 505.50L308.18 506.80M309.37 505.50L309.37 506.80M310.29 505.50L310.29 506.80M311.04 505.50L311.04 506.80M311.68 505.50L311.68 506.80M312.23 505.50L312.23 506.80M312.72 505.50L312.72 506.80M316.01 505.50L316.01 506.80M317.68 505.50L317.68 506.80M318.87 505.50L318.87 506.80M319.79 505.50L319.79 506.80M320.54 505.50L320.54 506.80M321.18 505.50L321.18 506.80M321.73 505.50L321.73 506.80M322.22 505.50L322.22 506.80M325.51 505.50L325.51 506.80M327.18 505.50L327.18 506.80M328.37 505.50L328.37 506.80M329.29 505.50L329.29 506.80M330.04 505.50L330.04 506.80M330.68 505.50L330.68 506.80M331.23 505.50L331.23 506.80M331.72 505.50L331.72 506.80M335.01 505.50L335.01 506.80M336.68 505.50L336.68 506.80M337.87 505.50L337.87 506.80M338.79 505.50L338.79 506.80M339.54 505.50L339.54 506.80M340.18 505.50L340.18 506.80M340.73 505.50L340.73 506.80M341.22 505.50L341.22 506.80M344.51 505.50L344.51 506.80M346.18 505.50L346.18 506.80M347.37 505.50L347.37 506.80M348.29 505.50L348.29 506.80M349.04 505.50L349.04 506.80M349.68 505.50L349.68 506.80M350.23 505.50L350.23 506.80M350.72 505.50L350.72 506.80M354.01 505.50L354.01 506.80M355.68 505.50L355.68 506.80M356.87 505.50L356.87 506.80M357.79 505.50L357.79 506.80M358.54 505.50L358.54 506.80M359.18 505.50L359.18 506.80M359.73 505.50L359.73 506.80M360.22 505.50L360.22 506.80M363.51 505.50L363.51 506.80M365.18 505.50L365.18 506.80M366.37 505.50L366.37 506.80M367.29 505.50L367.29 506.80M368.04 505.50L368.04 506.80M368.68 505.50L368.68 506.80M369.23 505.50L369.23 506.80M369.72 505.50L369.72 506.80M37.01 640.40L37.01 641.70M38.68 640.40L38.68 641.70M39.87 640.40L39.87 641.70M40.79 640.40L40.79 641.70M41.54 640.40L41.54 641.70M42.18 640.40L42.18 641.70M42.73 640.40L42.73 641.70M43.22 640.40L43.22 641.70M46.51 640.40L46.51 641.70M48.18 640.40L48.18 641.70M49.37 640.40L49.37 641.70M50.29 640.40L50.29 641.70M51.04 640.40L51.04 641.70M51.68 640.40L51.68 641.70M52.23 640.40L52.23 641.70M52.72 640.40L52.72 641.70M56.01 640.40L56.01 641.70M57.68 640.40L57.68 641.70M58.87 640.40L58.87 641.70M59.79 640.40L59.79 641.70M60.54 640.40L60.54 641.70M61.18 640.40L61.18 641.70M61.73 640.40L61.73 641.70M62.22 640.40L62.22 641.70M65.51 640.40L65.51 641.70M67.18 640.40L67.18 641.70M68.37 640.40L68.37 641.70M69.29 640.40L69.29 641.70M70.04 640.40L70.04 641.70M70.68 640.40L70.68 641.70M71.23 640.40L71.23 641.70M71.72 640.40L71.72 641.70M75.01 640.40L75.01 641.70M76.68 640.40L76.68 641.70M77.87 640.40L77.87 641.70M78.79 640.40L78.79 641.70M79.54 640.40L79.54 641.70M80.18 640.40L80.18 641.70M80.73 640.40L80.73 641.70M81.22 640.40L81.22 641.70M84.51 640.40L84.51 641.70M86.18 640.40L86.18 641.70M87.37 640.40L87.37 641.70M88.29 640.40L88.29 641.70M89.04 640.40L89.04 641.70M89.68 640.40L89.68 641.70M90.23 640.40L90.23 641.70M90.72 640.40L90.72 641.70M94.01 640.40L94.01 641.70M95.68 640.40L95.68 641.70M96.87 640.40L96.87 641.70M97.79 640.40L97.79 641.70M98.54 640.40L98.54 641.70M99.18 640.40L99.18 641.70M99.73 640.40L99.73 641.70M100.22 640.40L100.22 641.70M103.51 640.40L103.51 641.70M105.18 640.40L105.18 641.70M106.37 640.40L106.37 641.70M107.29 640.40L107.29 641.70M108.04 640.40L108.04 641.70M108.68 640.40L108.68 641.70M109.23 640.40L109.23 641.70M109.72 640.40L109.72 641.70M297.01 640.40L297.01 641.70M298.68 640.40L298.68 641.70M299.87 640.40L299.87 641.70M300.79 640.40L300.79 641.70M301.54 640.40L301.54 641.70M302.18 640.40L302.18 641.70M302.73 640.40L302.73 641.70M303.22 640.40L303.22 641.70M306.51 640.40L306.51 641.70M308.18 640.40L308.18 641.70M309.37 640.40L309.37 641.70M310.29 640.40L310.29 641.70M311.04 640.40L311.04 641.70M311.68 640.40L311.68 641.70M312.23 640.40L312.23 641.70M312.72 640.40L312.72 641.70M316.01 640.40L316.01 641.70M317.68 640.40L317.68 641.70M318.87 640.40L318.87 641.70M319.79 640.40L319.79 641.70M320.54 640.40L320.54 641.70M321.18 640.40L321.18 641.70M321.73 640.40L321.73 641.70M322.22 640.40L322.22 641.70M325.51 640.40L325.51 641.70M327.18 640.40L327.18 641.70M328.37 640.40L328.37 641.70M329.29 640.40L329.29 641.70M330.04 640.40L330.04 641.70M330.68 640.40L330.68 641.70M331.23 640.40L331.23 641.70M331.72 640.40L331.72 641.70M335.01 640.40L335.01 641.70M336.68 640.40L336.68 641.70M337.87 640.40L337.87 641.70M338.79 640.40L338.79 641.70M339.54 640.40L339.54 641.70M340.18 640.40L340.18 641.70M340.73 640.40L340.73 641.70M341.22 640.40L341.22 641.70M344.51 640.40L344.51 641.70M346.18 640.40L346.18 641.70M347.37 640.40L347.37 641.70M348.29 640.40L348.29 641.70M349.04 640.40L349.04 641.70M349.68 640.40L349.68 641.70M350.23 640.40L350.23 641.70M350.72 640.40L350.72 641.70M354.01 640.40L354.01 641.70M355.68 640.40L355.68 641.70M356.87 640.40L356.87 641.70M357.79 640.40L357.79 641.70M358.54 640.40L358.54 641.70M359.18 640.40L359.18 641.70M359.73 640.40L359.73 641.70M360.22 640.40L360.22 641.70M363.51 640.40L363.51 641.70M365.18 640.40L365.18 641.70M366.37 640.40L366.37 641.70M367.29 640.40L367.29 641.70M368.04 640.40L368.04 641.70M368.68 640.40L368.68 641.70M369.23 640.40L369.23 641.70M369.72 640.40L369.72 641.70" stroke="#1e1e1e" stroke-width="0.6" fill="none"/>
<path d="M81.17 111.84L81.17 113.84M79.72 111.84L82.62 111.84M79.72 113.84L82.62 113.84M90.67 109.87L90.67 112.87M89.22 109.87L92.12 109.87M89.22 112.87L92.12 112.87M100.18 98.39L100.18 108.39M98.73 98.39L101.63 98.39M98.73 108.39L101.63 108.39M109.68 78.83L109.68 90.83M108.23 78.83L111.13 78.83M108.23 90.83L111.13 90.83M339.97 111.58L339.97 113.58M338.52 111.58L341.42 111.58M338.52 113.58L341.42 113.58M349.47 106.67L349.47 114.67M348.02 106.67L350.92 106.67M348.02 114.67L350.92 114.67M358.97 97.16L358.97 109.16M357.52 97.16L360.42 97.16M357.52 109.16L360.42 109.16M368.47 78.89L368.47 94.89M367.02 78.89L369.92 78.89M367.02 94.89L369.92 94.89M81.17 237.85L81.17 240.85M79.72 237.85L82.62 237.85M79.72 240.85L82.62 240.85M90.67 229.86L90.67 237.86M89.22 229.86L92.12 229.86M89.22 237.86L92.12 237.86M100.18 215.19L100.18 227.19M98.73 215.19L101.63 215.19M98.73 227.19L101.63 227.19M109.68 203.85L109.68 209.85M108.23 203.85L111.13 203.85M108.23 209.85L111.13 209.85M359.27 230.77L359.27 234.77M357.82 230.77L360.72 230.77M357.82 234.77L360.72 234.77M368.77 210.51L368.77 212.51M367.32 210.51L370.22 210.51M367.32 212.51L370.22 212.51M70.72 369.30L70.72 371.30M69.27 369.30L72.17 369.30M69.27 371.30L72.17 371.30M80.22 369.27L80.22 371.27M78.77 369.27L81.67 369.27M78.77 371.27L81.67 371.27M89.72 368.56L89.72 371.56M88.27 368.56L91.17 368.56M88.27 371.56L91.17 371.56M99.22 368.28L99.22 371.28M97.77 368.28L100.67 368.28M97.77 371.28L100.67 371.28" stroke="#3a2050" stroke-width="0.8" fill="none"/>
<path d="M43.17 112.09L43.17 114.09M41.72 112.09L44.62 112.09M41.72 114.09L44.62 114.09M52.67 110.07L52.67 116.07M51.22 110.07L54.12 110.07M51.22 116.07L54.12 116.07M62.17 111.89L62.17 113.89M60.72 111.89L63.62 111.89M60.72 113.89L63.62 113.89M71.67 109.55L71.67 111.55M70.22 109.55L73.12 109.55M70.22 111.55L73.12 111.55M81.17 86.74L81.17 102.74M79.72 86.74L82.62 86.74M79.72 102.74L82.62 102.74M90.67 76.30L90.67 84.30M89.22 76.30L92.12 76.30M89.22 84.30L92.12 84.30M100.18 75.37L100.18 81.37M98.73 75.37L101.63 75.37M98.73 81.37L101.63 81.37M109.68 75.22L109.68 81.22M108.23 75.22L111.13 75.22M108.23 81.22L111.13 81.22M100.18 77.64L100.18 81.64M98.73 77.64L101.63 77.64M98.73 81.64L101.63 81.64M109.68 77.20L109.68 81.20M108.23 77.20L111.13 77.20M108.23 81.20L111.13 81.20M301.97 108.78L301.97 116.78M300.52 108.78L303.42 108.78M300.52 116.78L303.42 116.78M311.47 111.77L311.47 113.77M310.02 111.77L312.92 111.77M310.02 113.77L312.92 113.77M320.97 111.63L320.97 113.63M319.52 111.63L322.42 111.63M319.52 113.63L322.42 113.63M330.47 110.17L330.47 112.17M329.02 110.17L331.92 110.17M329.02 112.17L331.92 112.17M339.97 92.33L339.97 108.33M338.52 92.33L341.42 92.33M338.52 108.33L341.42 108.33M349.47 73.90L349.47 89.90M348.02 73.90L350.92 73.90M348.02 89.90L350.92 89.90M358.97 73.20L358.97 81.20M357.52 73.20L360.42 73.20M357.52 81.20L360.42 81.20M368.47 73.71L368.47 79.71M367.02 73.71L369.92 73.71M367.02 79.71L369.92 79.71M358.97 72.96L358.97 76.96M357.52 72.96L360.42 72.96M357.52 76.96L360.42 76.96M368.47 72.53L368.47 76.53M367.02 72.53L369.92 72.53M367.02 76.53L369.92 76.53M43.17 240.78L43.17 244.78M41.72 240.78L44.62 240.78M41.72 244.78L44.62 244.78M52.67 241.77L52.67 243.77M51.22 241.77L54.12 241.77M51.22 243.77L54.12 243.77M62.17 240.59L62.17 244.59M60.72 240.59L63.62 240.59M60.72 244.59L63.62 244.59M71.67 238.63L71.67 240.63M70.22 238.63L73.12 238.63M70.22 240.63L73.12 240.63M81.17 215.41L81.17 223.41M79.72 215.41L82.62 215.41M79.72 223.41L82.62 223.41M90.67 203.18L90.67 209.18M89.22 203.18L92.12 203.18M89.22 209.18L92.12 209.18M100.18 202.98L100.18 206.98M98.73 202.98L101.63 202.98M98.73 206.98L101.63 206.98M109.68 202.91L109.68 206.91M108.23 202.91L111.13 202.91M108.23 206.91L111.13 206.91M43.17 240.18L43.17 244.18M41.72 240.18L44.62 240.18M41.72 244.18L44.62 244.18M100.18 199.74L100.18 203.74M98.73 199.74L101.63 199.74M98.73 203.74L101.63 203.74M109.68 199.70L109.68 203.70M108.23 199.70L111.13 199.70M108.23 203.70L111.13 203.70M302.27 238.88L302.27 246.88M300.82 238.88L303.72 238.88M300.82 246.88L303.72 246.88M330.77 237.89L330.77 239.89M329.32 237.89L332.22 237.89M329.32 239.89L332.22 239.89M340.27 221.59L340.27 223.59M338.82 221.59L341.72 221.59M338.82 223.59L341.72 223.59M349.77 207.61L349.77 209.61M348.32 207.61L351.22 207.61M348.32 209.61L351.22 209.61M359.27 205.07L359.27 207.07M357.82 205.07L360.72 205.07M357.82 207.07L360.72 207.07M368.77 204.80L368.77 206.80M367.32 204.80L370.22 204.80M367.32 206.80L370.22 206.80M302.27 240.26L302.27 246.26M300.82 240.26L303.72 240.26M300.82 246.26L303.72 246.26M330.77 235.99L330.77 237.99M329.32 235.99L332.22 235.99M329.32 237.99L332.22 237.99M340.27 214.82L340.27 216.82M338.82 214.82L341.72 214.82M338.82 216.82L341.72 216.82M359.27 201.44L359.27 203.44M357.82 201.44L360.72 201.44M357.82 203.44L360.72 203.44M368.77 201.30L368.77 203.30M367.32 201.30L370.22 201.30M367.32 203.30L370.22 203.30M42.22 371.35L42.22 373.35M40.77 371.35L43.67 371.35M40.77 373.35L43.67 373.35M51.72 371.34L51.72 373.34M50.27 371.34L53.17 371.34M50.27 373.34L53.17 373.34M61.22 371.20L61.22 373.20M59.77 371.20L62.67 371.20M59.77 373.20L62.67 373.20M70.72 367.75L70.72 371.75M69.27 367.75L72.17 367.75M69.27 371.75L72.17 371.75M80.22 350.08L80.22 358.08M78.77 350.08L81.67 350.08M78.77 358.08L81.67 358.08M89.72 337.19L89.72 355.19M88.27 337.19L91.17 337.19M88.27 355.19L91.17 355.19M99.22 337.61L99.22 353.61M97.77 337.61L100.67 337.61M97.77 353.61L100.67 353.61M42.22 370.29L42.22 372.29M40.77 370.29L43.67 370.29M40.77 372.29L43.67 372.29M51.72 370.28L51.72 372.28M50.27 370.28L53.17 370.28M50.27 372.28L53.17 372.28M61.22 370.17L61.22 372.17M59.77 370.17L62.67 370.17M59.77 372.17L62.67 372.17M70.72 368.58L70.72 370.58M69.27 368.58L72.17 368.58M69.27 370.58L72.17 370.58M80.22 355.15L80.22 363.15M78.77 355.15L81.67 355.15M78.77 363.15L81.67 363.15M89.72 344.52L89.72 358.52M88.27 344.52L91.17 344.52M88.27 358.52L91.17 358.52M99.22 345.70L99.22 355.70M97.77 345.70L100.67 345.70M97.77 355.70L100.67 355.70M340.22 361.69L340.22 363.09M338.77 361.69L341.67 361.69M338.77 363.09L341.67 363.09M349.72 352.48L349.72 354.48M348.27 352.48L351.17 352.48M348.27 354.48L351.17 354.48M359.22 350.62L359.22 352.62M357.77 350.62L360.67 350.62M357.77 352.62L360.67 352.62M368.72 349.89L368.72 352.89M367.27 349.89L370.17 349.89M367.27 352.89L370.17 352.89" stroke="#333" stroke-width="0.8" fill="none"/>
<path d="M43.17 108.88L43.17 112.88M41.72 108.88L44.62 108.88M41.72 112.88L44.62 112.88M52.67 108.51L52.67 111.51M51.22 108.51L54.12 108.51M51.22 111.51L54.12 111.51M62.17 99.71L62.17 105.71M60.72 99.71L63.62 99.71M60.72 105.71L63.62 105.71M71.67 75.37L71.67 91.37M70.22 75.37L73.12 75.37M70.22 91.37L73.12 91.37M81.17 67.86L81.17 77.86M79.72 67.86L82.62 67.86M79.72 77.86L82.62 77.86M90.67 71.97L90.67 77.97M89.22 71.97L92.12 71.97M89.22 77.97L92.12 77.97M100.18 72.39L100.18 77.39M98.73 72.39L101.63 72.39M98.73 77.39L101.63 77.39M109.68 72.38L109.68 77.38M108.23 72.38L111.13 72.38M108.23 77.38L111.13 77.38M301.97 108.97L301.97 112.97M300.52 108.97L303.42 108.97M300.52 112.97L303.42 112.97M311.47 109.04L311.47 112.04M310.02 109.04L312.92 109.04M310.02 112.04L312.92 112.04M320.97 104.09L320.97 110.09M319.52 104.09L322.42 104.09M319.52 110.09L322.42 110.09M330.47 86.47L330.47 96.47M329.02 86.47L331.92 86.47M329.02 96.47L331.92 96.47M339.97 70.79L339.97 80.79M338.52 70.79L341.42 70.79M338.52 80.79L341.42 80.79M349.47 69.30L349.47 75.30M348.02 69.30L350.92 69.30M348.02 75.30L350.92 75.30M358.97 68.87L358.97 74.87M357.52 68.87L360.42 68.87M357.52 74.87L360.42 74.87M368.47 69.32L368.47 74.32M367.02 69.32L369.92 69.32M367.02 74.32L369.92 74.32M43.17 240.13L43.17 242.13M41.72 240.13L44.62 240.13M41.72 242.13L44.62 242.13M52.67 237.31L52.67 239.31M51.22 237.31L54.12 237.31M51.22 239.31L54.12 239.31M62.17 221.77L62.17 227.77M60.72 221.77L63.62 221.77M60.72 227.77L63.62 227.77M71.67 204.36L71.67 208.36M70.22 204.36L73.12 204.36M70.22 208.36L73.12 208.36M81.17 198.72L81.17 202.72M79.72 198.72L82.62 198.72M79.72 202.72L82.62 202.72M90.67 196.88L90.67 202.88M89.22 196.88L92.12 196.88M89.22 202.88L92.12 202.88M100.18 196.77L100.18 202.77M98.73 196.77L101.63 196.77M98.73 202.77L101.63 202.77M109.68 196.76L109.68 202.76M108.23 196.76L111.13 196.76M108.23 202.76L111.13 202.76M302.27 240.03L302.27 244.03M300.82 240.03L303.72 240.03M300.82 244.03L303.72 244.03M321.27 233.33L321.27 235.33M319.82 233.33L322.72 233.33M319.82 235.33L322.72 235.33M330.77 211.72L330.77 214.72M329.32 211.72L332.22 211.72M329.32 214.72L332.22 214.72M340.27 200.48L340.27 204.48M338.82 200.48L341.72 200.48M338.82 204.48L341.72 204.48M349.77 199.95L349.77 201.95M348.32 199.95L351.22 199.95M348.32 201.95L351.22 201.95M359.27 199.29L359.27 202.29M357.82 199.29L360.72 199.29M357.82 202.29L360.72 202.29M368.77 199.27L368.77 202.27M367.32 199.27L370.22 199.27M367.32 202.27L370.22 202.27M42.22 367.02L42.22 371.02M40.77 367.02L43.67 367.02M40.77 371.02L43.67 371.02M51.72 364.83L51.72 370.83M50.27 364.83L53.17 364.83M50.27 370.83L53.17 370.83M61.22 352.96L61.22 366.96M59.77 352.96L62.67 352.96M59.77 366.96L62.67 366.96M70.72 330.22L70.72 354.22M69.27 330.22L72.17 330.22M69.27 354.22L72.17 354.22M80.22 324.29L80.22 340.29M78.77 324.29L81.67 324.29M78.77 340.29L81.67 340.29M89.72 327.70L89.72 339.70M88.27 327.70L91.17 327.70M88.27 339.70L91.17 339.70M321.22 367.58L321.22 369.58M319.77 367.58L322.67 367.58M319.77 369.58L322.67 369.58M330.72 349.61L330.72 352.61M329.27 349.61L332.17 349.61M329.27 352.61L332.17 352.61M340.22 334.40L340.22 340.40M338.77 334.40L341.67 334.40M338.77 340.40L341.67 340.40M349.72 326.25L349.72 336.25M348.27 326.25L351.17 326.25M348.27 336.25L351.17 336.25M359.22 331.93L359.22 341.93M357.77 331.93L360.67 331.93M357.77 341.93L360.67 341.93M368.72 330.40L368.72 338.40M367.27 330.40L370.17 330.40M367.27 338.40L370.17 338.40M42.22 490.80L42.22 496.80M40.77 490.80L43.67 490.80M40.77 496.80L43.67 496.80M51.72 490.80L51.72 496.80M50.27 490.80L53.17 490.80M50.27 496.80L53.17 496.80M61.22 490.80L61.22 496.80M59.77 490.80L62.67 490.80M59.77 496.80L62.67 496.80M70.72 490.80L70.72 496.80M69.27 490.80L72.17 490.80M69.27 496.80L72.17 496.80M80.22 467.47L80.22 475.47M78.77 467.47L81.67 467.47M78.77 475.47L81.67 475.47M89.72 458.40L89.72 468.40M88.27 458.40L91.17 458.40M88.27 468.40L91.17 468.40M99.22 458.40L99.22 468.40M97.77 458.40L100.67 458.40M97.77 468.40L100.67 468.40M108.72 458.40L108.72 468.40M107.27 458.40L110.17 458.40M107.27 468.40L110.17 468.40M302.22 488.80L302.22 496.80M300.77 488.80L303.67 488.80M300.77 496.80L303.67 496.80M311.72 488.73L311.72 496.73M310.27 488.73L313.17 488.73M310.27 496.73L313.17 496.73M321.22 487.46L321.22 495.46M319.77 487.46L322.67 487.46M319.77 495.46L322.67 495.46M330.72 472.01L330.72 482.01M329.27 472.01L332.17 472.01M329.27 482.01L332.17 482.01M340.22 453.47L340.22 463.47M338.77 453.47L341.67 453.47M338.77 463.47L341.67 463.47M349.72 450.32L349.72 462.32M348.27 450.32L351.17 450.32M348.27 462.32L351.17 462.32M359.22 450.21L359.22 462.21M357.77 450.21L360.67 450.21M357.77 462.21L360.67 462.21M368.72 450.20L368.72 462.20M367.27 450.20L370.17 450.20M367.27 462.20L370.17 462.20M42.22 632.14L42.22 634.14M40.77 632.14L43.67 632.14M40.77 634.14L43.67 634.14M51.72 632.01L51.72 634.01M50.27 632.01L53.17 632.01M50.27 634.01L53.17 634.01M61.22 622.85L61.22 624.85M59.77 622.85L62.67 622.85M59.77 624.85L62.67 624.85M70.72 601.60L70.72 603.60M69.27 601.60L72.17 601.60M69.27 603.60L72.17 603.60M80.22 595.39L80.22 597.39M78.77 595.39L81.67 595.39M78.77 597.39L81.67 597.39M89.72 600.88L89.72 602.88M88.27 600.88L91.17 600.88M88.27 602.88L91.17 602.88M99.22 605.38L99.22 607.38M97.77 605.38L100.67 605.38M97.77 607.38L100.67 607.38M108.72 604.88L108.72 607.88M107.27 604.88L110.17 604.88M107.27 607.88L110.17 607.88M302.22 623.35L302.22 631.35M300.77 623.35L303.67 623.35M300.77 631.35L303.67 631.35M311.72 623.34L311.72 631.34M310.27 623.34L313.17 623.34M310.27 631.34L313.17 631.34M321.22 622.98L321.22 630.98M319.77 622.98L322.67 622.98M319.77 630.98L322.67 630.98M330.72 615.17L330.72 623.17M329.27 615.17L332.17 615.17M329.27 623.17L332.17 623.17M340.22 589.52L340.22 599.52M338.77 589.52L341.67 589.52M338.77 599.52L341.67 599.52M349.72 583.59L349.72 597.59M348.27 583.59L351.17 583.59M348.27 597.59L351.17 597.59M359.22 583.43L359.22 597.43M357.77 583.43L360.67 583.43M357.77 597.43L360.67 597.43M368.72 583.42L368.72 597.42M367.27 583.42L370.17 583.42M367.27 597.42L370.17 597.42" stroke="#d0103a" stroke-width="0.8" fill="none"/>
<path d="M151.70 54L151.70 115M407.30 53.80L407.30 114.60M150.40 184.90L150.40 245.80M408.70 183.80L408.70 245M149.10 315.10L149.10 376.20M408.10 314.70L408.10 376.20M148.60 444.70L148.60 506.20M408.40 445L408.40 506.20M148.90 580L148.90 640.90M408.50 579.50L408.50 640.90" stroke="#111" stroke-width="1.3" fill="none"/>
<path d="M149.40 110.89L151.70 110.89M149.40 108.77L151.70 108.77M149.40 107.28L151.70 107.28M149.40 106.11L151.70 106.11M149.40 105.16L151.70 105.16M149.40 104.36L151.70 104.36M149.40 103.66L151.70 103.66M149.40 103.05L151.70 103.05M149.40 98.89L151.70 98.89M149.40 96.77L151.70 96.77M149.40 95.28L151.70 95.28M149.40 94.11L151.70 94.11M149.40 93.16L151.70 93.16M149.40 92.36L151.70 92.36M149.40 91.66L151.70 91.66M149.40 91.05L151.70 91.05M149.40 86.89L151.70 86.89M149.40 84.77L151.70 84.77M149.40 83.28L151.70 83.28M149.40 82.11L151.70 82.11M149.40 81.16L151.70 81.16M149.40 80.36L151.70 80.36M149.40 79.66L151.70 79.66M149.40 79.05L151.70 79.05M149.40 74.89L151.70 74.89M149.40 72.77L151.70 72.77M149.40 71.28L151.70 71.28M149.40 70.11L151.70 70.11M149.40 69.16L151.70 69.16M149.40 68.36L151.70 68.36M149.40 67.66L151.70 67.66M149.40 67.05L151.70 67.05M149.40 62.89L151.70 62.89M149.40 60.77L151.70 60.77M149.40 59.28L151.70 59.28M149.40 58.11L151.70 58.11M149.40 57.16L151.70 57.16M149.40 56.36L151.70 56.36M149.40 55.66L151.70 55.66M149.40 55.05L151.70 55.05M405 110.50L407.30 110.50M405 108.39L407.30 108.39M405 106.90L407.30 106.90M405 105.74L407.30 105.74M405 104.79L407.30 104.79M405 103.99L407.30 103.99M405 103.30L407.30 103.30M405 102.69L407.30 102.69M405 98.54L407.30 98.54M405 96.43L407.30 96.43M405 94.94L407.30 94.94M405 93.78L407.30 93.78M405 92.83L407.30 92.83M405 92.03L407.30 92.03M405 91.34L407.30 91.34M405 90.73L407.30 90.73M405 86.58L407.30 86.58M405 84.47L407.30 84.47M405 82.98L407.30 82.98M405 81.82L407.30 81.82M405 80.87L407.30 80.87M405 80.07L407.30 80.07M405 79.38L407.30 79.38M405 78.77L407.30 78.77M405 74.62L407.30 74.62M405 72.51L407.30 72.51M405 71.02L407.30 71.02M405 69.86L407.30 69.86M405 68.91L407.30 68.91M405 68.11L407.30 68.11M405 67.42L407.30 67.42M405 66.81L407.30 66.81M405 62.66L407.30 62.66M405 60.55L407.30 60.55M405 59.06L407.30 59.06M405 57.90L407.30 57.90M405 56.95L407.30 56.95M405 56.15L407.30 56.15M405 55.46L407.30 55.46M405 54.85L407.30 54.85M148.10 241.69L150.40 241.69M148.10 239.58L150.40 239.58M148.10 238.09L150.40 238.09M148.10 236.93L150.40 236.93M148.10 235.98L150.40 235.98M148.10 235.18L150.40 235.18M148.10 234.48L150.40 234.48M148.10 233.87L150.40 233.87M148.10 229.71L150.40 229.71M148.10 227.60L150.40 227.60M148.10 226.11L150.40 226.11M148.10 224.95L150.40 224.95M148.10 224L150.40 224M148.10 223.20L150.40 223.20M148.10 222.50L150.40 222.50M148.10 221.89L150.40 221.89M148.10 217.73L150.40 217.73M148.10 215.62L150.40 215.62M148.10 214.13L150.40 214.13M148.10 212.97L150.40 212.97M148.10 212.02L150.40 212.02M148.10 211.22L150.40 211.22M148.10 210.52L150.40 210.52M148.10 209.91L150.40 209.91M148.10 205.75L150.40 205.75M148.10 203.64L150.40 203.64M148.10 202.15L150.40 202.15M148.10 200.99L150.40 200.99M148.10 200.04L150.40 200.04M148.10 199.24L150.40 199.24M148.10 198.54L150.40 198.54M148.10 197.93L150.40 197.93M148.10 193.77L150.40 193.77M148.10 191.66L150.40 191.66M148.10 190.17L150.40 190.17M148.10 189.01L150.40 189.01M148.10 188.06L150.40 188.06M148.10 187.26L150.40 187.26M148.10 186.56L150.40 186.56M148.10 185.95L150.40 185.95M406.40 240.88L408.70 240.88M406.40 238.76L408.70 238.76M406.40 237.25L408.70 237.25M406.40 236.08L408.70 236.08M406.40 235.13L408.70 235.13M406.40 234.33L408.70 234.33M406.40 233.63L408.70 233.63M406.40 233.01L408.70 233.01M406.40 228.84L408.70 228.84M406.40 226.72L408.70 226.72M406.40 225.21L408.70 225.21M406.40 224.04L408.70 224.04M406.40 223.09L408.70 223.09M406.40 222.29L408.70 222.29M406.40 221.59L408.70 221.59M406.40 220.97L408.70 220.97M406.40 216.80L408.70 216.80M406.40 214.68L408.70 214.68M406.40 213.17L408.70 213.17M406.40 212L408.70 212M406.40 211.05L408.70 211.05M406.40 210.25L408.70 210.25M406.40 209.55L408.70 209.55M406.40 208.93L408.70 208.93M406.40 204.76L408.70 204.76M406.40 202.64L408.70 202.64M406.40 201.13L408.70 201.13M406.40 199.96L408.70 199.96M406.40 199.01L408.70 199.01M406.40 198.21L408.70 198.21M406.40 197.51L408.70 197.51M406.40 196.89L408.70 196.89M406.40 192.72L408.70 192.72M406.40 190.60L408.70 190.60M406.40 189.09L408.70 189.09M406.40 187.92L408.70 187.92M406.40 186.97L408.70 186.97M406.40 186.17L408.70 186.17M406.40 185.47L408.70 185.47M406.40 184.85L408.70 184.85M146.80 372.08L149.10 372.08M146.80 369.97L149.10 369.97M146.80 368.46L149.10 368.46M146.80 367.30L149.10 367.30M146.80 366.35L149.10 366.35M146.80 365.54L149.10 365.54M146.80 364.84L149.10 364.84M146.80 364.23L149.10 364.23M146.80 360.06L149.10 360.06M146.80 357.95L149.10 357.95M146.80 356.44L149.10 356.44M146.80 355.28L149.10 355.28M146.80 354.33L149.10 354.33M146.80 353.52L149.10 353.52M146.80 352.82L149.10 352.82M146.80 352.21L149.10 352.21M146.80 348.04L149.10 348.04M146.80 345.93L149.10 345.93M146.80 344.42L149.10 344.42M146.80 343.26L149.10 343.26M146.80 342.31L149.10 342.31M146.80 341.50L149.10 341.50M146.80 340.80L149.10 340.80M146.80 340.19L149.10 340.19M146.80 336.02L149.10 336.02M146.80 333.91L149.10 333.91M146.80 332.40L149.10 332.40M146.80 331.24L149.10 331.24M146.80 330.29L149.10 330.29M146.80 329.48L149.10 329.48M146.80 328.78L149.10 328.78M146.80 328.17L149.10 328.17M146.80 324L149.10 324M146.80 321.89L149.10 321.89M146.80 320.38L149.10 320.38M146.80 319.22L149.10 319.22M146.80 318.27L149.10 318.27M146.80 317.46L149.10 317.46M146.80 316.76L149.10 316.76M146.80 316.15L149.10 316.15M405.80 372.06L408.10 372.06M405.80 369.93L408.10 369.93M405.80 368.42L408.10 368.42M405.80 367.24L408.10 367.24M405.80 366.28L408.10 366.28M405.80 365.47L408.10 365.47M405.80 364.77L408.10 364.77M405.80 364.15L408.10 364.15M405.80 359.96L408.10 359.96M405.80 357.83L408.10 357.83M405.80 356.32L408.10 356.32M405.80 355.14L408.10 355.14M405.80 354.18L408.10 354.18M405.80 353.37L408.10 353.37M405.80 352.67L408.10 352.67M405.80 352.05L408.10 352.05M405.80 347.86L408.10 347.86M405.80 345.73L408.10 345.73M405.80 344.22L408.10 344.22M405.80 343.04L408.10 343.04M405.80 342.08L408.10 342.08M405.80 341.27L408.10 341.27M405.80 340.57L408.10 340.57M405.80 339.95L408.10 339.95M405.80 335.76L408.10 335.76M405.80 333.63L408.10 333.63M405.80 332.12L408.10 332.12M405.80 330.94L408.10 330.94M405.80 329.98L408.10 329.98M405.80 329.17L408.10 329.17M405.80 328.47L408.10 328.47M405.80 327.85L408.10 327.85M405.80 323.66L408.10 323.66M405.80 321.53L408.10 321.53M405.80 320.02L408.10 320.02M405.80 318.84L408.10 318.84M405.80 317.88L408.10 317.88M405.80 317.07L408.10 317.07M405.80 316.37L408.10 316.37M405.80 315.75L408.10 315.75M146.30 501.15L148.60 501.15M146.30 498.48L148.60 498.48M146.30 496.59L148.60 496.59M146.30 495.13L148.60 495.13M146.30 493.93L148.60 493.93M146.30 492.92L148.60 492.92M146.30 492.04L148.60 492.04M146.30 491.27L148.60 491.27M146.30 486.02L148.60 486.02M146.30 483.36L148.60 483.36M146.30 481.47L148.60 481.47M146.30 480L148.60 480M146.30 478.81L148.60 478.81M146.30 477.79L148.60 477.79M146.30 476.92L148.60 476.92M146.30 476.14L148.60 476.14M146.30 470.90L148.60 470.90M146.30 468.23L148.60 468.23M146.30 466.34L148.60 466.34M146.30 464.88L148.60 464.88M146.30 463.68L148.60 463.68M146.30 462.67L148.60 462.67M146.30 461.79L148.60 461.79M146.30 461.02L148.60 461.02M146.30 455.77L148.60 455.77M146.30 453.11L148.60 453.11M146.30 451.22L148.60 451.22M146.30 449.75L148.60 449.75M146.30 448.56L148.60 448.56M146.30 447.54L148.60 447.54M146.30 446.67L148.60 446.67M146.30 445.89L148.60 445.89M406.10 501.17L408.40 501.17M406.10 498.52L408.40 498.52M406.10 496.64L408.40 496.64M406.10 495.18L408.40 495.18M406.10 493.99L408.40 493.99M406.10 492.98L408.40 492.98M406.10 492.11L408.40 492.11M406.10 491.34L408.40 491.34M406.10 486.12L408.40 486.12M406.10 483.47L408.40 483.47M406.10 481.59L408.40 481.59M406.10 480.13L408.40 480.13M406.10 478.94L408.40 478.94M406.10 477.93L408.40 477.93M406.10 477.06L408.40 477.06M406.10 476.29L408.40 476.29M406.10 471.07L408.40 471.07M406.10 468.42L408.40 468.42M406.10 466.54L408.40 466.54M406.10 465.08L408.40 465.08M406.10 463.89L408.40 463.89M406.10 462.88L408.40 462.88M406.10 462.01L408.40 462.01M406.10 461.24L408.40 461.24M406.10 456.02L408.40 456.02M406.10 453.37L408.40 453.37M406.10 451.49L408.40 451.49M406.10 450.03L408.40 450.03M406.10 448.84L408.40 448.84M406.10 447.83L408.40 447.83M406.10 446.96L408.40 446.96M406.10 446.19L408.40 446.19M146.60 635.89L148.90 635.89M146.60 633.26L148.90 633.26M146.60 631.38L148.90 631.38M146.60 629.93L148.90 629.93M146.60 628.75L148.90 628.75M146.60 627.74L148.90 627.74M146.60 626.88L148.90 626.88M146.60 626.11L148.90 626.11M146.60 620.92L148.90 620.92M146.60 618.28L148.90 618.28M146.60 616.41L148.90 616.41M146.60 614.96L148.90 614.96M146.60 613.77L148.90 613.77M146.60 612.77L148.90 612.77M146.60 611.90L148.90 611.90M146.60 611.14L148.90 611.14M146.60 605.94L148.90 605.94M146.60 603.31L148.90 603.31M146.60 601.43L148.90 601.43M146.60 599.98L148.90 599.98M146.60 598.80L148.90 598.80M146.60 597.79L148.90 597.79M146.60 596.93L148.90 596.93M146.60 596.16L148.90 596.16M146.60 590.97L148.90 590.97M146.60 588.33L148.90 588.33M146.60 586.46L148.90 586.46M146.60 585.01L148.90 585.01M146.60 583.82L148.90 583.82M146.60 582.82L148.90 582.82M146.60 581.95L148.90 581.95M146.60 581.19L148.90 581.19M406.20 634.34L408.50 634.34M406.20 630.79L408.50 630.79M406.20 628.28L408.50 628.28M406.20 626.33L408.50 626.33M406.20 624.73L408.50 624.73M406.20 623.39L408.50 623.39M406.20 622.22L408.50 622.22M406.20 621.19L408.50 621.19M406.20 614.21L408.50 614.21M406.20 610.66L408.50 610.66M406.20 608.15L408.50 608.15M406.20 606.19L408.50 606.19M406.20 604.60L408.50 604.60M406.20 603.25L408.50 603.25M406.20 602.08L408.50 602.08M406.20 601.05L408.50 601.05M406.20 594.07L408.50 594.07M406.20 590.53L408.50 590.53M406.20 588.01L408.50 588.01M406.20 586.06L408.50 586.06M406.20 584.47L408.50 584.47M406.20 583.12L408.50 583.12M406.20 581.95L408.50 581.95M406.20 580.92L408.50 580.92" stroke="#1e1e1e" stroke-width="0.75" fill="none"/>
<path d="M155.70 96.50L162.70 96.50M166.80 80.20L173.80 80.20M178.10 79.50L185.10 79.50M226.50 75L233.50 75M237.80 78L244.80 78M248.70 78.50L255.70 78.50M411.10 91.50L418.10 91.50M422.20 77.40L429.20 77.40M433.30 80.40L440.30 80.40M481.60 71.40L488.60 71.40M492.70 76.30L499.70 76.30M504 73.90L511 73.90M153.90 232L160.90 232M165 214.50L172 214.50M176.30 215.60L183.30 215.60M226.40 200.20L233.40 200.20M237.70 205.20L244.70 205.20M248.80 202L255.80 202M412.20 226.80L419.20 226.80M423.60 212.60L430.60 212.60M434.70 214.30L441.70 214.30M481.50 209.50L488.50 209.50M492.60 213L499.60 213M503.80 209.50L510.80 209.50M152.80 360.30L159.80 360.30M164 344L171 344M175.30 342.60L182.30 342.60M226.50 342.60L233.50 342.60M237.60 351.60L244.60 351.60M248.70 355.50L255.70 355.50M412.20 355.50L419.20 355.50M423.30 341.10L430.30 341.10M434.80 339.30L441.80 339.30M481.70 359.10L488.70 359.10M492.70 365.60L499.70 365.60M503.80 365.90L510.80 365.90M152.10 479.10L160.50 479.10M163.30 471.50L171.70 471.50M174.60 473.30L183 473.30M225.80 468.30L234.20 468.30M236.90 472.60L245.30 472.60M248.40 474L256.80 474M411.50 487.70L419.90 487.70M422.60 474.30L431 474.30M434.10 473.30L442.50 473.30M481 473.80L489.40 473.80M492 478.40L500.40 478.40M503.10 481L511.50 481M153 624.70L160 624.70M164 609.90L171 609.90M175.10 609.30L182.10 609.30M226 604.90L233 604.90M237.50 604.90L244.50 604.90M248.70 604.20L255.70 604.20M412 614.70L419 614.70M423.60 603.40L430.60 603.40M434.60 605.10L441.60 605.10M481.50 598.10L488.50 598.10M492.80 606.60L499.80 606.60M504.10 608.70L511.10 608.70" stroke="#555" stroke-width="1.2" fill="none"/>
<path d="M156.70 62.60L167.80 62.60M156.70 49.70L178.80 49.70M230 62.60L241.30 62.60M230 49.80L252.20 49.80M412.50 63.50L423.20 63.50M412.50 50.40L434.70 50.40M485.10 60.10L496.20 60.10M485.10 46.90L507.50 46.90M157.40 204.40L168.50 204.40M157.40 191.60L179.80 191.60M229.90 185.40L241.20 185.40M229.90 172.40L252.10 172.40M415.70 201.20L427.10 201.20M415.70 188L438.20 188M485 198L496.10 198M485 185.80L507.30 185.80M157.20 328.20L167.20 328.20M157.20 315.60L179 315.60M230 324.90L241.10 324.90M230 312.30L252.20 312.30M415.70 328.20L426.80 328.20M415.70 315.20L438.30 315.20M485.20 346.60L496.20 346.60M485.20 333.90L507.30 333.90M156.30 455.60L167.50 455.60M156.30 442.10L178.80 442.10M230 453.20L241.10 453.20M230 440.20L252.60 440.20M415.70 457.90L426.80 457.90M415.70 445.20L438.30 445.20M485.20 453.60L496.20 453.60M485.20 440.60L507.30 440.60M156.50 601.20L167.50 601.20M156.50 588.50L178.60 588.50M229.50 595.10L241 595.10M229.50 582L252.20 582M415.50 592.10L427.10 592.10M415.50 579.40L438.10 579.40M485 582L496.30 582M485 569.20L507.60 569.20" stroke="#6a6a6a" stroke-width="1.4" fill="none"/>
<path d="M42.22 492.40L42.22 498.40M40.77 492.40L43.67 492.40M40.77 498.40L43.67 498.40M51.72 492.40L51.72 498.40M50.27 492.40L53.17 492.40M50.27 498.40L53.17 498.40M61.22 492.40L61.22 498.40M59.77 492.40L62.67 492.40M59.77 498.40L62.67 498.40M70.72 492.40L70.72 498.40M69.27 492.40L72.17 492.40M69.27 498.40L72.17 498.40M80.22 493.40L80.22 497.40M78.77 493.40L81.67 493.40M78.77 497.40L81.67 497.40M89.72 492.39L89.72 498.39M88.27 492.39L91.17 492.39M88.27 498.39L91.17 498.39M99.22 490.62L99.22 498.62M97.77 490.62L100.67 490.62M97.77 498.62L100.67 498.62M108.72 477.73L108.72 485.73M107.27 477.73L110.17 477.73M107.27 485.73L110.17 485.73M302.22 490.30L302.22 498.30M300.77 490.30L303.67 490.30M300.77 498.30L303.67 498.30M311.72 490.30L311.72 498.30M310.27 490.30L313.17 490.30M310.27 498.30L313.17 498.30M321.22 490.27L321.22 498.27M319.77 490.27L322.67 490.27M319.77 498.27L322.67 498.27M330.72 490.14L330.72 498.14M329.27 490.14L332.17 490.14M329.27 498.14L332.17 498.14M340.22 489.34L340.22 497.34M338.77 489.34L341.67 489.34M338.77 497.34L341.67 497.34M349.72 484.22L349.72 494.22M348.27 484.22L351.17 484.22M348.27 494.22L351.17 494.22M359.22 473.48L359.22 483.48M357.77 473.48L360.67 473.48M357.77 483.48L360.67 483.48M368.72 465.50L368.72 475.50M367.27 465.50L370.17 465.50M367.27 475.50L370.17 475.50M70.72 632.41L70.72 634.41M69.27 632.41L72.17 632.41M69.27 634.41L72.17 634.41M80.22 630.29L80.22 633.29M78.77 630.29L81.67 630.29M78.77 633.29L81.67 633.29M89.72 625.69L89.72 629.69M88.27 625.69L91.17 625.69M88.27 629.69L91.17 629.69M99.22 617L99.22 621M97.77 617L100.67 617M97.77 621L100.67 621M108.72 604.25L108.72 607.25M107.27 604.25L110.17 604.25M107.27 607.25L110.17 607.25M302.22 624.24L302.22 630.24M300.77 624.24L303.67 624.24M300.77 630.24L303.67 630.24M311.72 624.24L311.72 630.24M310.27 624.24L313.17 624.24M310.27 630.24L313.17 630.24M321.22 624.21L321.22 630.21M319.77 624.21L322.67 624.21M319.77 630.21L322.67 630.21M330.72 624.12L330.72 630.12M329.27 624.12L332.17 624.12M329.27 630.12L332.17 630.12M340.22 623.85L340.22 629.85M338.77 623.85L341.67 623.85M338.77 629.85L341.67 629.85M349.72 623.01L349.72 629.01M348.27 623.01L351.17 623.01M348.27 629.01L351.17 629.01M359.22 620.69L359.22 626.69M357.77 620.69L360.67 620.69M357.77 626.69L360.67 626.69M368.72 615.48L368.72 621.48M367.27 615.48L370.17 615.48M367.27 621.48L370.17 621.48" stroke="#5a2a80" stroke-width="0.8" fill="none"/>
<path d="M42.22 489.60L42.22 499.60M40.77 489.60L43.67 489.60M40.77 499.60L43.67 499.60M51.72 490.60L51.72 498.60M50.27 490.60L53.17 490.60M50.27 498.60L53.17 498.60M61.22 490.60L61.22 498.60M59.77 490.60L62.67 490.60M59.77 498.60L62.67 498.60M70.72 490.48L70.72 498.48M69.27 490.48L72.17 490.48M69.27 498.48L72.17 498.48M80.22 487.40L80.22 495.40M78.77 487.40L81.67 487.40M78.77 495.40L81.67 495.40M89.72 471.05L89.72 481.05M88.27 471.05L91.17 471.05M88.27 481.05L91.17 481.05M99.22 467.73L99.22 477.73M97.77 467.73L100.67 467.73M97.77 477.73L100.67 477.73M108.72 468.60L108.72 476.60M107.27 468.60L110.17 468.60M107.27 476.60L110.17 476.60M302.22 490.40L302.22 500.40M300.77 490.40L303.67 490.40M300.77 500.40L303.67 500.40M311.72 490.40L311.72 500.40M310.27 490.40L313.17 490.40M310.27 500.40L313.17 500.40M321.22 490.40L321.22 500.40M319.77 490.40L322.67 490.40M319.77 500.40L322.67 500.40M330.72 490.40L330.72 500.40M329.27 490.40L332.17 490.40M329.27 500.40L332.17 500.40M340.22 488.45L340.22 498.45M338.77 488.45L341.67 488.45M338.77 498.45L341.67 498.45M349.72 468.10L349.72 478.10M348.27 468.10L351.17 468.10M348.27 478.10L351.17 478.10M359.22 468.10L359.22 478.10M357.77 468.10L360.67 468.10M357.77 478.10L360.67 478.10M368.72 468.10L368.72 478.10M367.27 468.10L370.17 468.10M367.27 478.10L370.17 478.10M42.22 633.54L42.22 635.54M40.77 633.54L43.67 633.54M40.77 635.54L43.67 635.54M51.72 632.88L51.72 635.88M50.27 632.88L53.17 632.88M50.27 635.88L53.17 635.88M61.22 631.52L61.22 633.52M59.77 631.52L62.67 631.52M59.77 633.52L62.67 633.52M70.72 618.54L70.72 620.54M69.27 618.54L72.17 618.54M69.27 620.54L72.17 620.54M80.22 603.05L80.22 605.05M78.77 603.05L81.67 603.05M78.77 605.05L81.67 605.05M89.72 599.83L89.72 602.83M88.27 599.83L91.17 599.83M88.27 602.83L91.17 602.83M99.22 599.60L99.22 602.60M97.77 599.60L100.67 599.60M97.77 602.60L100.67 602.60M108.72 600.08L108.72 602.08M107.27 600.08L110.17 600.08M107.27 602.08L110.17 602.08M302.22 624.25L302.22 630.25M300.77 624.25L303.67 624.25M300.77 630.25L303.67 630.25M311.72 624.24L311.72 630.24M310.27 624.24L313.17 624.24M310.27 630.24L313.17 630.24M321.22 624.14L321.22 630.14M319.77 624.14L322.67 624.14M319.77 630.14L322.67 630.14M330.72 622.32L330.72 628.32M329.27 622.32L332.17 622.32M329.27 628.32L332.17 628.32M340.22 608.69L340.22 616.69M338.77 608.69L341.67 608.69M338.77 616.69L341.67 616.69M349.72 600.57L349.72 610.57M348.27 600.57L351.17 600.57M348.27 610.57L351.17 610.57M359.22 600.02L359.22 610.02M357.77 600.02L360.67 600.02M357.77 610.02L360.67 610.02M368.72 599.99L368.72 609.99M367.27 599.99L370.17 599.99M367.27 609.99L370.17 609.99" stroke="#1a4a85" stroke-width="0.8" fill="none"/>
<path d="M42.22 492.20L42.22 502.20M40.77 492.20L43.67 492.20M40.77 502.20L43.67 502.20M51.72 493.20L51.72 501.20M50.27 493.20L53.17 493.20M50.27 501.20L53.17 501.20M61.22 493.19L61.22 501.19M59.77 493.19L62.67 493.19M59.77 501.19L62.67 501.19M70.72 493.03L70.72 501.03M69.27 493.03L72.17 493.03M69.27 501.03L72.17 501.03M80.22 490.21L80.22 498.21M78.77 490.21L81.67 490.21M78.77 498.21L81.67 498.21M89.72 476.47L89.72 486.47M88.27 476.47L91.17 476.47M88.27 486.47L91.17 486.47M99.22 472.19L99.22 482.19M97.77 472.19L100.67 472.19M97.77 482.19L100.67 482.19M108.72 472.91L108.72 480.91M107.27 472.91L110.17 472.91M107.27 480.91L110.17 480.91M302.22 491.90L302.22 501.90M300.77 491.90L303.67 491.90M300.77 501.90L303.67 501.90M311.72 491.90L311.72 501.90M310.27 491.90L313.17 491.90M310.27 501.90L313.17 501.90M321.22 491.90L321.22 501.90M319.77 491.90L322.67 491.90M319.77 501.90L322.67 501.90M330.72 491.77L330.72 501.77M329.27 491.77L332.17 491.77M329.27 501.77L332.17 501.77M340.22 482.78L340.22 494.78M338.77 482.78L341.67 482.78M338.77 494.78L341.67 494.78M349.72 469.46L349.72 481.46M348.27 469.46L351.17 469.46M348.27 481.46L351.17 481.46M359.22 469.10L359.22 481.10M357.77 469.10L360.67 469.10M357.77 481.10L360.67 481.10M368.72 470.10L368.72 480.10M367.27 470.10L370.17 470.10M367.27 480.10L370.17 480.10M42.22 633.35L42.22 636.35M40.77 633.35L43.67 633.35M40.77 636.35L43.67 636.35M51.72 633.83L51.72 635.83M50.27 633.83L53.17 633.83M50.27 635.83L53.17 635.83M61.22 632.56L61.22 635.56M59.77 632.56L62.67 632.56M59.77 635.56L62.67 635.56M70.72 619.20L70.72 621.20M69.27 619.20L72.17 619.20M69.27 621.20L72.17 621.20M80.22 601.14L80.22 603.14M78.77 601.14L81.67 601.14M78.77 603.14L81.67 603.14M89.72 599.82L89.72 601.82M88.27 599.82L91.17 599.82M88.27 601.82L91.17 601.82M99.22 599.77L99.22 601.77M97.77 599.77L100.67 599.77M97.77 601.77L100.67 601.77M108.72 599.77L108.72 601.77M107.27 599.77L110.17 599.77M107.27 601.77L110.17 601.77M302.22 624.25L302.22 630.25M300.77 624.25L303.67 624.25M300.77 630.25L303.67 630.25M311.72 624.24L311.72 630.24M310.27 624.24L313.17 624.24M310.27 630.24L313.17 630.24M321.22 624.17L321.22 630.17M319.77 624.17L322.67 624.17M319.77 630.17L322.67 630.17M330.72 622.87L330.72 628.87M329.27 622.87L332.17 622.87M329.27 628.87L332.17 628.87M340.22 611.48L340.22 619.48M338.77 611.48L341.67 611.48M338.77 619.48L341.67 619.48M349.72 603.35L349.72 613.35M348.27 603.35L351.17 603.35M348.27 613.35L351.17 613.35M359.22 602.76L359.22 612.76M357.77 602.76L360.67 602.76M357.77 612.76L360.67 612.76M368.72 602.72L368.72 612.72M367.27 602.72L370.17 602.72M367.27 612.72L370.17 612.72" stroke="#2a9a40" stroke-width="0.8" fill="none"/>
<path d="M158.05,57.10L158.55,58.41L159.95,58.48L158.86,59.36L159.23,60.72L158.05,59.95L156.87,60.72L157.24,59.36L156.15,58.48L157.55,58.41ZM162.25,57.10L162.75,58.41L164.15,58.48L163.06,59.36L163.43,60.72L162.25,59.95L161.07,60.72L161.44,59.36L160.35,58.48L161.75,58.41ZM166.45,57.10L166.95,58.41L168.35,58.48L167.26,59.36L167.63,60.72L166.45,59.95L165.27,60.72L165.64,59.36L164.55,58.48L165.95,58.41ZM163.55,44.20L164.05,45.51L165.45,45.58L164.36,46.46L164.73,47.82L163.55,47.05L162.37,47.82L162.74,46.46L161.65,45.58L163.05,45.51ZM167.75,44.20L168.25,45.51L169.65,45.58L168.56,46.46L168.93,47.82L167.75,47.05L166.57,47.82L166.94,46.46L165.85,45.58L167.25,45.51ZM171.95,44.20L172.45,45.51L173.85,45.58L172.76,46.46L173.13,47.82L171.95,47.05L170.77,47.82L171.14,46.46L170.05,45.58L171.45,45.51ZM413.65,58.00L414.15,59.31L415.55,59.38L414.46,60.26L414.83,61.62L413.65,60.85L412.47,61.62L412.84,60.26L411.75,59.38L413.15,59.31ZM417.85,58.00L418.35,59.31L419.75,59.38L418.66,60.26L419.03,61.62L417.85,60.85L416.67,61.62L417.04,60.26L415.95,59.38L417.35,59.31ZM422.05,58.00L422.55,59.31L423.95,59.38L422.86,60.26L423.23,61.62L422.05,60.85L420.87,61.62L421.24,60.26L420.15,59.38L421.55,59.31ZM419.40,44.90L419.90,46.21L421.30,46.28L420.21,47.16L420.58,48.52L419.40,47.75L418.22,48.52L418.59,47.16L417.50,46.28L418.90,46.21ZM423.60,44.90L424.10,46.21L425.50,46.28L424.41,47.16L424.78,48.52L423.60,47.75L422.42,48.52L422.79,47.16L421.70,46.28L423.10,46.21ZM427.80,44.90L428.30,46.21L429.70,46.28L428.61,47.16L428.98,48.52L427.80,47.75L426.62,48.52L426.99,47.16L425.90,46.28L427.30,46.21ZM158.75,198.90L159.25,200.21L160.65,200.28L159.56,201.16L159.93,202.52L158.75,201.75L157.57,202.52L157.94,201.16L156.85,200.28L158.25,200.21ZM162.95,198.90L163.45,200.21L164.85,200.28L163.76,201.16L164.13,202.52L162.95,201.75L161.77,202.52L162.14,201.16L161.05,200.28L162.45,200.21ZM167.15,198.90L167.65,200.21L169.05,200.28L167.96,201.16L168.33,202.52L167.15,201.75L165.97,202.52L166.34,201.16L165.25,200.28L166.65,200.21ZM164.40,186.10L164.90,187.41L166.30,187.48L165.21,188.36L165.58,189.72L164.40,188.95L163.22,189.72L163.59,188.36L162.50,187.48L163.90,187.41ZM168.60,186.10L169.10,187.41L170.50,187.48L169.41,188.36L169.78,189.72L168.60,188.95L167.42,189.72L167.79,188.36L166.70,187.48L168.10,187.41ZM172.80,186.10L173.30,187.41L174.70,187.48L173.61,188.36L173.98,189.72L172.80,188.95L171.62,189.72L171.99,188.36L170.90,187.48L172.30,187.41ZM233.45,179.90L233.95,181.21L235.35,181.28L234.26,182.16L234.63,183.52L233.45,182.75L232.27,183.52L232.64,182.16L231.55,181.28L232.95,181.21ZM237.65,179.90L238.15,181.21L239.55,181.28L238.46,182.16L238.83,183.52L237.65,182.75L236.47,183.52L236.84,182.16L235.75,181.28L237.15,181.21ZM417.20,195.70L417.70,197.01L419.10,197.08L418.01,197.96L418.38,199.32L417.20,198.55L416.02,199.32L416.39,197.96L415.30,197.08L416.70,197.01ZM421.40,195.70L421.90,197.01L423.30,197.08L422.21,197.96L422.58,199.32L421.40,198.55L420.22,199.32L420.59,197.96L419.50,197.08L420.90,197.01ZM425.60,195.70L426.10,197.01L427.50,197.08L426.41,197.96L426.78,199.32L425.60,198.55L424.42,199.32L424.79,197.96L423.70,197.08L425.10,197.01ZM422.75,182.50L423.25,183.81L424.65,183.88L423.56,184.76L423.93,186.12L422.75,185.35L421.57,186.12L421.94,184.76L420.85,183.88L422.25,183.81ZM426.95,182.50L427.45,183.81L428.85,183.88L427.76,184.76L428.13,186.12L426.95,185.35L425.77,186.12L426.14,184.76L425.05,183.88L426.45,183.81ZM431.15,182.50L431.65,183.81L433.05,183.88L431.96,184.76L432.33,186.12L431.15,185.35L429.97,186.12L430.34,184.76L429.25,183.88L430.65,183.81ZM158.00,322.70L158.50,324.01L159.90,324.08L158.81,324.96L159.18,326.32L158.00,325.55L156.82,326.32L157.19,324.96L156.10,324.08L157.50,324.01ZM162.20,322.70L162.70,324.01L164.10,324.08L163.01,324.96L163.38,326.32L162.20,325.55L161.02,326.32L161.39,324.96L160.30,324.08L161.70,324.01ZM166.40,322.70L166.90,324.01L168.30,324.08L167.21,324.96L167.58,326.32L166.40,325.55L165.22,326.32L165.59,324.96L164.50,324.08L165.90,324.01ZM163.90,310.10L164.40,311.41L165.80,311.48L164.71,312.36L165.08,313.72L163.90,312.95L162.72,313.72L163.09,312.36L162.00,311.48L163.40,311.41ZM168.10,310.10L168.60,311.41L170.00,311.48L168.91,312.36L169.28,313.72L168.10,312.95L166.92,313.72L167.29,312.36L166.20,311.48L167.60,311.41ZM172.30,310.10L172.80,311.41L174.20,311.48L173.11,312.36L173.48,313.72L172.30,312.95L171.12,313.72L171.49,312.36L170.40,311.48L171.80,311.41ZM233.45,319.40L233.95,320.71L235.35,320.78L234.26,321.66L234.63,323.02L233.45,322.25L232.27,323.02L232.64,321.66L231.55,320.78L232.95,320.71ZM237.65,319.40L238.15,320.71L239.55,320.78L238.46,321.66L238.83,323.02L237.65,322.25L236.47,323.02L236.84,321.66L235.75,320.78L237.15,320.71ZM239.00,306.80L239.50,308.11L240.90,308.18L239.81,309.06L240.18,310.42L239.00,309.65L237.82,310.42L238.19,309.06L237.10,308.18L238.50,308.11ZM243.20,306.80L243.70,308.11L245.10,308.18L244.01,309.06L244.38,310.42L243.20,309.65L242.02,310.42L242.39,309.06L241.30,308.18L242.70,308.11ZM417.05,322.70L417.55,324.01L418.95,324.08L417.86,324.96L418.23,326.32L417.05,325.55L415.87,326.32L416.24,324.96L415.15,324.08L416.55,324.01ZM421.25,322.70L421.75,324.01L423.15,324.08L422.06,324.96L422.43,326.32L421.25,325.55L420.07,326.32L420.44,324.96L419.35,324.08L420.75,324.01ZM425.45,322.70L425.95,324.01L427.35,324.08L426.26,324.96L426.63,326.32L425.45,325.55L424.27,326.32L424.64,324.96L423.55,324.08L424.95,324.01ZM422.80,309.70L423.30,311.01L424.70,311.08L423.61,311.96L423.98,313.32L422.80,312.55L421.62,313.32L421.99,311.96L420.90,311.08L422.30,311.01ZM427.00,309.70L427.50,311.01L428.90,311.08L427.81,311.96L428.18,313.32L427.00,312.55L425.82,313.32L426.19,311.96L425.10,311.08L426.50,311.01ZM431.20,309.70L431.70,311.01L433.10,311.08L432.01,311.96L432.38,313.32L431.20,312.55L430.02,313.32L430.39,311.96L429.30,311.08L430.70,311.01ZM490.70,340.00L491.20,341.51L492.79,341.52L491.51,342.46L491.99,343.98L490.70,343.05L489.41,343.98L489.89,342.46L488.61,341.52L490.20,341.51ZM496.25,327.30L496.75,328.81L498.34,328.82L497.06,329.76L497.54,331.28L496.25,330.35L494.96,331.28L495.44,329.76L494.16,328.82L495.75,328.81ZM159.80,450.10L160.30,451.41L161.70,451.48L160.61,452.36L160.98,453.72L159.80,452.95L158.62,453.72L158.99,452.36L157.90,451.48L159.30,451.41ZM164.00,450.10L164.50,451.41L165.90,451.48L164.81,452.36L165.18,453.72L164.00,452.95L162.82,453.72L163.19,452.36L162.10,451.48L163.50,451.41ZM167.55,435.50L168.05,437.01L169.64,437.02L168.36,437.96L168.84,439.48L167.55,438.55L166.26,439.48L166.74,437.96L165.46,437.02L167.05,437.01ZM231.35,447.70L231.85,449.01L233.25,449.08L232.16,449.96L232.53,451.32L231.35,450.55L230.17,451.32L230.54,449.96L229.45,449.08L230.85,449.01ZM235.55,447.70L236.05,449.01L237.45,449.08L236.36,449.96L236.73,451.32L235.55,450.55L234.37,451.32L234.74,449.96L233.65,449.08L235.05,449.01ZM239.75,447.70L240.25,449.01L241.65,449.08L240.56,449.96L240.93,451.32L239.75,450.55L238.57,451.32L238.94,449.96L237.85,449.08L239.25,449.01ZM237.10,434.70L237.60,436.01L239.00,436.08L237.91,436.96L238.28,438.32L237.10,437.55L235.92,438.32L236.29,436.96L235.20,436.08L236.60,436.01ZM241.30,434.70L241.80,436.01L243.20,436.08L242.11,436.96L242.48,438.32L241.30,437.55L240.12,438.32L240.49,436.96L239.40,436.08L240.80,436.01ZM245.50,434.70L246.00,436.01L247.40,436.08L246.31,436.96L246.68,438.32L245.50,437.55L244.32,438.32L244.69,436.96L243.60,436.08L245.00,436.01ZM417.05,452.40L417.55,453.71L418.95,453.78L417.86,454.66L418.23,456.02L417.05,455.25L415.87,456.02L416.24,454.66L415.15,453.78L416.55,453.71ZM421.25,452.40L421.75,453.71L423.15,453.78L422.06,454.66L422.43,456.02L421.25,455.25L420.07,456.02L420.44,454.66L419.35,453.78L420.75,453.71ZM425.45,452.40L425.95,453.71L427.35,453.78L426.26,454.66L426.63,456.02L425.45,455.25L424.27,456.02L424.64,454.66L423.55,453.78L424.95,453.71ZM422.80,439.70L423.30,441.01L424.70,441.08L423.61,441.96L423.98,443.32L422.80,442.55L421.62,443.32L421.99,441.96L420.90,441.08L422.30,441.01ZM427.00,439.70L427.50,441.01L428.90,441.08L427.81,441.96L428.18,443.32L427.00,442.55L425.82,443.32L426.19,441.96L425.10,441.08L426.50,441.01ZM431.20,439.70L431.70,441.01L433.10,441.08L432.01,441.96L432.38,443.32L431.20,442.55L430.02,443.32L430.39,441.96L429.30,441.08L430.70,441.01ZM486.50,448.10L487.00,449.41L488.40,449.48L487.31,450.36L487.68,451.72L486.50,450.95L485.32,451.72L485.69,450.36L484.60,449.48L486.00,449.41ZM490.70,448.10L491.20,449.41L492.60,449.48L491.51,450.36L491.88,451.72L490.70,450.95L489.52,451.72L489.89,450.36L488.80,449.48L490.20,449.41ZM494.90,448.10L495.40,449.41L496.80,449.48L495.71,450.36L496.08,451.72L494.90,450.95L493.72,451.72L494.09,450.36L493.00,449.48L494.40,449.41ZM492.05,435.10L492.55,436.41L493.95,436.48L492.86,437.36L493.23,438.72L492.05,437.95L490.87,438.72L491.24,437.36L490.15,436.48L491.55,436.41ZM496.25,435.10L496.75,436.41L498.15,436.48L497.06,437.36L497.43,438.72L496.25,437.95L495.07,438.72L495.44,437.36L494.35,436.48L495.75,436.41ZM500.45,435.10L500.95,436.41L502.35,436.48L501.26,437.36L501.63,438.72L500.45,437.95L499.27,438.72L499.64,437.36L498.55,436.48L499.95,436.41ZM159.90,595.70L160.40,597.01L161.80,597.08L160.71,597.96L161.08,599.32L159.90,598.55L158.72,599.32L159.09,597.96L158.00,597.08L159.40,597.01ZM164.10,595.70L164.60,597.01L166.00,597.08L164.91,597.96L165.28,599.32L164.10,598.55L162.92,599.32L163.29,597.96L162.20,597.08L163.60,597.01ZM165.45,583.00L165.95,584.31L167.35,584.38L166.26,585.26L166.63,586.62L165.45,585.85L164.27,586.62L164.64,585.26L163.55,584.38L164.95,584.31ZM169.65,583.00L170.15,584.31L171.55,584.38L170.46,585.26L170.83,586.62L169.65,585.85L168.47,586.62L168.84,585.26L167.75,584.38L169.15,584.31ZM419.20,586.60L419.70,587.91L421.10,587.98L420.01,588.86L420.38,590.22L419.20,589.45L418.02,590.22L418.39,588.86L417.30,587.98L418.70,587.91ZM423.40,586.60L423.90,587.91L425.30,587.98L424.21,588.86L424.58,590.22L423.40,589.45L422.22,590.22L422.59,588.86L421.50,587.98L422.90,587.91ZM424.70,573.90L425.20,575.21L426.60,575.28L425.51,576.16L425.88,577.52L424.70,576.75L423.52,577.52L423.89,576.16L422.80,575.28L424.20,575.21ZM428.90,573.90L429.40,575.21L430.80,575.28L429.71,576.16L430.08,577.52L428.90,576.75L427.72,577.52L428.09,576.16L427.00,575.28L428.40,575.21ZM488.55,576.50L489.05,577.81L490.45,577.88L489.36,578.76L489.73,580.12L488.55,579.35L487.37,580.12L487.74,578.76L486.65,577.88L488.05,577.81ZM492.75,576.50L493.25,577.81L494.65,577.88L493.56,578.76L493.93,580.12L492.75,579.35L491.57,580.12L491.94,578.76L490.85,577.88L492.25,577.81ZM492.10,563.70L492.60,565.01L494.00,565.08L492.91,565.96L493.28,567.32L492.10,566.55L490.92,567.32L491.29,565.96L490.20,565.08L491.60,565.01ZM496.30,563.70L496.80,565.01L498.20,565.08L497.11,565.96L497.48,567.32L496.30,566.55L495.12,567.32L495.49,565.96L494.40,565.08L495.80,565.01ZM500.50,563.70L501.00,565.01L502.40,565.08L501.31,565.96L501.68,567.32L500.50,566.55L499.32,567.32L499.69,565.96L498.60,565.08L500.00,565.01Z" fill="#222"/>
</svg></body></html>
